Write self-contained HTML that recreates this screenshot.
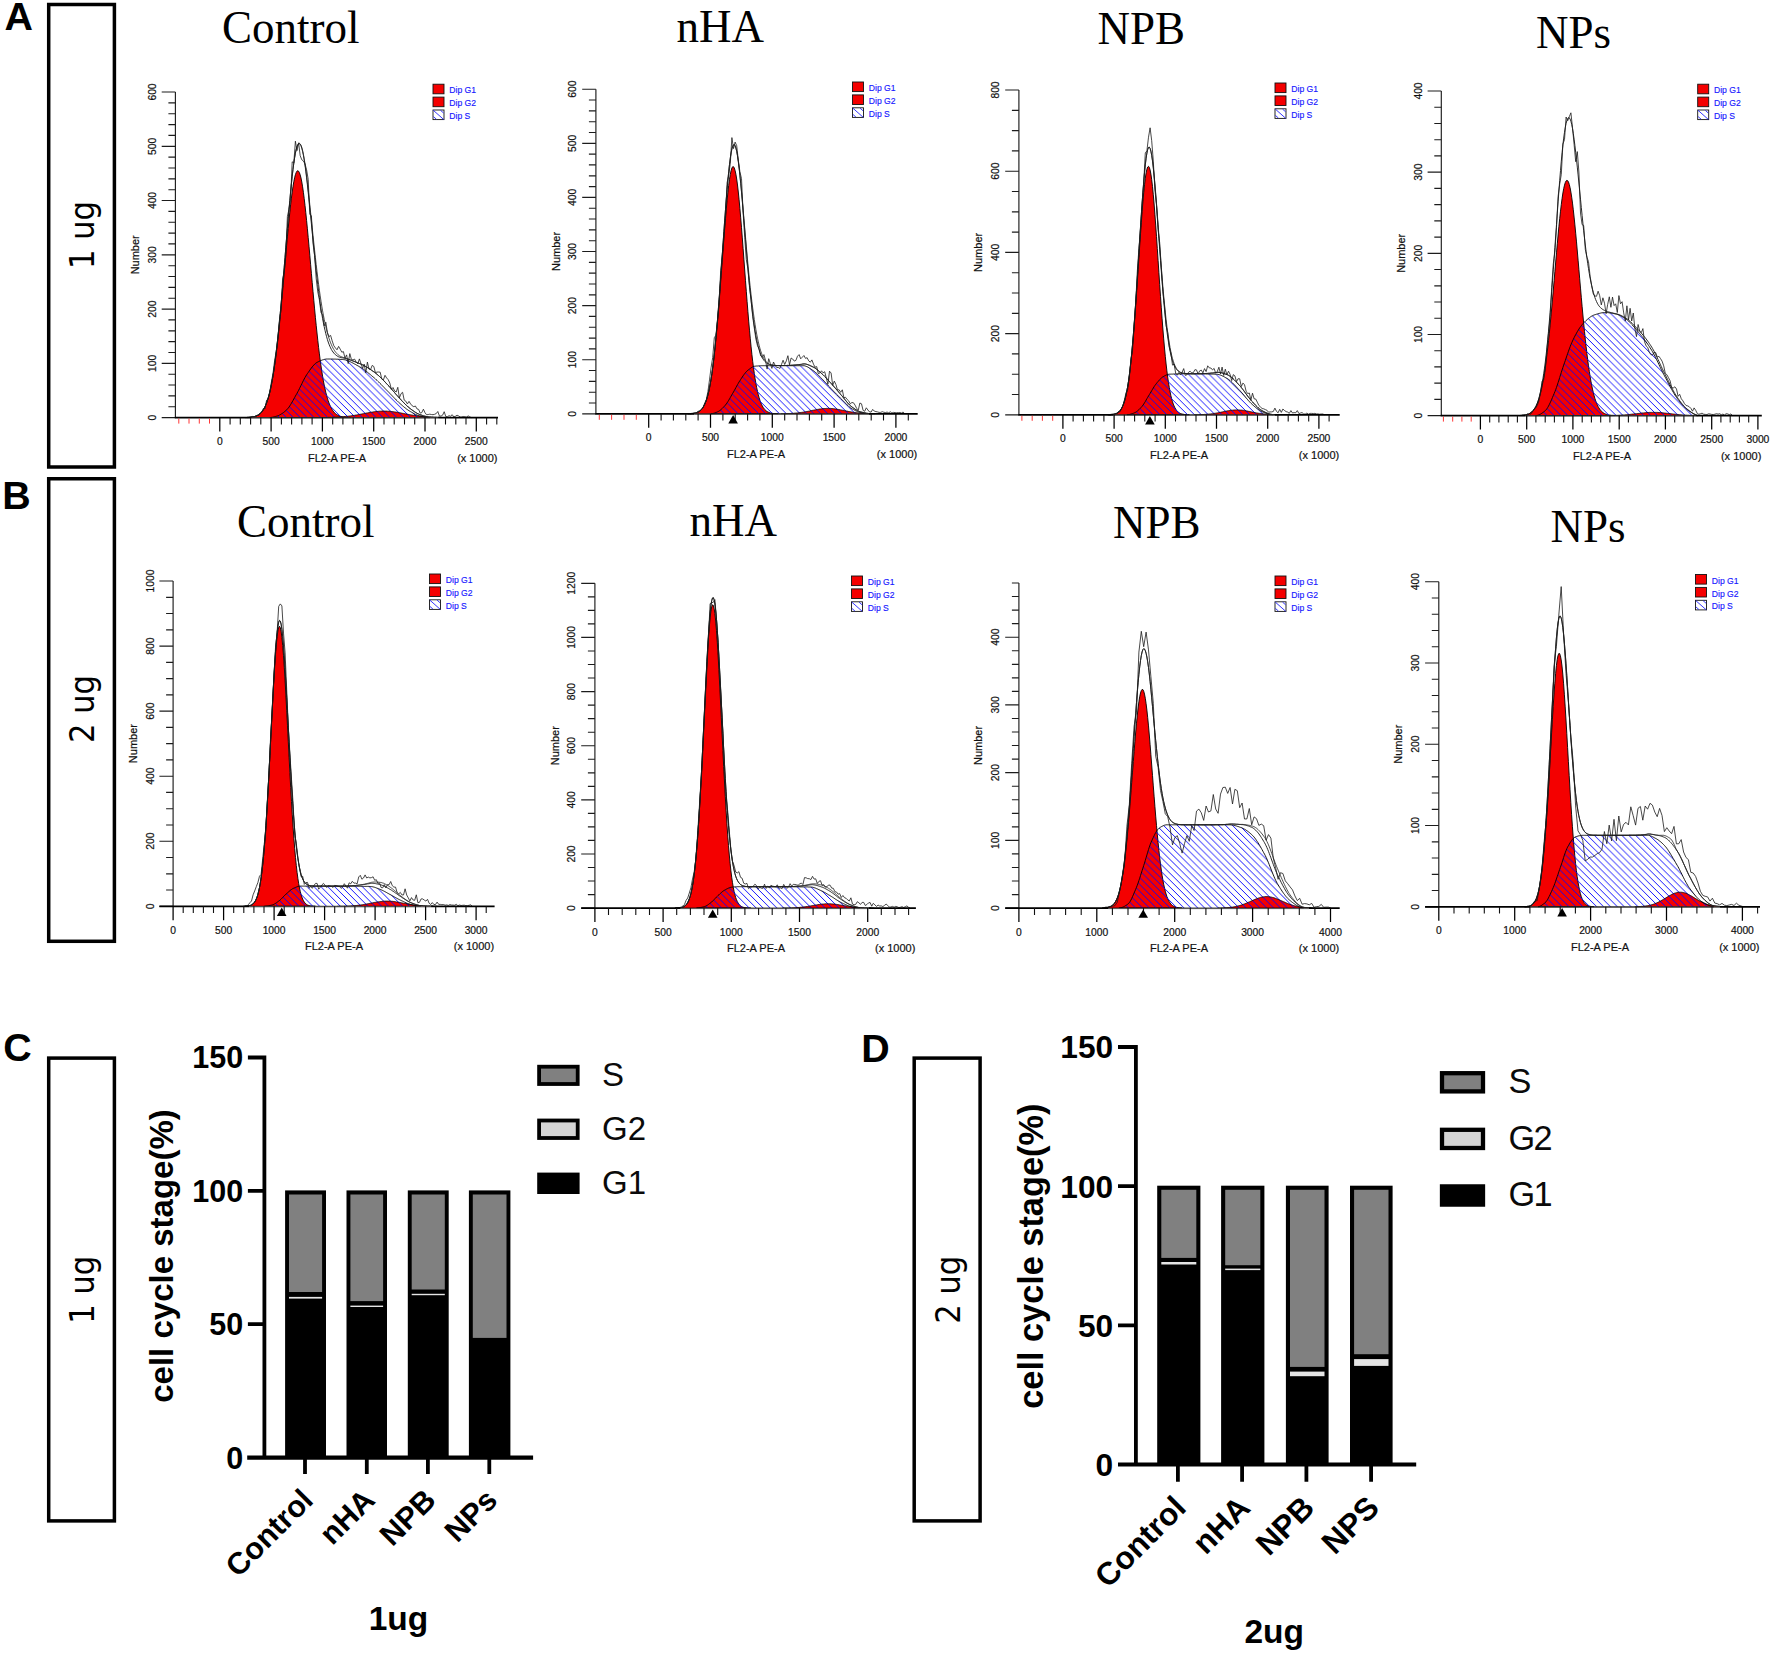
<!DOCTYPE html>
<html lang="en"><head><meta charset="utf-8"><title>Cell cycle analysis</title>
<style>html,body{margin:0;padding:0;background:#fff}svg{display:block}</style></head><body>
<svg width="1772" height="1654" viewBox="0 0 1772 1654">
<defs>
<pattern id="hatch" width="6.9" height="6.9" patternUnits="userSpaceOnUse"><path d="M-1,-1L8,8M-1,5.9L1,7.9M5.9,-1L7.9,1" stroke="#0505ff" stroke-width="0.95" fill="none"/></pattern>
<pattern id="hatchL" width="4" height="4" patternUnits="userSpaceOnUse"><rect width="4" height="4" fill="#fff"/></pattern>
</defs>
<rect width="1772" height="1654" fill="#fff"/>
<g font-family='"Liberation Sans", sans-serif' font-weight="bold" font-size="39.4" fill="#000">
<text x="4.6" y="29.9">A</text><text x="2.3" y="509">B</text><text x="3.2" y="1061.4">C</text><text x="861.2" y="1061.5">D</text>
</g>
<g fill="none" stroke="#000" stroke-width="3.5">
<rect x="48.7" y="4.5" width="65.7" height="462.5"/>
<rect x="48.7" y="478.75" width="65.7" height="462.55"/>
<rect x="48.7" y="1058.1" width="65.7" height="462.8"/>
<rect x="914.2" y="1058.1" width="65.9" height="462.8"/>
</g>
<g font-family='"DejaVu Sans Condensed", "DejaVu Sans", "Liberation Sans", sans-serif' fill="#000" text-anchor="middle">
<text transform="translate(94.2,235) rotate(-90)" font-size="34">1 ug</text>
<text transform="translate(94.2,709) rotate(-90)" font-size="34">2 ug</text>
<text transform="translate(94.1,1289.8) rotate(-90)" font-size="34">1 ug</text>
<text transform="translate(960,1289.8) rotate(-90)" font-size="34">2 ug</text>
</g>
<g font-family='"Liberation Serif", serif' font-size="45" fill="#000">
<text transform="translate(222.1,43.2) scale(1,1.04)">Control</text>
<text transform="translate(676.6,42.3) scale(1,1.04)">nHA</text>
<text transform="translate(1097.6,43.6) scale(1,1.04)">NPB</text>
<text transform="translate(1536.1,47.6) scale(1,1.04)">NPs</text>
<text transform="translate(237.1,537.3) scale(1,1.04)">Control</text>
<text transform="translate(689.6,536.3) scale(1,1.04)">nHA</text>
<text transform="translate(1112.9,537.6) scale(1,1.04)">NPB</text>
<text transform="translate(1550.6,541.6) scale(1,1.04)">NPs</text>
</g>
<g>
<path d="M245,417.5L245.8,417.5L246.6,417.5L247.4,417.4L248.2,417.4L249,417.4L249.8,417.3L250.6,417.2L251.4,417.1L252.2,417L253,416.9L253.8,416.7L254.6,416.5L255.4,416.2L256.2,416L257,415.6L257.8,415.2L258.6,414.7L259.4,414.1L260.2,413.5L261,412.7L261.8,411.8L262.6,410.8L263.4,409.6L264.2,408.2L265,406.6L265.8,404.9L266.6,402.8L267.4,400.6L268.2,398L269,395.2L269.8,392.1L270.6,388.6L271.4,384.7L272.2,380.5L273,375.9L273.8,371L274.6,365.6L275.4,359.8L276.2,353.6L277,347L277.8,340L278.6,332.6L279.4,324.8L280.2,316.8L281,308.4L281.8,299.8L282.6,291L283.4,282L284.2,272.9L285,263.8L285.8,254.7L286.6,245.7L287.4,236.9L288.2,228.3L289,220.1L289.8,212.3L290.6,204.9L291.4,198.1L292.2,192L293,186.5L293.8,181.7L294.6,177.8L295.4,174.7L296.2,172.5L297,171.1L297.8,170.7L298.6,171.2L299.4,172.6L300.2,174.9L301,178L301.8,182L302.6,186.8L303.4,192.3L304.2,198.5L305,205.4L305.8,212.7L306.6,220.6L307.4,228.8L308.2,237.4L309,246.2L309.8,255.2L310.6,264.3L311.4,273.4L312.2,282.5L313,291.5L313.8,300.3L314.6,308.9L315.4,317.3L316.2,325.3L317,333L317.8,340.4L318.6,347.4L319.4,353.9L320.2,360.1L321,365.9L321.8,371.3L322.6,376.2L323.4,380.8L324.2,385L325,388.8L325.8,392.3L326.6,395.4L327.4,398.2L328.2,400.7L329,403L329.8,405L330.6,406.7L331.4,408.3L332.2,409.6L333,410.8L333.8,411.9L334.6,412.8L335.4,413.5L336.2,414.2L337,414.7L337.8,415.2L338.6,415.6L339.4,416L340.2,416.3L341,416.5L341.8,416.7L342.6,416.9L343.4,417L344.2,417.1L345,417.2L345.8,417.3L346.6,417.4L347.4,417.4L348.2,417.4L349,417.5L349.8,417.5L350.6,417.5L350.6,417.6L245,417.6Z" fill="#f40000" stroke="#000" stroke-width="0.9" stroke-linejoin="round"/>
<path d="M322.6,417.5L323.4,417.5L324.2,417.5L325,417.5L325.8,417.5L326.6,417.5L327.4,417.5L328.2,417.4L329,417.4L329.8,417.4L330.6,417.4L331.4,417.4L332.2,417.3L333,417.3L333.8,417.3L334.6,417.2L335.4,417.2L336.2,417.2L337,417.1L337.8,417.1L338.6,417L339.4,417L340.2,416.9L341,416.9L341.8,416.8L342.6,416.7L343.4,416.7L344.2,416.6L345,416.5L345.8,416.4L346.6,416.4L347.4,416.3L348.2,416.2L349,416.1L349.8,416L350.6,415.9L351.4,415.8L352.2,415.6L353,415.5L353.8,415.4L354.6,415.3L355.4,415.1L356.2,415L357,414.9L357.8,414.7L358.6,414.6L359.4,414.4L360.2,414.3L361,414.1L361.8,414L362.6,413.8L363.4,413.7L364.2,413.5L365,413.4L365.8,413.2L366.6,413L367.4,412.9L368.2,412.8L369,412.6L369.8,412.5L370.6,412.3L371.4,412.2L372.2,412.1L373,412L373.8,411.8L374.6,411.7L375.4,411.6L376.2,411.5L377,411.5L377.8,411.4L378.6,411.3L379.4,411.2L380.2,411.2L381,411.2L381.8,411.1L382.6,411.1L383.4,411.1L384.2,411.1L385,411.1L385.8,411.1L386.6,411.1L387.4,411.2L388.2,411.2L389,411.3L389.8,411.3L390.6,411.4L391.4,411.5L392.2,411.6L393,411.7L393.8,411.8L394.6,411.9L395.4,412L396.2,412.1L397,412.3L397.8,412.4L398.6,412.6L399.4,412.7L400.2,412.8L401,413L401.8,413.1L402.6,413.3L403.4,413.4L404.2,413.6L405,413.8L405.8,413.9L406.6,414.1L407.4,414.2L408.2,414.4L409,414.5L409.8,414.7L410.6,414.8L411.4,414.9L412.2,415.1L413,415.2L413.8,415.3L414.6,415.5L415.4,415.6L416.2,415.7L417,415.8L417.8,415.9L418.6,416L419.4,416.1L420.2,416.2L421,416.3L421.8,416.4L422.6,416.5L423.4,416.6L424.2,416.6L425,416.7L425.8,416.8L426.6,416.8L427.4,416.9L428.2,417L429,417L429.8,417.1L430.6,417.1L431.4,417.2L432.2,417.2L433,417.2L433.8,417.3L434.6,417.3L435.4,417.3L436.2,417.3L437,417.4L437.8,417.4L438.6,417.4L439.4,417.4L440.2,417.4L441,417.5L441.8,417.5L442.6,417.5L443.4,417.5L444.2,417.5L445,417.5L445,417.6L322.6,417.6Z" fill="#f40000"/>
<path d="M269.8,417.6L270.6,417.5L271.4,417.4L272.2,417.3L273,417.1L273.8,416.9L274.6,416.7L275.4,416.5L276.2,416.3L277,416L277.8,415.8L278.6,415.5L279.4,415.1L280.2,414.7L281,414.2L281.8,413.7L282.6,413.2L283.4,412.6L284.2,412L285,411.3L285.8,410.6L286.6,409.9L287.4,409.1L288.2,408.1L289,407.1L289.8,405.9L290.6,404.6L291.4,403.3L292.2,401.9L293,400.5L293.8,399L294.6,397.6L295.4,396.1L296.2,394.7L297,393.3L297.8,391.8L298.6,390.3L299.4,388.7L300.2,387.1L301,385.4L301.8,383.8L302.6,382.1L303.4,380.5L304.2,379L305,377.5L305.8,376.1L306.6,374.8L307.4,373.6L308.2,372.5L309,371.3L309.8,370.2L310.6,369L311.4,368L312.2,366.9L313,366L313.8,365.1L314.6,364.2L315.4,363.5L316.2,362.9L317,362.4L317.8,362L318.6,361.6L319.4,361.2L320.2,360.9L321,360.5L321.8,360.2L322.6,359.9L323.4,359.7L324.2,359.4L325,359.3L325.8,359.1L326.6,359L327.4,359L328.2,359L329,359L329.8,359L330.6,359L331.4,359L332.2,359L333,359.1L333.8,359.1L334.6,359.1L335.4,359.1L336.2,359.2L337,359.2L337.8,359.2L338.6,359.3L339.4,359.3L340.2,359.4L341,359.4L341.8,359.5L342.6,359.5L343.4,359.6L344.2,359.7L345,359.8L345.8,360L346.6,360.3L347.4,360.5L348.2,360.8L349,361.1L349.8,361.5L350.6,361.9L351.4,362.3L352.2,362.7L353,363.1L353.8,363.5L354.6,364L355.4,364.4L356.2,364.9L357,365.3L357.8,365.8L358.6,366.2L359.4,366.7L360.2,367.1L361,367.6L361.8,368.1L362.6,368.7L363.4,369.2L364.2,369.8L365,370.4L365.8,371L366.6,371.6L367.4,372.2L368.2,372.9L369,373.5L369.8,374.2L370.6,374.8L371.4,375.5L372.2,376.2L373,376.9L373.8,377.5L374.6,378.2L375.4,378.9L376.2,379.7L377,380.4L377.8,381.2L378.6,381.9L379.4,382.7L380.2,383.5L381,384.3L381.8,385.2L382.6,386L383.4,386.8L384.2,387.6L385,388.5L385.8,389.3L386.6,390.1L387.4,390.9L388.2,391.7L389,392.5L389.8,393.4L390.6,394.2L391.4,395L392.2,395.8L393,396.7L393.8,397.5L394.6,398.3L395.4,399.1L396.2,400L397,400.7L397.8,401.5L398.6,402.3L399.4,403L400.2,403.7L401,404.4L401.8,405.1L402.6,405.8L403.4,406.5L404.2,407.2L405,407.8L405.8,408.4L406.6,409.1L407.4,409.6L408.2,410.2L409,410.7L409.8,411.2L410.6,411.7L411.4,412.1L412.2,412.6L413,413.1L413.8,413.5L414.6,413.9L415.4,414.3L416.2,414.7L417,415L417.8,415.3L418.6,415.6L419.4,415.9L420.2,416.1L421,416.2L421.8,416.4L422.6,416.6L423.4,416.8L424.2,416.9L425,417.1L425.8,417.2L426.6,417.3L427.4,417.4L428.2,417.5L429,417.6L429.8,417.6L429.8,417.6L269.8,417.6Z" fill="url(#hatch)" stroke="#000" stroke-width="0.9" stroke-linejoin="round"/>
<path d="M322.6,417.5L323.4,417.5L324.2,417.5L325,417.5L325.8,417.5L326.6,417.5L327.4,417.5L328.2,417.4L329,417.4L329.8,417.4L330.6,417.4L331.4,417.4L332.2,417.3L333,417.3L333.8,417.3L334.6,417.2L335.4,417.2L336.2,417.2L337,417.1L337.8,417.1L338.6,417L339.4,417L340.2,416.9L341,416.9L341.8,416.8L342.6,416.7L343.4,416.7L344.2,416.6L345,416.5L345.8,416.4L346.6,416.4L347.4,416.3L348.2,416.2L349,416.1L349.8,416L350.6,415.9L351.4,415.8L352.2,415.6L353,415.5L353.8,415.4L354.6,415.3L355.4,415.1L356.2,415L357,414.9L357.8,414.7L358.6,414.6L359.4,414.4L360.2,414.3L361,414.1L361.8,414L362.6,413.8L363.4,413.7L364.2,413.5L365,413.4L365.8,413.2L366.6,413L367.4,412.9L368.2,412.8L369,412.6L369.8,412.5L370.6,412.3L371.4,412.2L372.2,412.1L373,412L373.8,411.8L374.6,411.7L375.4,411.6L376.2,411.5L377,411.5L377.8,411.4L378.6,411.3L379.4,411.2L380.2,411.2L381,411.2L381.8,411.1L382.6,411.1L383.4,411.1L384.2,411.1L385,411.1L385.8,411.1L386.6,411.1L387.4,411.2L388.2,411.2L389,411.3L389.8,411.3L390.6,411.4L391.4,411.5L392.2,411.6L393,411.7L393.8,411.8L394.6,411.9L395.4,412L396.2,412.1L397,412.3L397.8,412.4L398.6,412.6L399.4,412.7L400.2,412.8L401,413L401.8,413.1L402.6,413.3L403.4,413.4L404.2,413.6L405,413.8L405.8,413.9L406.6,414.1L407.4,414.2L408.2,414.4L409,414.5L409.8,414.7L410.6,414.8L411.4,414.9L412.2,415.1L413,415.2L413.8,415.3L414.6,415.5L415.4,415.6L416.2,415.7L417,415.8L417.8,415.9L418.6,416L419.4,416.1L420.2,416.2L421,416.3L421.8,416.4L422.6,416.5L423.4,416.6L424.2,416.6L425,416.7L425.8,416.8L426.6,416.8L427.4,416.9L428.2,417L429,417L429.8,417.1L430.6,417.1L431.4,417.2L432.2,417.2L433,417.2L433.8,417.3L434.6,417.3L435.4,417.3L436.2,417.3L437,417.4L437.8,417.4L438.6,417.4L439.4,417.4L440.2,417.4L441,417.5L441.8,417.5L442.6,417.5L443.4,417.5L444.2,417.5L445,417.5" fill="none" stroke="#000" stroke-width="0.8" stroke-linejoin="round"/>
<path d="M247.4,417.4L248.2,417.4L249,417.4L249.8,417.3L250.6,417.2L251.4,417.1L252.2,417L253,416.9L253.8,416.7L254.6,416.5L255.4,416.2L256.2,416L257,415.6L257.8,415.2L258.6,414.7L259.4,414.1L260.2,413.5L261,412.7L261.8,411.8L262.6,410.8L263.4,409.6L264.2,408.2L265,406.6L265.8,404.9L266.6,402.8L267.4,400.6L268.2,398L269,395.2L269.8,392L270.6,388.5L271.4,384.6L272.2,380.2L273,375.5L273.8,370.3L274.6,364.7L275.4,358.7L276.2,352.2L277,345.4L277.8,338.1L278.6,330.5L279.4,322.4L280.2,313.9L281,305.1L281.8,295.9L282.6,286.6L283.4,277L284.2,267.3L285,257.5L285.8,247.7L286.6,238L287.4,228.4L288.2,218.9L289,209.5L289.8,200.6L290.6,191.9L291.4,183.8L292.2,176.3L293,169.4L293.8,163.2L294.6,157.8L295.4,153.2L296.2,149.5L297,146.8L297.8,144.9L298.6,143.9L299.4,143.7L300.2,144.3L301,145.8L301.8,148.2L302.6,151.3L303.4,155.2L304.2,159.9L305,165.2L305.8,171.2L306.6,177.8L307.4,184.8L308.2,192.3L309,199.9L309.8,207.8L310.6,215.7L311.4,223.8L312.2,231.8L313,239.8L313.8,247.7L314.6,255.5L315.4,263.1L316.2,270.6L317,277.8L317.8,284.7L318.6,291.3L319.4,297.5L320.2,303.3L321,308.8L321.8,313.8L322.6,318.5L323.4,322.8L324.2,326.7L325,330.3L325.8,333.7L326.6,336.7L327.4,339.5L328.2,342L329,344.2L329.8,346.2L330.6,347.9L331.4,349.5L332.2,350.8L333,352L333.8,353L334.6,353.9L335.4,354.7L336.2,355.3L337,355.9L337.8,356.4L338.6,356.8L339.4,357.1L340.2,357.4L341,357.6L341.8,357.8L342.6,357.9L343.4,358.1L344.2,358.2L345,358.4L345.8,358.6L346.6,358.8L347.4,359L348.2,359.2L349,359.5L349.8,359.8L350.6,360.1L351.4,360.4L352.2,360.7L353,361L353.8,361.3L354.6,361.6L355.4,361.9L356.2,362.3L357,362.6L357.8,362.9L358.6,363.2L359.4,363.5L360.2,363.8L361,364.1L361.8,364.5L362.6,364.9L363.4,365.3L364.2,365.7L365,366.1L365.8,366.6L366.6,367.1L367.4,367.5L368.2,368L369,368.5L369.8,369L370.6,369.6L371.4,370.1L372.2,370.7L373,371.2L373.8,371.8L374.6,372.3L375.4,373L376.2,373.6L377,374.3L377.8,374.9L378.6,375.7L379.4,376.4L380.2,377.1L381,377.9L381.8,378.7L382.6,379.5L383.4,380.3L384.2,381.1L385,382L385.8,382.8L386.6,383.7L387.4,384.5L388.2,385.4L389,386.2L389.8,387.1L390.6,388L391.4,388.9L392.2,389.8L393,390.8L393.8,391.7L394.6,392.6L395.4,393.6L396.2,394.5L397,395.4L397.8,396.3L398.6,397.2L399.4,398.1L400.2,398.9L401,399.8L401.8,400.7L402.6,401.5L403.4,402.3L404.2,403.2L405,404L405.8,404.8L406.6,405.5L407.4,406.2L408.2,407L409,407.6L409.8,408.3L410.6,408.9L411.4,409.5L412.2,410.1L413,410.7L413.8,411.2L414.6,411.8L415.4,412.3L416.2,412.8L417,413.2L417.8,413.7L418.6,414L419.4,414.4L420.2,414.7L421,415L421.8,415.2L422.6,415.5L423.4,415.8L424.2,416L425,416.2L425.8,416.4L426.6,416.6L427.4,416.7L428.2,416.9L429,417L429.8,417.1L430.6,417.1L431.4,417.2L432.2,417.2L433,417.2L433.8,417.3L434.6,417.3L435.4,417.3L436.2,417.3L437,417.4L437.8,417.4L438.6,417.4L439.4,417.4L440.2,417.4" fill="none" stroke="#111" stroke-width="0.9" stroke-linejoin="round"/>
<path d="M247.4,417.4L248.2,417.4L249,417.4L249.8,417.3L250.6,417.2L251.4,417.1L252.2,417L253,416.9L253.8,416.7L254.6,416.5L255.4,416.2L256.2,416L257,415.6L257.8,415.2L258.6,414.7L259.4,414.1L260.2,413.5L261,412.7L261.8,411.8L262.6,410.8L263.4,409.6L264.2,408.2L265,406.6L265.8,404.9L266.6,402.8L267.4,400.6L268.2,398L269,395.2L269.8,392L270.6,388.5L271.4,384.6L272.2,380.2L273,375.5L273.8,370.3L274.6,364.7L275.4,358.7L276.2,352.2L277,345.4L277.8,338.1L278.6,330.5L279.4,322.4L280.2,313.9L281,305.1L281.8,295.9L282.6,286.5L283.4,277L284.2,267.3L285,257.5L285.8,247.7L286.6,238L287.4,228.4L288.2,218.8L289,209.5L289.8,200.5L290.6,191.9L291.4,183.8L292.2,176.2L293,169.3L293.8,163.1L294.6,157.7L295.4,153.1L296.2,149.4L297,146.6L297.8,144.7L298.6,143.6L299.4,143.3L300.2,143.9L301,145.3L301.8,147.5L302.6,150.5L303.4,154.3L304.2,158.8L305,163.9L305.8,169.7L306.6,176L307.4,182.8L308.2,189.9L309,197.3L309.8,204.8L310.6,212.4L311.4,220L312.2,227.7L313,235.3L313.8,242.8L314.6,250.2L315.4,257.4L316.2,264.5L317,271.4L317.8,278L318.6,284.3L319.4,290.3L320.2,295.9L321,301.2L321.8,306.2L322.6,310.9L323.4,315.2L324.2,319.3L325,323L325.8,326.6L326.6,329.8L327.4,332.9L328.2,335.7L329,338.3L329.8,340.7L330.6,342.8L331.4,344.7L332.2,346.5L333,348.1L333.8,349.5L334.6,350.7L335.4,351.9L336.2,352.8L337,353.7L337.8,354.5L338.6,355.1L339.4,355.7L340.2,356.2L341,356.6L341.8,356.9L342.6,357.2L343.4,357.5L344.2,357.7L345,358L345.8,358.3L346.6,358.5L347.4,358.8L348.2,359.1L349,359.4L349.8,359.7L350.6,360L351.4,360.3L352.2,360.6L353,361L353.8,361.3L354.6,361.6L355.4,361.9L356.2,362.3L357,362.6L357.8,362.9L358.6,363.2L359.4,363.5L360.2,363.8L361,364.1L361.8,364.5L362.6,364.9L363.4,365.3L364.2,365.7L365,366.1L365.8,366.6L366.6,367.1L367.4,367.5L368.2,368L369,368.5L369.8,369L370.6,369.6L371.4,370.1L372.2,370.7L373,371.2L373.8,371.8L374.6,372.3L375.4,373L376.2,373.6L377,374.3L377.8,374.9L378.6,375.7L379.4,376.4L380.2,377.1L381,377.9L381.8,378.7L382.6,379.5L383.4,380.3L384.2,381.1L385,382L385.8,382.8L386.6,383.7L387.4,384.5L388.2,385.4L389,386.2L389.8,387.1L390.6,388L391.4,388.9L392.2,389.8L393,390.8L393.8,391.7L394.6,392.6L395.4,393.6L396.2,394.5L397,395.4L397.8,396.3L398.6,397.2L399.4,398.1L400.2,398.9L401,399.8L401.8,400.7L402.6,401.5L403.4,402.3L404.2,403.2L405,404L405.8,404.8L406.6,405.5L407.4,406.2L408.2,407L409,407.6L409.8,408.3L410.6,408.9L411.4,409.5L412.2,410.1L413,410.7L413.8,411.2L414.6,411.8L415.4,412.3L416.2,412.8L417,413.2L417.8,413.7L418.6,414L419.4,414.4L420.2,414.7L421,415L421.8,415.2L422.6,415.5L423.4,415.8L424.2,416L425,416.2L425.8,416.4L426.6,416.6L427.4,416.7L428.2,416.9L429,417L429.8,417.1L430.6,417.1L431.4,417.2L432.2,417.2L433,417.2L433.8,417.3L434.6,417.3L435.4,417.3L436.2,417.3L437,417.4L437.8,417.4L438.6,417.4L439.4,417.4L440.2,417.4" fill="none" stroke="#222" stroke-width="0.8" stroke-linejoin="round"/>
<path d="M247.4,417.6L249,417.4L250.6,417.3L252.2,416.4L253.8,416.9L255.4,416.4L257,415.3L258.6,415.5L260.2,413.9L261.8,411.8L263.4,408.4L265,408.9L266.6,400.1L268.2,398.9L269.8,391.6L271.4,382L273,373.3L274.6,360.7L276.2,351.5L277.8,338.2L279.4,320.6L281,310.3L282.6,279L284.2,271.6L285.8,255.4L287.4,216.5L289,209L290.6,199.1L292.2,161.8L293.8,163.1L295.4,141.2L297,150.6L298.6,142.8L300.2,155.7L301.8,159.8L303.4,161L305,163.9L306.6,169.8L308.2,179.4L309.8,214.5L311.4,215.7L313,243.2L314.6,255.6L316.2,278.7L317.8,292L319.4,299.9L321,312.5L322.6,314.9L324.2,325.8L325.8,322.2L327.4,332.5L329,336.6L330.6,335.4L332.2,340.9L333.8,345.7L335.4,347.9L337,349.8L338.6,346.4L340.2,349.1L341.8,352.2L343.4,351.6L345,358.1L346.6,354.9L348.2,363.6L349.8,353.6L351.4,359.4L353,359.9L354.6,359.1L356.2,362.2L357.8,363.8L359.4,358.9L361,363.7L362.6,368.3L364.2,364.1L365.8,372.9L367.4,362.1L369,369.1L370.6,369.4L372.2,365.4L373.8,366.5L375.4,372.6L377,372.1L378.6,372L380.2,372.2L381.8,379.1L383.4,379.9L385,375.3L386.6,377.9L388.2,379.7L389.8,383L391.4,389.4L393,387.5L394.6,390.9L396.2,392L397.8,387.3L399.4,397.9L401,393.7L402.6,392.3L404.2,400.1L405.8,401.2L407.4,403.9L409,401.4L410.6,403.9L412.2,405.8L413.8,406.7L415.4,406L417,408.9L418.6,409.4L420.2,413.1L421.8,412.6L423.4,409.2L425,412.7L426.6,414.8L428.2,414.5L429.8,414.2L431.4,414.5L433,414.7L434.6,414.3L436.2,413.6L437.8,411.5L439.4,415.9L441,416.1L442.6,415.2L444.2,411.7L445.8,416.6L447.4,416.7L449,415.7L450.6,416.2L452.2,414.7L453.8,416.9L455.4,416.3L457,415.2L458.6,415.9L460.2,417L461.8,417L463.4,416.5L465,416.9L466.6,417L468.2,415.9L469.8,416.9L471.4,417.6" fill="none" stroke="#1a1a1a" stroke-width="0.8" stroke-linejoin="round"/>
<g stroke="#1c1c1c" stroke-width="1.15" fill="none">
<path d="M175.4,92V417.6"/>
<path d="M161.7,417.6H175.4M168.4,406.7H175.4M168.4,395.9H175.4M168.4,385H175.4M168.4,374.2H175.4M161.7,363.3H175.4M168.4,352.5H175.4M168.4,341.6H175.4M168.4,330.8H175.4M168.4,319.9H175.4M161.7,309.1H175.4M168.4,298.2H175.4M168.4,287.4H175.4M168.4,276.5H175.4M168.4,265.7H175.4M161.7,254.8H175.4M168.4,243.9H175.4M168.4,233.1H175.4M168.4,222.2H175.4M168.4,211.4H175.4M161.7,200.5H175.4M168.4,189.7H175.4M168.4,178.8H175.4M168.4,168H175.4M168.4,157.1H175.4M161.7,146.3H175.4M168.4,135.4H175.4M168.4,124.6H175.4M168.4,113.7H175.4M168.4,102.9H175.4M161.7,92H175.4"/>
</g>
<path d="M174.8,417.6H251.4M438.2,417.6H498" stroke="#000" stroke-width="1.8"/>
<path d="M251.4,418.1H438.2" stroke="#555" stroke-width="1"/>
<path d="M178.8,418.6V423.6M189,418.6V423.6M199.3,418.6V423.6M209.5,418.6V423.6" stroke="#ff2020" stroke-width="0.9"/>
<path d="M219.8,417.6V431.6M271.1,417.6V431.6M322.4,417.6V431.6M373.7,417.6V431.6M425,417.6V431.6M476.3,417.6V431.6" stroke="#000" stroke-width="1.25"/>
<path d="M230.1,417.6V424.4M240.3,417.6V424.4M250.6,417.6V424.4M260.8,417.6V424.4M281.4,417.6V424.4M291.6,417.6V424.4M301.9,417.6V424.4M312.1,417.6V424.4M332.7,417.6V424.4M342.9,417.6V424.4M353.2,417.6V424.4M363.4,417.6V424.4M384,417.6V424.4M394.2,417.6V424.4M404.5,417.6V424.4M414.7,417.6V424.4M435.3,417.6V424.4M445.5,417.6V424.4M455.8,417.6V424.4M466,417.6V424.4M486.6,417.6V424.4M496.8,417.6V424.4" stroke="#111" stroke-width="1.1"/>
<g font-family='"Liberation Sans", sans-serif' font-size="10.3" fill="#111" stroke="#111" stroke-width="0.2" text-anchor="middle">
<text x="219.8" y="445">0</text>
<text x="271.1" y="445">500</text>
<text x="322.4" y="445">1000</text>
<text x="373.7" y="445">1500</text>
<text x="425" y="445">2000</text>
<text x="476.3" y="445">2500</text>
<text transform="translate(155.9,417.6) rotate(-90)">0</text>
<text transform="translate(155.9,363.3) rotate(-90)">100</text>
<text transform="translate(155.9,309.1) rotate(-90)">200</text>
<text transform="translate(155.9,254.8) rotate(-90)">300</text>
<text transform="translate(155.9,200.5) rotate(-90)">400</text>
<text transform="translate(155.9,146.3) rotate(-90)">500</text>
<text transform="translate(155.9,92) rotate(-90)">600</text>
</g>
<g font-family='"Liberation Sans", sans-serif' font-size="11" fill="#111" stroke="#111" stroke-width="0.2">
<text x="337" y="461.6" text-anchor="middle">FL2-A PE-A</text>
<text x="497.5" y="461.6" text-anchor="end">(x 1000)</text>
<text transform="translate(139,254.8) rotate(-90)" text-anchor="middle">Number</text>
</g>
<g font-family='"Liberation Sans", sans-serif' font-size="8.6" fill="#1818ff" stroke="#1818ff" stroke-width="0.15">
<rect x="433" y="84.2" width="11" height="9.6" fill="#f40000" stroke="#111" stroke-width="0.9"/>
<text x="449.3" y="93.3">Dip G1</text>
<rect x="433" y="97.1" width="11" height="9.6" fill="#f40000" stroke="#111" stroke-width="0.9"/>
<text x="449.3" y="106.2">Dip G2</text>
<rect x="433" y="110" width="11" height="9.6" fill="url(#hatchL)" stroke="#111" stroke-width="0.9"/>
<path d="M433.3,110.3l10.4,9.2M440.6,110.4l3,2.6M433.4,116.6l3,2.6" stroke="#2020ff" stroke-width="0.9"/>
<text x="449.3" y="119.1">Dip S</text>
</g>
</g>
<g>
<path d="M687.9,413.7L688.7,413.7L689.5,413.7L690.3,413.7L691.1,413.6L691.9,413.5L692.7,413.5L693.5,413.4L694.3,413.2L695.1,413.1L695.9,412.9L696.7,412.6L697.5,412.3L698.3,412L699.1,411.5L699.9,410.9L700.7,410.3L701.5,409.4L702.3,408.5L703.1,407.3L703.9,405.9L704.7,404.3L705.5,402.5L706.3,400.3L707.1,397.8L707.9,394.9L708.7,391.6L709.5,387.8L710.3,383.6L711.1,378.9L711.9,373.7L712.7,367.9L713.5,361.6L714.3,354.7L715.1,347.2L715.9,339.2L716.7,330.6L717.5,321.5L718.3,312L719.1,302.1L719.9,291.8L720.7,281.2L721.5,270.5L722.3,259.7L723.1,249L723.9,238.4L724.7,228.1L725.5,218.3L726.3,208.9L727.1,200.2L727.9,192.3L728.7,185.3L729.5,179.3L730.3,174.4L731.1,170.6L731.9,168L732.7,166.7L733.5,166.7L734.3,168L735.1,170.5L735.9,174.2L736.7,179L737.5,185L738.3,192L739.1,199.8L739.9,208.5L740.7,217.8L741.5,227.7L742.3,237.9L743.1,248.5L743.9,259.2L744.7,270L745.5,280.7L746.3,291.3L747.1,301.6L747.9,311.5L748.7,321.1L749.5,330.2L750.3,338.8L751.1,346.9L751.9,354.4L752.7,361.3L753.5,367.6L754.3,373.5L755.1,378.7L755.9,383.4L756.7,387.7L757.5,391.4L758.3,394.7L759.1,397.6L759.9,400.2L760.7,402.4L761.5,404.3L762.3,405.9L763.1,407.3L763.9,408.4L764.7,409.4L765.5,410.2L766.3,410.9L767.1,411.5L767.9,411.9L768.7,412.3L769.5,412.6L770.3,412.9L771.1,413.1L771.9,413.2L772.7,413.4L773.5,413.5L774.3,413.5L775.1,413.6L775.9,413.6L776.7,413.7L777.5,413.7L778.3,413.7L778.3,413.8L687.9,413.8Z" fill="#f40000" stroke="#000" stroke-width="0.9" stroke-linejoin="round"/>
<path d="M780.7,413.7L781.5,413.7L782.3,413.7L783.1,413.7L783.9,413.7L784.7,413.7L785.5,413.6L786.3,413.6L787.1,413.6L787.9,413.6L788.7,413.5L789.5,413.5L790.3,413.5L791.1,413.4L791.9,413.4L792.7,413.3L793.5,413.3L794.3,413.2L795.1,413.1L795.9,413.1L796.7,413L797.5,412.9L798.3,412.8L799.1,412.7L799.9,412.6L800.7,412.5L801.5,412.4L802.3,412.3L803.1,412.2L803.9,412L804.7,411.9L805.5,411.8L806.3,411.6L807.1,411.5L807.9,411.3L808.7,411.2L809.5,411L810.3,410.8L811.1,410.7L811.9,410.5L812.7,410.3L813.5,410.2L814.3,410L815.1,409.9L815.9,409.7L816.7,409.6L817.5,409.4L818.3,409.3L819.1,409.1L819.9,409L820.7,408.9L821.5,408.8L822.3,408.7L823.1,408.6L823.9,408.6L824.7,408.5L825.5,408.5L826.3,408.4L827.1,408.4L827.9,408.4L828.7,408.4L829.5,408.4L830.3,408.4L831.1,408.5L831.9,408.6L832.7,408.6L833.5,408.7L834.3,408.8L835.1,408.9L835.9,409L836.7,409.1L837.5,409.3L838.3,409.4L839.1,409.6L839.9,409.7L840.7,409.9L841.5,410L842.3,410.2L843.1,410.3L843.9,410.5L844.7,410.7L845.5,410.8L846.3,411L847.1,411.1L847.9,411.3L848.7,411.5L849.5,411.6L850.3,411.7L851.1,411.9L851.9,412L852.7,412.2L853.5,412.3L854.3,412.4L855.1,412.5L855.9,412.6L856.7,412.7L857.5,412.8L858.3,412.9L859.1,413L859.9,413.1L860.7,413.1L861.5,413.2L862.3,413.3L863.1,413.3L863.9,413.4L864.7,413.4L865.5,413.4L866.3,413.5L867.1,413.5L867.9,413.6L868.7,413.6L869.5,413.6L870.3,413.6L871.1,413.7L871.9,413.7L872.7,413.7L873.5,413.7L874.3,413.7L875.1,413.7L875.1,413.8L780.7,413.8Z" fill="#f40000"/>
<path d="M711.1,413.8L711.9,413.7L712.7,413.5L713.5,413.3L714.3,413.1L715.1,412.8L715.9,412.5L716.7,412.2L717.5,411.8L718.3,411.5L719.1,411L719.9,410.5L720.7,409.8L721.5,409.1L722.3,408.4L723.1,407.6L723.9,406.7L724.7,405.9L725.5,405L726.3,403.9L727.1,402.8L727.9,401.6L728.7,400.3L729.5,398.9L730.3,397.5L731.1,396.1L731.9,394.7L732.7,393.3L733.5,392L734.3,390.5L735.1,389.1L735.9,387.6L736.7,386.1L737.5,384.7L738.3,383.3L739.1,381.9L739.9,380.7L740.7,379.4L741.5,378.2L742.3,377L743.1,375.8L743.9,374.7L744.7,373.6L745.5,372.6L746.3,371.7L747.1,370.9L747.9,370.3L748.7,369.6L749.5,369L750.3,368.4L751.1,367.8L751.9,367.3L752.7,366.9L753.5,366.5L754.3,366.3L755.1,366.2L755.9,366.1L756.7,366L757.5,366L758.3,365.9L759.1,365.9L759.9,365.8L760.7,365.8L761.5,365.7L762.3,365.7L763.1,365.7L763.9,365.7L764.7,365.7L765.5,365.7L766.3,365.7L767.1,365.7L767.9,365.7L768.7,365.7L769.5,365.7L770.3,365.7L771.1,365.7L771.9,365.7L772.7,365.7L773.5,365.7L774.3,365.7L775.1,365.7L775.9,365.7L776.7,365.7L777.5,365.7L778.3,365.7L779.1,365.7L779.9,365.7L780.7,365.7L781.5,365.7L782.3,365.7L783.1,365.7L783.9,365.7L784.7,365.7L785.5,365.7L786.3,365.7L787.1,365.7L787.9,365.7L788.7,365.7L789.5,365.7L790.3,365.7L791.1,365.7L791.9,365.7L792.7,365.7L793.5,365.7L794.3,365.7L795.1,365.7L795.9,365.7L796.7,365.7L797.5,365.7L798.3,365.7L799.1,365.7L799.9,365.7L800.7,365.7L801.5,365.7L802.3,365.7L803.1,365.7L803.9,365.7L804.7,365.8L805.5,366.1L806.3,366.4L807.1,366.7L807.9,367.1L808.7,367.6L809.5,368.1L810.3,368.6L811.1,369.2L811.9,369.7L812.7,370.3L813.5,370.8L814.3,371.4L815.1,372L815.9,372.8L816.7,373.5L817.5,374.3L818.3,375.1L819.1,375.9L819.9,376.8L820.7,377.6L821.5,378.4L822.3,379.2L823.1,380L823.9,380.9L824.7,381.7L825.5,382.6L826.3,383.4L827.1,384.3L827.9,385.2L828.7,386.1L829.5,386.9L830.3,387.8L831.1,388.7L831.9,389.5L832.7,390.3L833.5,391.2L834.3,392L835.1,392.8L835.9,393.6L836.7,394.4L837.5,395.2L838.3,396L839.1,396.8L839.9,397.6L840.7,398.4L841.5,399.2L842.3,400L843.1,400.8L843.9,401.6L844.7,402.4L845.5,403.3L846.3,404.1L847.1,404.9L847.9,405.6L848.7,406.4L849.5,407L850.3,407.7L851.1,408.2L851.9,408.7L852.7,409.2L853.5,409.6L854.3,410L855.1,410.5L855.9,410.9L856.7,411.2L857.5,411.6L858.3,411.9L859.1,412.2L859.9,412.4L860.7,412.6L861.5,412.8L862.3,412.9L863.1,413L863.9,413.2L864.7,413.3L865.5,413.4L866.3,413.5L867.1,413.6L867.9,413.6L868.7,413.7L869.5,413.8L870.3,413.8L870.3,413.8L711.1,413.8Z" fill="url(#hatch)" stroke="#000" stroke-width="0.9" stroke-linejoin="round"/>
<path d="M780.7,413.7L781.5,413.7L782.3,413.7L783.1,413.7L783.9,413.7L784.7,413.7L785.5,413.6L786.3,413.6L787.1,413.6L787.9,413.6L788.7,413.5L789.5,413.5L790.3,413.5L791.1,413.4L791.9,413.4L792.7,413.3L793.5,413.3L794.3,413.2L795.1,413.1L795.9,413.1L796.7,413L797.5,412.9L798.3,412.8L799.1,412.7L799.9,412.6L800.7,412.5L801.5,412.4L802.3,412.3L803.1,412.2L803.9,412L804.7,411.9L805.5,411.8L806.3,411.6L807.1,411.5L807.9,411.3L808.7,411.2L809.5,411L810.3,410.8L811.1,410.7L811.9,410.5L812.7,410.3L813.5,410.2L814.3,410L815.1,409.9L815.9,409.7L816.7,409.6L817.5,409.4L818.3,409.3L819.1,409.1L819.9,409L820.7,408.9L821.5,408.8L822.3,408.7L823.1,408.6L823.9,408.6L824.7,408.5L825.5,408.5L826.3,408.4L827.1,408.4L827.9,408.4L828.7,408.4L829.5,408.4L830.3,408.4L831.1,408.5L831.9,408.6L832.7,408.6L833.5,408.7L834.3,408.8L835.1,408.9L835.9,409L836.7,409.1L837.5,409.3L838.3,409.4L839.1,409.6L839.9,409.7L840.7,409.9L841.5,410L842.3,410.2L843.1,410.3L843.9,410.5L844.7,410.7L845.5,410.8L846.3,411L847.1,411.1L847.9,411.3L848.7,411.5L849.5,411.6L850.3,411.7L851.1,411.9L851.9,412L852.7,412.2L853.5,412.3L854.3,412.4L855.1,412.5L855.9,412.6L856.7,412.7L857.5,412.8L858.3,412.9L859.1,413L859.9,413.1L860.7,413.1L861.5,413.2L862.3,413.3L863.1,413.3L863.9,413.4L864.7,413.4L865.5,413.4L866.3,413.5L867.1,413.5L867.9,413.6L868.7,413.6L869.5,413.6L870.3,413.6L871.1,413.7L871.9,413.7L872.7,413.7L873.5,413.7L874.3,413.7L875.1,413.7" fill="none" stroke="#000" stroke-width="0.8" stroke-linejoin="round"/>
<path d="M690.3,413.7L691.1,413.6L691.9,413.5L692.7,413.5L693.5,413.4L694.3,413.2L695.1,413.1L695.9,412.9L696.7,412.6L697.5,412.3L698.3,412L699.1,411.5L699.9,410.9L700.7,410.3L701.5,409.4L702.3,408.5L703.1,407.3L703.9,405.9L704.7,404.3L705.5,402.5L706.3,400.3L707.1,397.8L707.9,394.9L708.7,391.6L709.5,387.8L710.3,383.6L711.1,378.9L711.9,373.6L712.7,367.7L713.5,361.1L714.3,354L715.1,346.2L715.9,337.9L716.7,329L717.5,319.6L718.3,309.7L719.1,299.3L719.9,288.4L720.7,277.3L721.5,265.9L722.3,254.3L723.1,242.8L723.9,231.4L724.7,220.2L725.5,209.4L726.3,199.1L727.1,189.2L727.9,180.1L728.7,171.8L729.5,164.4L730.3,158.1L731.1,152.9L731.9,148.9L732.7,146.3L733.5,144.9L734.3,144.7L735.1,145.7L735.9,148L736.7,151.4L737.5,155.9L738.3,161.5L739.1,168L739.9,175.3L740.7,183.4L741.5,192.1L742.3,201.2L743.1,210.5L743.9,220.1L744.7,229.8L745.5,239.5L746.3,249.2L747.1,258.7L747.9,268L748.7,276.9L749.5,285.4L750.3,293.4L751.1,300.9L751.9,307.9L752.7,314.4L753.5,320.4L754.3,326L755.1,331.1L755.9,335.7L756.7,339.9L757.5,343.6L758.3,346.8L759.1,349.7L759.9,352.2L760.7,354.3L761.5,356.2L762.3,357.8L763.1,359.1L763.9,360.3L764.7,361.3L765.5,362.1L766.3,362.8L767.1,363.3L767.9,363.8L768.7,364.2L769.5,364.5L770.3,364.7L771.1,364.9L771.9,365.1L772.7,365.2L773.5,365.3L774.3,365.4L775.1,365.4L775.9,365.5L776.7,365.5L777.5,365.5L778.3,365.5L779.1,365.5L779.9,365.6L780.7,365.6L781.5,365.5L782.3,365.5L783.1,365.5L783.9,365.5L784.7,365.5L785.5,365.5L786.3,365.5L787.1,365.4L787.9,365.4L788.7,365.4L789.5,365.3L790.3,365.3L791.1,365.3L791.9,365.2L792.7,365.2L793.5,365.1L794.3,365L795.1,365L795.9,364.9L796.7,364.8L797.5,364.7L798.3,364.7L799.1,364.6L799.9,364.5L800.7,364.4L801.5,364.3L802.3,364.1L803.1,364L803.9,363.9L804.7,363.9L805.5,364L806.3,364.2L807.1,364.4L807.9,364.7L808.7,365L809.5,365.3L810.3,365.7L811.1,366.1L811.9,366.4L812.7,366.8L813.5,367.2L814.3,367.6L815.1,368.1L815.9,368.7L816.7,369.3L817.5,369.9L818.3,370.6L819.1,371.3L819.9,372L820.7,372.7L821.5,373.4L822.3,374.1L823.1,374.8L823.9,375.6L824.7,376.4L825.5,377.2L826.3,378.1L827.1,378.9L827.9,379.8L828.7,380.7L829.5,381.6L830.3,382.5L831.1,383.4L831.9,384.3L832.7,385.2L833.5,386.1L834.3,387L835.1,387.9L835.9,388.8L836.7,389.8L837.5,390.7L838.3,391.6L839.1,392.6L839.9,393.5L840.7,394.5L841.5,395.4L842.3,396.3L843.1,397.3L843.9,398.3L844.7,399.3L845.5,400.3L846.3,401.3L847.1,402.2L847.9,403.2L848.7,404L849.5,404.9L850.3,405.6L851.1,406.3L851.9,406.9L852.7,407.5L853.5,408.1L854.3,408.6L855.1,409.2L855.9,409.7L856.7,410.1L857.5,410.6L858.3,411L859.1,411.3L859.9,411.7L860.7,411.9L861.5,412.1L862.3,412.3L863.1,412.5L863.9,412.7L864.7,412.9L865.5,413L866.3,413.2L867.1,413.3L867.9,413.4L868.7,413.5L869.5,413.6L870.3,413.6L871.1,413.7" fill="none" stroke="#111" stroke-width="0.9" stroke-linejoin="round"/>
<path d="M690.3,413.7L691.1,413.6L691.9,413.5L692.7,413.5L693.5,413.4L694.3,413.2L695.1,413.1L695.9,412.9L696.7,412.6L697.5,412.3L698.3,412L699.1,411.5L699.9,410.9L700.7,410.3L701.5,409.4L702.3,408.5L703.1,407.3L703.9,405.9L704.7,404.3L705.5,402.5L706.3,400.3L707.1,397.8L707.9,394.9L708.7,391.6L709.5,387.8L710.3,383.6L711.1,378.9L711.9,373.6L712.7,367.7L713.5,361.1L714.3,354L715.1,346.2L715.9,337.9L716.7,329L717.5,319.6L718.3,309.7L719.1,299.3L719.9,288.4L720.7,277.3L721.5,265.9L722.3,254.3L723.1,242.8L723.9,231.4L724.7,220.2L725.5,209.4L726.3,199.1L727.1,189.2L727.9,180.1L728.7,171.8L729.5,164.4L730.3,158.1L731.1,152.9L731.9,148.9L732.7,146.2L733.5,144.8L734.3,144.6L735.1,145.7L735.9,147.9L736.7,151.2L737.5,155.7L738.3,161.2L739.1,167.6L739.9,174.8L740.7,182.8L741.5,191.2L742.3,200L743.1,209.1L743.9,218.3L744.7,227.6L745.5,236.9L746.3,246.1L747.1,255.1L747.9,263.9L748.7,272.3L749.5,280.3L750.3,287.8L751.1,295L751.9,301.7L752.7,308L753.5,313.9L754.3,319.5L755.1,324.7L755.9,329.6L756.7,334.1L757.5,338.2L758.3,341.9L759.1,345.2L759.9,348.2L760.7,350.9L761.5,353.2L762.3,355.3L763.1,357.1L763.9,358.6L764.7,359.9L765.5,361L766.3,361.9L767.1,362.7L767.9,363.3L768.7,363.8L769.5,364.2L770.3,364.5L771.1,364.8L771.9,365L772.7,365.1L773.5,365.3L774.3,365.3L775.1,365.4L775.9,365.5L776.7,365.5L777.5,365.5L778.3,365.5L779.1,365.5L779.9,365.6L780.7,365.6L781.5,365.5L782.3,365.5L783.1,365.5L783.9,365.5L784.7,365.5L785.5,365.5L786.3,365.5L787.1,365.4L787.9,365.4L788.7,365.4L789.5,365.3L790.3,365.3L791.1,365.3L791.9,365.2L792.7,365.2L793.5,365.1L794.3,365L795.1,365L795.9,364.9L796.7,364.8L797.5,364.7L798.3,364.7L799.1,364.6L799.9,364.5L800.7,364.4L801.5,364.3L802.3,364.1L803.1,364L803.9,363.9L804.7,363.9L805.5,364L806.3,364.2L807.1,364.4L807.9,364.7L808.7,365L809.5,365.3L810.3,365.7L811.1,366.1L811.9,366.4L812.7,366.8L813.5,367.2L814.3,367.6L815.1,368.1L815.9,368.7L816.7,369.3L817.5,369.9L818.3,370.6L819.1,371.3L819.9,372L820.7,372.7L821.5,373.4L822.3,374.1L823.1,374.8L823.9,375.6L824.7,376.4L825.5,377.2L826.3,378.1L827.1,378.9L827.9,379.8L828.7,380.7L829.5,381.6L830.3,382.5L831.1,383.4L831.9,384.3L832.7,385.2L833.5,386.1L834.3,387L835.1,387.9L835.9,388.8L836.7,389.8L837.5,390.7L838.3,391.6L839.1,392.6L839.9,393.5L840.7,394.5L841.5,395.4L842.3,396.3L843.1,397.3L843.9,398.3L844.7,399.3L845.5,400.3L846.3,401.3L847.1,402.2L847.9,403.2L848.7,404L849.5,404.9L850.3,405.6L851.1,406.3L851.9,406.9L852.7,407.5L853.5,408.1L854.3,408.6L855.1,409.2L855.9,409.7L856.7,410.1L857.5,410.6L858.3,411L859.1,411.3L859.9,411.7L860.7,411.9L861.5,412.1L862.3,412.3L863.1,412.5L863.9,412.7L864.7,412.9L865.5,413L866.3,413.2L867.1,413.3L867.9,413.4L868.7,413.5L869.5,413.6L870.3,413.6L871.1,413.7" fill="none" stroke="#222" stroke-width="0.8" stroke-linejoin="round"/>
<path d="M687.1,413.7L688.7,413.5L690.3,413.5L691.9,413.3L693.5,413.1L695.1,413.3L696.7,412.7L698.3,411L699.9,411.3L701.5,409.2L703.1,407.3L704.7,403L706.3,399.7L707.9,391.7L709.5,379.9L711.1,367.3L712.7,357.6L714.3,337.7L715.9,335.3L717.5,320.9L719.1,304.1L720.7,270.2L722.3,255.4L723.9,236.4L725.5,215.3L727.1,182.5L728.7,175.8L730.3,163.2L731.9,137.6L733.5,148.6L735.1,142.1L736.7,145.6L738.3,160.1L739.9,171.7L741.5,178.7L743.1,212.2L744.7,237.2L746.3,259.6L747.9,268.8L749.5,287.2L751.1,299.3L752.7,316.7L754.3,328.2L755.9,339L757.5,345.8L759.1,349L760.7,355.9L762.3,357.4L763.9,354.6L765.5,360.3L767.1,369.1L768.7,358.7L770.3,363.4L771.9,368.4L773.5,362L775.1,365.3L776.7,367.5L778.3,367.5L779.9,368.5L781.5,364.4L783.1,360.2L784.7,364.5L786.3,360.9L787.9,355.7L789.5,364.7L791.1,358L792.7,359L794.3,361.1L795.9,360.4L797.5,356.2L799.1,354.6L800.7,358.8L802.3,357.2L803.9,355.5L805.5,358.4L807.1,357.7L808.7,360.8L810.3,362.2L811.9,359.9L813.5,364.2L815.1,367.2L816.7,366.6L818.3,373.6L819.9,373L821.5,370.8L823.1,372.8L824.7,371.7L826.3,378L827.9,384.2L829.5,371.2L831.1,373L832.7,385.3L834.3,381.1L835.9,384.5L837.5,389.9L839.1,389.8L840.7,392.3L842.3,389.8L843.9,397.7L845.5,397.3L847.1,399.4L848.7,400.9L850.3,403.8L851.9,402.5L853.5,402.8L855.1,405.2L856.7,408.5L858.3,410L859.9,403L861.5,403.8L863.1,410.4L864.7,411.3L866.3,407.8L867.9,410L869.5,411.9L871.1,412.1L872.7,409.4L874.3,411.1L875.9,411.6L877.5,411.9L879.1,412.4L880.7,412.4L882.3,411.7L883.9,412.3L885.5,412.5L887.1,412.1L888.7,412.8L890.3,411.8L891.9,413L893.5,412.4L895.1,412.6L896.7,412.7L898.3,412.6L899.9,412.5L901.5,413L903.1,412L904.7,413.8" fill="none" stroke="#1a1a1a" stroke-width="0.8" stroke-linejoin="round"/>
<g stroke="#1c1c1c" stroke-width="1.15" fill="none">
<path d="M595.9,89.2V413.8"/>
<path d="M582.2,413.8H595.9M588.9,403H595.9M588.9,392.2H595.9M588.9,381.3H595.9M588.9,370.5H595.9M582.2,359.7H595.9M588.9,348.9H595.9M588.9,338.1H595.9M588.9,327.2H595.9M588.9,316.4H595.9M582.2,305.6H595.9M588.9,294.8H595.9M588.9,284H595.9M588.9,273.1H595.9M588.9,262.3H595.9M582.2,251.5H595.9M588.9,240.7H595.9M588.9,229.9H595.9M588.9,219H595.9M588.9,208.2H595.9M582.2,197.4H595.9M588.9,186.6H595.9M588.9,175.8H595.9M588.9,164.9H595.9M588.9,154.1H595.9M582.2,143.3H595.9M588.9,132.5H595.9M588.9,121.7H595.9M588.9,110.8H595.9M588.9,100H595.9M582.2,89.2H595.9"/>
</g>
<path d="M595.3,413.8H694.3M869.1,413.8H917.7" stroke="#000" stroke-width="1.8"/>
<path d="M694.3,414.3H869.1" stroke="#555" stroke-width="1"/>
<path d="M599.3,414.8V419.8M611.6,414.8V419.8M624,414.8V419.8M636.3,414.8V419.8" stroke="#ff2020" stroke-width="0.9"/>
<path d="M648.7,413.8V427.8M710.5,413.8V427.8M772.3,413.8V427.8M834.1,413.8V427.8M895.9,413.8V427.8" stroke="#000" stroke-width="1.25"/>
<path d="M661.1,413.8V420.6M673.4,413.8V420.6M685.8,413.8V420.6M698.1,413.8V420.6M722.9,413.8V420.6M735.2,413.8V420.6M747.6,413.8V420.6M759.9,413.8V420.6M784.7,413.8V420.6M797,413.8V420.6M809.4,413.8V420.6M821.7,413.8V420.6M846.5,413.8V420.6M858.8,413.8V420.6M871.2,413.8V420.6M883.5,413.8V420.6M908.3,413.8V420.6" stroke="#111" stroke-width="1.1"/>
<g font-family='"Liberation Sans", sans-serif' font-size="10.3" fill="#111" stroke="#111" stroke-width="0.2" text-anchor="middle">
<text x="648.7" y="441.2">0</text>
<text x="710.5" y="441.2">500</text>
<text x="772.3" y="441.2">1000</text>
<text x="834.1" y="441.2">1500</text>
<text x="895.9" y="441.2">2000</text>
<text transform="translate(576.4,413.8) rotate(-90)">0</text>
<text transform="translate(576.4,359.7) rotate(-90)">100</text>
<text transform="translate(576.4,305.6) rotate(-90)">200</text>
<text transform="translate(576.4,251.5) rotate(-90)">300</text>
<text transform="translate(576.4,197.4) rotate(-90)">400</text>
<text transform="translate(576.4,143.3) rotate(-90)">500</text>
<text transform="translate(576.4,89.2) rotate(-90)">600</text>
</g>
<g font-family='"Liberation Sans", sans-serif' font-size="11" fill="#111" stroke="#111" stroke-width="0.2">
<text x="756" y="457.8" text-anchor="middle">FL2-A PE-A</text>
<text x="917.2" y="457.8" text-anchor="end">(x 1000)</text>
<text transform="translate(560,251.5) rotate(-90)" text-anchor="middle">Number</text>
</g>
<path d="M733.1,415.1L728.3,423.4L737.9,423.4Z" fill="#000"/>
<g font-family='"Liberation Sans", sans-serif' font-size="8.6" fill="#1818ff" stroke="#1818ff" stroke-width="0.15">
<rect x="852.5" y="82" width="11" height="9.6" fill="#f40000" stroke="#111" stroke-width="0.9"/>
<text x="868.8" y="91.1">Dip G1</text>
<rect x="852.5" y="94.9" width="11" height="9.6" fill="#f40000" stroke="#111" stroke-width="0.9"/>
<text x="868.8" y="104">Dip G2</text>
<rect x="852.5" y="107.8" width="11" height="9.6" fill="url(#hatchL)" stroke="#111" stroke-width="0.9"/>
<path d="M852.8,108.1l10.4,9.2M860.1,108.2l3,2.6M852.9,114.4l3,2.6" stroke="#2020ff" stroke-width="0.9"/>
<text x="868.8" y="116.9">Dip S</text>
</g>
</g>
<g>
<path d="M1107.7,414.7L1108.5,414.7L1109.3,414.7L1110.1,414.7L1110.9,414.6L1111.7,414.5L1112.5,414.4L1113.3,414.3L1114.1,414.2L1114.9,414L1115.7,413.7L1116.5,413.4L1117.3,413L1118.1,412.4L1118.9,411.8L1119.7,411L1120.5,410L1121.3,408.8L1122.1,407.3L1122.9,405.6L1123.7,403.5L1124.5,401.1L1125.3,398.2L1126.1,394.8L1126.9,390.9L1127.7,386.5L1128.5,381.4L1129.3,375.7L1130.1,369.3L1130.9,362.2L1131.7,354.4L1132.5,345.8L1133.3,336.6L1134.1,326.7L1134.9,316.2L1135.7,305.1L1136.5,293.6L1137.3,281.8L1138.1,269.7L1138.9,257.6L1139.7,245.5L1140.5,233.8L1141.3,222.4L1142.1,211.7L1142.9,201.7L1143.7,192.7L1144.5,184.8L1145.3,178.2L1146.1,172.9L1146.9,169.2L1147.7,167L1148.5,166.3L1149.3,167.3L1150.1,169.9L1150.9,174.1L1151.7,179.6L1152.5,186.6L1153.3,194.8L1154.1,204L1154.9,214.2L1155.7,225.1L1156.5,236.6L1157.3,248.4L1158.1,260.5L1158.9,272.6L1159.7,284.7L1160.5,296.4L1161.3,307.8L1162.1,318.8L1162.9,329.1L1163.7,338.9L1164.5,348L1165.3,356.3L1166.1,364L1166.9,370.9L1167.7,377.1L1168.5,382.7L1169.3,387.6L1170.1,391.9L1170.9,395.7L1171.7,398.9L1172.5,401.7L1173.3,404.1L1174.1,406L1174.9,407.7L1175.7,409.1L1176.5,410.3L1177.3,411.2L1178.1,412L1178.9,412.6L1179.7,413.1L1180.5,413.5L1181.3,413.8L1182.1,414L1182.9,414.2L1183.7,414.3L1184.5,414.5L1185.3,414.5L1186.1,414.6L1186.9,414.7L1187.7,414.7L1188.5,414.7L1189.3,414.7L1189.3,414.8L1107.7,414.8Z" fill="#f40000" stroke="#000" stroke-width="0.9" stroke-linejoin="round"/>
<path d="M1194.1,414.7L1194.9,414.7L1195.7,414.7L1196.5,414.7L1197.3,414.7L1198.1,414.7L1198.9,414.7L1199.7,414.6L1200.5,414.6L1201.3,414.6L1202.1,414.5L1202.9,414.5L1203.7,414.5L1204.5,414.4L1205.3,414.4L1206.1,414.3L1206.9,414.3L1207.7,414.2L1208.5,414.1L1209.3,414L1210.1,414L1210.9,413.9L1211.7,413.8L1212.5,413.7L1213.3,413.6L1214.1,413.4L1214.9,413.3L1215.7,413.2L1216.5,413L1217.3,412.9L1218.1,412.8L1218.9,412.6L1219.7,412.4L1220.5,412.3L1221.3,412.1L1222.1,412L1222.9,411.8L1223.7,411.6L1224.5,411.5L1225.3,411.3L1226.1,411.1L1226.9,411L1227.7,410.8L1228.5,410.7L1229.3,410.6L1230.1,410.5L1230.9,410.3L1231.7,410.2L1232.5,410.2L1233.3,410.1L1234.1,410L1234.9,410L1235.7,409.9L1236.5,409.9L1237.3,409.9L1238.1,409.9L1238.9,410L1239.7,410L1240.5,410.1L1241.3,410.1L1242.1,410.2L1242.9,410.3L1243.7,410.4L1244.5,410.6L1245.3,410.7L1246.1,410.8L1246.9,411L1247.7,411.1L1248.5,411.3L1249.3,411.4L1250.1,411.6L1250.9,411.8L1251.7,411.9L1252.5,412.1L1253.3,412.3L1254.1,412.4L1254.9,412.6L1255.7,412.7L1256.5,412.9L1257.3,413L1258.1,413.2L1258.9,413.3L1259.7,413.4L1260.5,413.5L1261.3,413.6L1262.1,413.8L1262.9,413.8L1263.7,413.9L1264.5,414L1265.3,414.1L1266.1,414.2L1266.9,414.2L1267.7,414.3L1268.5,414.4L1269.3,414.4L1270.1,414.5L1270.9,414.5L1271.7,414.5L1272.5,414.6L1273.3,414.6L1274.1,414.6L1274.9,414.7L1275.7,414.7L1276.5,414.7L1277.3,414.7L1278.1,414.7L1278.9,414.7L1279.7,414.7L1279.7,414.8L1194.1,414.8Z" fill="#f40000"/>
<path d="M1126.9,414.8L1127.7,414.7L1128.5,414.6L1129.3,414.5L1130.1,414.3L1130.9,414.1L1131.7,413.8L1132.5,413.5L1133.3,413.3L1134.1,413L1134.9,412.6L1135.7,412.2L1136.5,411.7L1137.3,411.1L1138.1,410.4L1138.9,409.7L1139.7,408.9L1140.5,408L1141.3,407.2L1142.1,406.3L1142.9,405.2L1143.7,404.1L1144.5,402.8L1145.3,401.5L1146.1,400.1L1146.9,398.7L1147.7,397.3L1148.5,396L1149.3,394.7L1150.1,393.4L1150.9,392L1151.7,390.7L1152.5,389.3L1153.3,388L1154.1,386.7L1154.9,385.5L1155.7,384.4L1156.5,383.4L1157.3,382.4L1158.1,381.5L1158.9,380.5L1159.7,379.6L1160.5,378.8L1161.3,378.1L1162.1,377.4L1162.9,376.8L1163.7,376.4L1164.5,375.9L1165.3,375.5L1166.1,375.1L1166.9,374.8L1167.7,374.5L1168.5,374.3L1169.3,374.2L1170.1,374.2L1170.9,374.1L1171.7,374.1L1172.5,374.1L1173.3,374L1174.1,374L1174.9,374L1175.7,373.9L1176.5,373.9L1177.3,373.9L1178.1,373.9L1178.9,373.9L1179.7,373.8L1180.5,373.8L1181.3,373.8L1182.1,373.8L1182.9,373.8L1183.7,373.8L1184.5,373.8L1185.3,373.8L1186.1,373.8L1186.9,373.8L1187.7,373.8L1188.5,373.8L1189.3,373.8L1190.1,373.8L1190.9,373.8L1191.7,373.8L1192.5,373.8L1193.3,373.8L1194.1,373.8L1194.9,373.8L1195.7,373.8L1196.5,373.8L1197.3,373.8L1198.1,373.8L1198.9,373.9L1199.7,373.9L1200.5,373.9L1201.3,373.9L1202.1,373.9L1202.9,373.9L1203.7,373.9L1204.5,373.9L1205.3,373.9L1206.1,374L1206.9,374L1207.7,374L1208.5,374L1209.3,374L1210.1,374L1210.9,374.1L1211.7,374.1L1212.5,374.1L1213.3,374.1L1214.1,374.1L1214.9,374.2L1215.7,374.2L1216.5,374.2L1217.3,374.3L1218.1,374.4L1218.9,374.6L1219.7,374.8L1220.5,375.1L1221.3,375.4L1222.1,375.8L1222.9,376.2L1223.7,376.6L1224.5,377L1225.3,377.5L1226.1,377.9L1226.9,378.3L1227.7,378.8L1228.5,379.4L1229.3,380L1230.1,380.6L1230.9,381.4L1231.7,382.1L1232.5,382.9L1233.3,383.7L1234.1,384.5L1234.9,385.3L1235.7,386.2L1236.5,387.1L1237.3,387.9L1238.1,388.8L1238.9,389.6L1239.7,390.4L1240.5,391.3L1241.3,392.2L1242.1,393.1L1242.9,394L1243.7,395L1244.5,395.9L1245.3,396.9L1246.1,397.9L1246.9,398.8L1247.7,399.7L1248.5,400.7L1249.3,401.5L1250.1,402.4L1250.9,403.2L1251.7,403.9L1252.5,404.7L1253.3,405.4L1254.1,406.1L1254.9,406.8L1255.7,407.4L1256.5,408.1L1257.3,408.7L1258.1,409.3L1258.9,409.9L1259.7,410.4L1260.5,410.9L1261.3,411.4L1262.1,411.8L1262.9,412.1L1263.7,412.4L1264.5,412.7L1265.3,413L1266.1,413.3L1266.9,413.6L1267.7,413.8L1268.5,414.1L1269.3,414.3L1270.1,414.4L1270.9,414.6L1271.7,414.7L1272.5,414.8L1273.3,414.8L1273.3,414.8L1126.9,414.8Z" fill="url(#hatch)" stroke="#000" stroke-width="0.9" stroke-linejoin="round"/>
<path d="M1194.1,414.7L1194.9,414.7L1195.7,414.7L1196.5,414.7L1197.3,414.7L1198.1,414.7L1198.9,414.7L1199.7,414.6L1200.5,414.6L1201.3,414.6L1202.1,414.5L1202.9,414.5L1203.7,414.5L1204.5,414.4L1205.3,414.4L1206.1,414.3L1206.9,414.3L1207.7,414.2L1208.5,414.1L1209.3,414L1210.1,414L1210.9,413.9L1211.7,413.8L1212.5,413.7L1213.3,413.6L1214.1,413.4L1214.9,413.3L1215.7,413.2L1216.5,413L1217.3,412.9L1218.1,412.8L1218.9,412.6L1219.7,412.4L1220.5,412.3L1221.3,412.1L1222.1,412L1222.9,411.8L1223.7,411.6L1224.5,411.5L1225.3,411.3L1226.1,411.1L1226.9,411L1227.7,410.8L1228.5,410.7L1229.3,410.6L1230.1,410.5L1230.9,410.3L1231.7,410.2L1232.5,410.2L1233.3,410.1L1234.1,410L1234.9,410L1235.7,409.9L1236.5,409.9L1237.3,409.9L1238.1,409.9L1238.9,410L1239.7,410L1240.5,410.1L1241.3,410.1L1242.1,410.2L1242.9,410.3L1243.7,410.4L1244.5,410.6L1245.3,410.7L1246.1,410.8L1246.9,411L1247.7,411.1L1248.5,411.3L1249.3,411.4L1250.1,411.6L1250.9,411.8L1251.7,411.9L1252.5,412.1L1253.3,412.3L1254.1,412.4L1254.9,412.6L1255.7,412.7L1256.5,412.9L1257.3,413L1258.1,413.2L1258.9,413.3L1259.7,413.4L1260.5,413.5L1261.3,413.6L1262.1,413.8L1262.9,413.8L1263.7,413.9L1264.5,414L1265.3,414.1L1266.1,414.2L1266.9,414.2L1267.7,414.3L1268.5,414.4L1269.3,414.4L1270.1,414.5L1270.9,414.5L1271.7,414.5L1272.5,414.6L1273.3,414.6L1274.1,414.6L1274.9,414.7L1275.7,414.7L1276.5,414.7L1277.3,414.7L1278.1,414.7L1278.9,414.7L1279.7,414.7" fill="none" stroke="#000" stroke-width="0.8" stroke-linejoin="round"/>
<path d="M1109.3,414.7L1110.1,414.7L1110.9,414.6L1111.7,414.5L1112.5,414.4L1113.3,414.3L1114.1,414.2L1114.9,414L1115.7,413.7L1116.5,413.4L1117.3,413L1118.1,412.4L1118.9,411.8L1119.7,411L1120.5,410L1121.3,408.8L1122.1,407.3L1122.9,405.6L1123.7,403.5L1124.5,401.1L1125.3,398.2L1126.1,394.8L1126.9,390.9L1127.7,386.4L1128.5,381.3L1129.3,375.4L1130.1,368.8L1130.9,361.5L1131.7,353.4L1132.5,344.6L1133.3,335.1L1134.1,324.9L1134.9,314L1135.7,302.6L1136.5,290.5L1137.3,278.1L1138.1,265.3L1138.9,252.5L1139.7,239.6L1140.5,227L1141.3,214.8L1142.1,203.1L1142.9,192.1L1143.7,182L1144.5,172.8L1145.3,164.8L1146.1,158.2L1146.9,153.1L1147.7,149.5L1148.5,147.5L1149.3,147.2L1150.1,148.5L1150.9,151.3L1151.7,155.5L1152.5,161.1L1153.3,168L1154.1,175.9L1154.9,184.9L1155.7,194.7L1156.5,205.2L1157.3,216.1L1158.1,227.2L1158.9,238.4L1159.7,249.5L1160.5,260.5L1161.3,271.1L1162.1,281.4L1162.9,291.2L1163.7,300.5L1164.5,309.1L1165.3,317L1166.1,324.3L1166.9,330.9L1167.7,336.9L1168.5,342.2L1169.3,347L1170.1,351.3L1170.9,355L1171.7,358.2L1172.5,360.9L1173.3,363.3L1174.1,365.2L1174.9,366.9L1175.7,368.2L1176.5,369.4L1177.3,370.3L1178.1,371L1178.9,371.6L1179.7,372.1L1180.5,372.5L1181.3,372.8L1182.1,373L1182.9,373.2L1183.7,373.3L1184.5,373.5L1185.3,373.5L1186.1,373.6L1186.9,373.6L1187.7,373.7L1188.5,373.7L1189.3,373.7L1190.1,373.7L1190.9,373.7L1191.7,373.8L1192.5,373.8L1193.3,373.8L1194.1,373.8L1194.9,373.8L1195.7,373.7L1196.5,373.7L1197.3,373.7L1198.1,373.7L1198.9,373.7L1199.7,373.7L1200.5,373.7L1201.3,373.7L1202.1,373.6L1202.9,373.6L1203.7,373.6L1204.5,373.6L1205.3,373.5L1206.1,373.5L1206.9,373.4L1207.7,373.4L1208.5,373.3L1209.3,373.3L1210.1,373.2L1210.9,373.1L1211.7,373L1212.5,373L1213.3,372.9L1214.1,372.8L1214.9,372.7L1215.7,372.6L1216.5,372.4L1217.3,372.4L1218.1,372.3L1218.9,372.4L1219.7,372.5L1220.5,372.6L1221.3,372.7L1222.1,372.9L1222.9,373.2L1223.7,373.4L1224.5,373.7L1225.3,374L1226.1,374.3L1226.9,374.5L1227.7,374.9L1228.5,375.3L1229.3,375.8L1230.1,376.3L1230.9,376.9L1231.7,377.5L1232.5,378.2L1233.3,379L1234.1,379.7L1234.9,380.5L1235.7,381.3L1236.5,382.2L1237.3,383L1238.1,383.9L1238.9,384.8L1239.7,385.6L1240.5,386.5L1241.3,387.5L1242.1,388.5L1242.9,389.5L1243.7,390.6L1244.5,391.7L1245.3,392.8L1246.1,393.9L1246.9,395L1247.7,396.1L1248.5,397.1L1249.3,398.2L1250.1,399.2L1250.9,400.2L1251.7,401.1L1252.5,401.9L1253.3,402.8L1254.1,403.7L1254.9,404.5L1255.7,405.4L1256.5,406.2L1257.3,406.9L1258.1,407.7L1258.9,408.4L1259.7,409.1L1260.5,409.7L1261.3,410.2L1262.1,410.7L1262.9,411.1L1263.7,411.5L1264.5,411.9L1265.3,412.3L1266.1,412.7L1266.9,413L1267.7,413.3L1268.5,413.6L1269.3,413.9L1270.1,414.1L1270.9,414.3L1271.7,414.4L1272.5,414.6L1273.3,414.6L1274.1,414.6L1274.9,414.7L1275.7,414.7L1276.5,414.7" fill="none" stroke="#111" stroke-width="0.9" stroke-linejoin="round"/>
<path d="M1109.3,414.7L1110.1,414.7L1110.9,414.6L1111.7,414.5L1112.5,414.4L1113.3,414.3L1114.1,414.2L1114.9,414L1115.7,413.7L1116.5,413.4L1117.3,413L1118.1,412.4L1118.9,411.8L1119.7,411L1120.5,410L1121.3,408.8L1122.1,407.3L1122.9,405.6L1123.7,403.5L1124.5,401.1L1125.3,398.2L1126.1,394.8L1126.9,390.9L1127.7,386.4L1128.5,381.3L1129.3,375.4L1130.1,368.8L1130.9,361.5L1131.7,353.4L1132.5,344.6L1133.3,335.1L1134.1,324.9L1134.9,314L1135.7,302.6L1136.5,290.5L1137.3,278.1L1138.1,265.3L1138.9,252.5L1139.7,239.6L1140.5,227L1141.3,214.8L1142.1,203.1L1142.9,192.1L1143.7,182L1144.5,172.8L1145.3,164.8L1146.1,158.2L1146.9,153L1147.7,149.4L1148.5,147.4L1149.3,147.1L1150.1,148.3L1150.9,151L1151.7,155.1L1152.5,160.5L1153.3,167.2L1154.1,175L1154.9,183.7L1155.7,193.3L1156.5,203.4L1157.3,214L1158.1,224.7L1158.9,235.5L1159.7,246.3L1160.5,256.9L1161.3,267.2L1162.1,277.1L1162.9,286.7L1163.7,295.8L1164.5,304.3L1165.3,312.2L1166.1,319.5L1166.9,326.2L1167.7,332.3L1168.5,338L1169.3,343.1L1170.1,347.7L1170.9,351.8L1171.7,355.4L1172.5,358.5L1173.3,361.2L1174.1,363.5L1174.9,365.4L1175.7,367.1L1176.5,368.4L1177.3,369.6L1178.1,370.5L1178.9,371.2L1179.7,371.8L1180.5,372.3L1181.3,372.6L1182.1,372.9L1182.9,373.1L1183.7,373.3L1184.5,373.4L1185.3,373.5L1186.1,373.6L1186.9,373.6L1187.7,373.7L1188.5,373.7L1189.3,373.7L1190.1,373.7L1190.9,373.7L1191.7,373.8L1192.5,373.8L1193.3,373.8L1194.1,373.8L1194.9,373.8L1195.7,373.7L1196.5,373.7L1197.3,373.7L1198.1,373.7L1198.9,373.7L1199.7,373.7L1200.5,373.7L1201.3,373.7L1202.1,373.6L1202.9,373.6L1203.7,373.6L1204.5,373.6L1205.3,373.5L1206.1,373.5L1206.9,373.4L1207.7,373.4L1208.5,373.3L1209.3,373.3L1210.1,373.2L1210.9,373.1L1211.7,373L1212.5,373L1213.3,372.9L1214.1,372.8L1214.9,372.7L1215.7,372.6L1216.5,372.4L1217.3,372.4L1218.1,372.3L1218.9,372.4L1219.7,372.5L1220.5,372.6L1221.3,372.7L1222.1,372.9L1222.9,373.2L1223.7,373.4L1224.5,373.7L1225.3,374L1226.1,374.3L1226.9,374.5L1227.7,374.9L1228.5,375.3L1229.3,375.8L1230.1,376.3L1230.9,376.9L1231.7,377.5L1232.5,378.2L1233.3,379L1234.1,379.7L1234.9,380.5L1235.7,381.3L1236.5,382.2L1237.3,383L1238.1,383.9L1238.9,384.8L1239.7,385.6L1240.5,386.5L1241.3,387.5L1242.1,388.5L1242.9,389.5L1243.7,390.6L1244.5,391.7L1245.3,392.8L1246.1,393.9L1246.9,395L1247.7,396.1L1248.5,397.1L1249.3,398.2L1250.1,399.2L1250.9,400.2L1251.7,401.1L1252.5,401.9L1253.3,402.8L1254.1,403.7L1254.9,404.5L1255.7,405.4L1256.5,406.2L1257.3,406.9L1258.1,407.7L1258.9,408.4L1259.7,409.1L1260.5,409.7L1261.3,410.2L1262.1,410.7L1262.9,411.1L1263.7,411.5L1264.5,411.9L1265.3,412.3L1266.1,412.7L1266.9,413L1267.7,413.3L1268.5,413.6L1269.3,413.9L1270.1,414.1L1270.9,414.3L1271.7,414.4L1272.5,414.6L1273.3,414.6L1274.1,414.6L1274.9,414.7L1275.7,414.7L1276.5,414.7" fill="none" stroke="#222" stroke-width="0.8" stroke-linejoin="round"/>
<path d="M1108.5,414.7L1110.1,414.5L1111.7,414.2L1113.3,414.5L1114.9,413.9L1116.5,413.6L1118.1,412.3L1119.7,412L1121.3,409.4L1122.9,405.9L1124.5,399.6L1126.1,392.5L1127.7,389.6L1129.3,377.6L1130.9,359.4L1132.5,350.9L1134.1,326.8L1135.7,303L1137.3,271.5L1138.9,248.6L1140.5,229L1142.1,205.5L1143.7,183.5L1145.3,152.9L1146.9,150.9L1148.5,137.2L1150.1,127.8L1151.7,140.7L1153.3,161.1L1154.9,189.9L1156.5,204.8L1158.1,229.8L1159.7,242.8L1161.3,267.6L1162.9,291.3L1164.5,306L1166.1,325.7L1167.7,332.7L1169.3,347L1170.9,353L1172.5,365.1L1174.1,364.1L1175.7,373.3L1177.3,375.2L1178.9,372.4L1180.5,374.9L1182.1,372.3L1183.7,368.6L1185.3,375.4L1186.9,374.8L1188.5,372.3L1190.1,371.2L1191.7,372.9L1193.3,372.7L1194.9,369.7L1196.5,369.9L1198.1,374.1L1199.7,370.8L1201.3,370.1L1202.9,372.9L1204.5,368.6L1206.1,371.6L1207.7,365.8L1209.3,367.9L1210.9,368L1212.5,369.9L1214.1,368.4L1215.7,373.2L1217.3,371.5L1218.9,367.2L1220.5,374L1222.1,367.1L1223.7,375.5L1225.3,369.2L1226.9,374.8L1228.5,371.2L1230.1,374.4L1231.7,380.6L1233.3,374.6L1234.9,375.9L1236.5,381.7L1238.1,378.7L1239.7,378.8L1241.3,386.6L1242.9,383.1L1244.5,384.6L1246.1,391.2L1247.7,393.6L1249.3,393L1250.9,400.1L1252.5,393.2L1254.1,398.8L1255.7,399L1257.3,402.2L1258.9,405.5L1260.5,407L1262.1,408.5L1263.7,408.8L1265.3,409.6L1266.9,410.2L1268.5,412.2L1270.1,411.9L1271.7,411.9L1273.3,411.5L1274.9,408.1L1276.5,411.4L1278.1,412.8L1279.7,409.3L1281.3,412.4L1282.9,409L1284.5,410.5L1286.1,411.6L1287.7,412.1L1289.3,413.3L1290.9,410.6L1292.5,413L1294.1,412.6L1295.7,412.8L1297.3,410.6L1298.9,413.6L1300.5,413L1302.1,412.6L1303.7,414L1305.3,414L1306.9,413.1L1308.5,414.1L1310.1,413.4L1311.7,413.4L1313.3,413.5L1314.9,413.4L1316.5,413.9L1318.1,413.9L1319.7,414.2L1321.3,414L1322.9,414L1324.5,414.8" fill="none" stroke="#1a1a1a" stroke-width="0.8" stroke-linejoin="round"/>
<g stroke="#1c1c1c" stroke-width="1.15" fill="none">
<path d="M1018.9,90V414.8"/>
<path d="M1005.2,414.8H1018.9M1011.9,394.5H1018.9M1011.9,374.2H1018.9M1011.9,353.9H1018.9M1005.2,333.6H1018.9M1011.9,313.3H1018.9M1011.9,293H1018.9M1011.9,272.7H1018.9M1005.2,252.4H1018.9M1011.9,232.1H1018.9M1011.9,211.8H1018.9M1011.9,191.5H1018.9M1005.2,171.2H1018.9M1011.9,150.9H1018.9M1011.9,130.6H1018.9M1011.9,110.3H1018.9M1005.2,90H1018.9"/>
</g>
<path d="M1018.3,414.8H1113.3M1274.5,414.8H1339.7" stroke="#000" stroke-width="1.8"/>
<path d="M1113.3,415.3H1274.5" stroke="#555" stroke-width="1"/>
<path d="M1021.9,415.8V420.8M1032.2,415.8V420.8M1042.4,415.8V420.8M1052.7,415.8V420.8" stroke="#ff2020" stroke-width="0.9"/>
<path d="M1062.9,414.8V428.8M1114.1,414.8V428.8M1165.3,414.8V428.8M1216.5,414.8V428.8M1267.7,414.8V428.8M1318.9,414.8V428.8" stroke="#000" stroke-width="1.25"/>
<path d="M1073.1,414.8V421.6M1083.4,414.8V421.6M1093.6,414.8V421.6M1103.9,414.8V421.6M1124.3,414.8V421.6M1134.6,414.8V421.6M1144.8,414.8V421.6M1155.1,414.8V421.6M1175.5,414.8V421.6M1185.8,414.8V421.6M1196,414.8V421.6M1206.3,414.8V421.6M1226.7,414.8V421.6M1237,414.8V421.6M1247.2,414.8V421.6M1257.5,414.8V421.6M1277.9,414.8V421.6M1288.2,414.8V421.6M1298.4,414.8V421.6M1308.7,414.8V421.6M1329.1,414.8V421.6" stroke="#111" stroke-width="1.1"/>
<g font-family='"Liberation Sans", sans-serif' font-size="10.3" fill="#111" stroke="#111" stroke-width="0.2" text-anchor="middle">
<text x="1062.9" y="442.2">0</text>
<text x="1114.1" y="442.2">500</text>
<text x="1165.3" y="442.2">1000</text>
<text x="1216.5" y="442.2">1500</text>
<text x="1267.7" y="442.2">2000</text>
<text x="1318.9" y="442.2">2500</text>
<text transform="translate(999.4,414.8) rotate(-90)">0</text>
<text transform="translate(999.4,333.6) rotate(-90)">200</text>
<text transform="translate(999.4,252.4) rotate(-90)">400</text>
<text transform="translate(999.4,171.2) rotate(-90)">600</text>
<text transform="translate(999.4,90) rotate(-90)">800</text>
</g>
<g font-family='"Liberation Sans", sans-serif' font-size="11" fill="#111" stroke="#111" stroke-width="0.2">
<text x="1179" y="458.8" text-anchor="middle">FL2-A PE-A</text>
<text x="1339.2" y="458.8" text-anchor="end">(x 1000)</text>
<text transform="translate(982,252.4) rotate(-90)" text-anchor="middle">Number</text>
</g>
<path d="M1149.9,416.1L1145.1,424.4L1154.7,424.4Z" fill="#000"/>
<g font-family='"Liberation Sans", sans-serif' font-size="8.6" fill="#1818ff" stroke="#1818ff" stroke-width="0.15">
<rect x="1275" y="83" width="11" height="9.6" fill="#f40000" stroke="#111" stroke-width="0.9"/>
<text x="1291.3" y="92.1">Dip G1</text>
<rect x="1275" y="95.9" width="11" height="9.6" fill="#f40000" stroke="#111" stroke-width="0.9"/>
<text x="1291.3" y="105">Dip G2</text>
<rect x="1275" y="108.8" width="11" height="9.6" fill="url(#hatchL)" stroke="#111" stroke-width="0.9"/>
<path d="M1275.3,109.1l10.4,9.2M1282.6,109.2l3,2.6M1275.4,115.4l3,2.6" stroke="#2020ff" stroke-width="0.9"/>
<text x="1291.3" y="117.9">Dip S</text>
</g>
</g>
<g>
<path d="M1518.9,415.5L1519.7,415.5L1520.5,415.4L1521.3,415.4L1522.1,415.3L1522.9,415.3L1523.7,415.2L1524.5,415L1525.3,414.9L1526.1,414.7L1526.9,414.5L1527.7,414.3L1528.5,414L1529.3,413.6L1530.1,413.1L1530.9,412.6L1531.7,412L1532.5,411.2L1533.3,410.4L1534.1,409.3L1534.9,408.1L1535.7,406.8L1536.5,405.2L1537.3,403.3L1538.1,401.3L1538.9,398.9L1539.7,396.2L1540.5,393.2L1541.3,389.8L1542.1,386.1L1542.9,381.9L1543.7,377.4L1544.5,372.4L1545.3,367L1546.1,361.1L1546.9,354.7L1547.7,348L1548.5,340.7L1549.3,333.1L1550.1,325.1L1550.9,316.7L1551.7,308L1552.5,299.1L1553.3,290L1554.1,280.7L1554.9,271.3L1555.7,262L1556.5,252.8L1557.3,243.7L1558.1,235L1558.9,226.5L1559.7,218.6L1560.5,211.2L1561.3,204.4L1562.1,198.3L1562.9,193L1563.7,188.6L1564.5,185.1L1565.3,182.5L1566.1,180.9L1566.9,180.3L1567.7,180.7L1568.5,182.1L1569.3,184.5L1570.1,187.8L1570.9,192.1L1571.7,197.2L1572.5,203.1L1573.3,209.8L1574.1,217.1L1574.9,224.9L1575.7,233.2L1576.5,241.9L1577.3,251L1578.1,260.2L1578.9,269.5L1579.7,278.8L1580.5,288.1L1581.3,297.3L1582.1,306.3L1582.9,315L1583.7,323.4L1584.5,331.5L1585.3,339.2L1586.1,346.5L1586.9,353.4L1587.7,359.8L1588.5,365.8L1589.3,371.3L1590.1,376.4L1590.9,381.1L1591.7,385.3L1592.5,389.1L1593.3,392.5L1594.1,395.6L1594.9,398.4L1595.7,400.8L1596.5,402.9L1597.3,404.8L1598.1,406.5L1598.9,407.9L1599.7,409.1L1600.5,410.2L1601.3,411.1L1602.1,411.8L1602.9,412.5L1603.7,413L1604.5,413.5L1605.3,413.9L1606.1,414.2L1606.9,414.5L1607.7,414.7L1608.5,414.9L1609.3,415L1610.1,415.1L1610.9,415.2L1611.7,415.3L1612.5,415.4L1613.3,415.4L1614.1,415.5L1614.9,415.5L1614.9,415.6L1518.9,415.6Z" fill="#f40000" stroke="#000" stroke-width="0.9" stroke-linejoin="round"/>
<path d="M1610.1,415.5L1610.9,415.5L1611.7,415.5L1612.5,415.4L1613.3,415.4L1614.1,415.4L1614.9,415.4L1615.7,415.3L1616.5,415.3L1617.3,415.3L1618.1,415.3L1618.9,415.2L1619.7,415.2L1620.5,415.1L1621.3,415.1L1622.1,415L1622.9,415L1623.7,414.9L1624.5,414.9L1625.3,414.8L1626.1,414.8L1626.9,414.7L1627.7,414.6L1628.5,414.5L1629.3,414.5L1630.1,414.4L1630.9,414.3L1631.7,414.2L1632.5,414.1L1633.3,414L1634.1,413.9L1634.9,413.8L1635.7,413.8L1636.5,413.7L1637.3,413.6L1638.1,413.5L1638.9,413.4L1639.7,413.3L1640.5,413.2L1641.3,413.1L1642.1,413L1642.9,412.9L1643.7,412.9L1644.5,412.8L1645.3,412.7L1646.1,412.6L1646.9,412.6L1647.7,412.5L1648.5,412.5L1649.3,412.4L1650.1,412.4L1650.9,412.4L1651.7,412.4L1652.5,412.4L1653.3,412.4L1654.1,412.4L1654.9,412.4L1655.7,412.4L1656.5,412.4L1657.3,412.4L1658.1,412.5L1658.9,412.5L1659.7,412.6L1660.5,412.6L1661.3,412.7L1662.1,412.8L1662.9,412.8L1663.7,412.9L1664.5,413L1665.3,413.1L1666.1,413.2L1666.9,413.3L1667.7,413.4L1668.5,413.5L1669.3,413.5L1670.1,413.6L1670.9,413.7L1671.7,413.8L1672.5,413.9L1673.3,414L1674.1,414.1L1674.9,414.2L1675.7,414.3L1676.5,414.4L1677.3,414.4L1678.1,414.5L1678.9,414.6L1679.7,414.7L1680.5,414.7L1681.3,414.8L1682.1,414.9L1682.9,414.9L1683.7,415L1684.5,415L1685.3,415.1L1686.1,415.1L1686.9,415.2L1687.7,415.2L1688.5,415.2L1689.3,415.3L1690.1,415.3L1690.9,415.3L1691.7,415.4L1692.5,415.4L1693.3,415.4L1694.1,415.4L1694.9,415.5L1695.7,415.5L1696.5,415.5L1696.5,415.6L1610.1,415.6Z" fill="#f40000"/>
<path d="M1536.5,415.6L1537.3,415.4L1538.1,415.2L1538.9,414.9L1539.7,414.6L1540.5,414.1L1541.3,413.6L1542.1,413.1L1542.9,412.5L1543.7,411.9L1544.5,411.3L1545.3,410.6L1546.1,409.8L1546.9,408.7L1547.7,407.5L1548.5,406.1L1549.3,404.5L1550.1,402.9L1550.9,401.1L1551.7,399.3L1552.5,397.4L1553.3,395.5L1554.1,393.6L1554.9,391.7L1555.7,389.6L1556.5,387.4L1557.3,385L1558.1,382.6L1558.9,380.1L1559.7,377.5L1560.5,374.9L1561.3,372.4L1562.1,369.9L1562.9,367.5L1563.7,365.1L1564.5,362.8L1565.3,360.5L1566.1,358.1L1566.9,355.8L1567.7,353.4L1568.5,351.2L1569.3,348.9L1570.1,346.8L1570.9,344.7L1571.7,342.8L1572.5,341L1573.3,339.3L1574.1,337.7L1574.9,336.1L1575.7,334.6L1576.5,333.2L1577.3,331.7L1578.1,330.4L1578.9,329.1L1579.7,327.9L1580.5,326.7L1581.3,325.7L1582.1,324.7L1582.9,323.8L1583.7,322.9L1584.5,322.1L1585.3,321.3L1586.1,320.5L1586.9,319.8L1587.7,319.1L1588.5,318.4L1589.3,317.8L1590.1,317.2L1590.9,316.6L1591.7,316.1L1592.5,315.7L1593.3,315.3L1594.1,315L1594.9,314.7L1595.7,314.5L1596.5,314.2L1597.3,314L1598.1,313.7L1598.9,313.5L1599.7,313.3L1600.5,313.1L1601.3,312.9L1602.1,312.8L1602.9,312.7L1603.7,312.6L1604.5,312.6L1605.3,312.5L1606.1,312.6L1606.9,312.6L1607.7,312.6L1608.5,312.7L1609.3,312.8L1610.1,312.9L1610.9,313L1611.7,313.2L1612.5,313.3L1613.3,313.5L1614.1,313.7L1614.9,313.8L1615.7,314L1616.5,314.2L1617.3,314.4L1618.1,314.7L1618.9,315L1619.7,315.3L1620.5,315.7L1621.3,316.1L1622.1,316.6L1622.9,317L1623.7,317.5L1624.5,318L1625.3,318.6L1626.1,319.1L1626.9,319.7L1627.7,320.3L1628.5,321L1629.3,321.8L1630.1,322.6L1630.9,323.4L1631.7,324.3L1632.5,325.1L1633.3,326.1L1634.1,327L1634.9,327.9L1635.7,328.9L1636.5,329.8L1637.3,330.8L1638.1,331.7L1638.9,332.7L1639.7,333.6L1640.5,334.6L1641.3,335.6L1642.1,336.6L1642.9,337.6L1643.7,338.7L1644.5,339.7L1645.3,340.8L1646.1,341.9L1646.9,343L1647.7,344.2L1648.5,345.3L1649.3,346.5L1650.1,347.8L1650.9,349L1651.7,350.3L1652.5,351.7L1653.3,353.1L1654.1,354.6L1654.9,356.1L1655.7,357.7L1656.5,359.4L1657.3,361L1658.1,362.7L1658.9,364.4L1659.7,366.1L1660.5,367.8L1661.3,369.4L1662.1,371.1L1662.9,372.7L1663.7,374.3L1664.5,375.8L1665.3,377.3L1666.1,378.8L1666.9,380.4L1667.7,381.9L1668.5,383.5L1669.3,385L1670.1,386.5L1670.9,388L1671.7,389.5L1672.5,390.9L1673.3,392.3L1674.1,393.7L1674.9,395L1675.7,396.2L1676.5,397.4L1677.3,398.5L1678.1,399.6L1678.9,400.6L1679.7,401.7L1680.5,402.7L1681.3,403.7L1682.1,404.6L1682.9,405.5L1683.7,406.4L1684.5,407.2L1685.3,407.9L1686.1,408.6L1686.9,409.3L1687.7,409.9L1688.5,410.5L1689.3,411.1L1690.1,411.6L1690.9,412.2L1691.7,412.7L1692.5,413.2L1693.3,413.7L1694.1,414.1L1694.9,414.5L1695.7,414.9L1696.5,415.2L1697.3,415.5L1698.1,415.6L1698.1,415.6L1536.5,415.6Z" fill="url(#hatch)" stroke="#000" stroke-width="0.9" stroke-linejoin="round"/>
<path d="M1610.1,415.5L1610.9,415.5L1611.7,415.5L1612.5,415.4L1613.3,415.4L1614.1,415.4L1614.9,415.4L1615.7,415.3L1616.5,415.3L1617.3,415.3L1618.1,415.3L1618.9,415.2L1619.7,415.2L1620.5,415.1L1621.3,415.1L1622.1,415L1622.9,415L1623.7,414.9L1624.5,414.9L1625.3,414.8L1626.1,414.8L1626.9,414.7L1627.7,414.6L1628.5,414.5L1629.3,414.5L1630.1,414.4L1630.9,414.3L1631.7,414.2L1632.5,414.1L1633.3,414L1634.1,413.9L1634.9,413.8L1635.7,413.8L1636.5,413.7L1637.3,413.6L1638.1,413.5L1638.9,413.4L1639.7,413.3L1640.5,413.2L1641.3,413.1L1642.1,413L1642.9,412.9L1643.7,412.9L1644.5,412.8L1645.3,412.7L1646.1,412.6L1646.9,412.6L1647.7,412.5L1648.5,412.5L1649.3,412.4L1650.1,412.4L1650.9,412.4L1651.7,412.4L1652.5,412.4L1653.3,412.4L1654.1,412.4L1654.9,412.4L1655.7,412.4L1656.5,412.4L1657.3,412.4L1658.1,412.5L1658.9,412.5L1659.7,412.6L1660.5,412.6L1661.3,412.7L1662.1,412.8L1662.9,412.8L1663.7,412.9L1664.5,413L1665.3,413.1L1666.1,413.2L1666.9,413.3L1667.7,413.4L1668.5,413.5L1669.3,413.5L1670.1,413.6L1670.9,413.7L1671.7,413.8L1672.5,413.9L1673.3,414L1674.1,414.1L1674.9,414.2L1675.7,414.3L1676.5,414.4L1677.3,414.4L1678.1,414.5L1678.9,414.6L1679.7,414.7L1680.5,414.7L1681.3,414.8L1682.1,414.9L1682.9,414.9L1683.7,415L1684.5,415L1685.3,415.1L1686.1,415.1L1686.9,415.2L1687.7,415.2L1688.5,415.2L1689.3,415.3L1690.1,415.3L1690.9,415.3L1691.7,415.4L1692.5,415.4L1693.3,415.4L1694.1,415.4L1694.9,415.5L1695.7,415.5L1696.5,415.5" fill="none" stroke="#000" stroke-width="0.8" stroke-linejoin="round"/>
<path d="M1521.3,415.4L1522.1,415.3L1522.9,415.3L1523.7,415.2L1524.5,415L1525.3,414.9L1526.1,414.7L1526.9,414.5L1527.7,414.3L1528.5,414L1529.3,413.6L1530.1,413.1L1530.9,412.6L1531.7,412L1532.5,411.2L1533.3,410.4L1534.1,409.3L1534.9,408.1L1535.7,406.8L1536.5,405.1L1537.3,403.2L1538.1,400.9L1538.9,398.2L1539.7,395.2L1540.5,391.7L1541.3,387.9L1542.1,383.6L1542.9,378.9L1543.7,373.7L1544.5,368.1L1545.3,362L1546.1,355.2L1546.9,347.9L1547.7,339.8L1548.5,331.2L1549.3,322L1550.1,312.4L1550.9,302.2L1551.7,291.7L1552.5,280.9L1553.3,269.8L1554.1,258.7L1554.9,247.4L1555.7,236L1556.5,224.5L1557.3,213.1L1558.1,201.9L1558.9,191L1559.7,180.5L1560.5,170.5L1561.3,161.2L1562.1,152.6L1562.9,144.9L1563.7,138.1L1564.5,132.3L1565.3,127.4L1566.1,123.4L1566.9,120.5L1567.7,118.5L1568.5,117.6L1569.3,117.8L1570.1,119L1570.9,121.2L1571.7,124.4L1572.5,128.5L1573.3,133.5L1574.1,139.2L1574.9,145.5L1575.7,152.3L1576.5,159.5L1577.3,167.1L1578.1,174.9L1578.9,183L1579.7,191.1L1580.5,199.2L1581.3,207.4L1582.1,215.4L1582.9,223.2L1583.7,230.8L1584.5,238.1L1585.3,245L1586.1,251.5L1586.9,257.6L1587.7,263.3L1588.5,268.6L1589.3,273.5L1590.1,278L1590.9,282.1L1591.7,285.8L1592.5,289.2L1593.3,292.3L1594.1,295L1594.9,297.5L1595.7,299.7L1596.5,301.5L1597.3,303.2L1598.1,304.6L1598.9,305.8L1599.7,306.8L1600.5,307.6L1601.3,308.4L1602.1,309L1602.9,309.5L1603.7,310L1604.5,310.4L1605.3,310.8L1606.1,311.1L1606.9,311.4L1607.7,311.7L1608.5,311.9L1609.3,312.1L1610.1,312.3L1610.9,312.6L1611.7,312.8L1612.5,312.9L1613.3,313.1L1614.1,313.3L1614.9,313.5L1615.7,313.7L1616.5,313.8L1617.3,314L1618.1,314.3L1618.9,314.6L1619.7,314.9L1620.5,315.2L1621.3,315.6L1622.1,316L1622.9,316.4L1623.7,316.9L1624.5,317.3L1625.3,317.8L1626.1,318.3L1626.9,318.8L1627.7,319.3L1628.5,320L1629.3,320.6L1630.1,321.3L1630.9,322.1L1631.7,322.9L1632.5,323.7L1633.3,324.5L1634.1,325.3L1634.9,326.2L1635.7,327L1636.5,327.9L1637.3,328.8L1638.1,329.6L1638.9,330.5L1639.7,331.3L1640.5,332.2L1641.3,333.1L1642.1,334L1642.9,335L1643.7,335.9L1644.5,336.9L1645.3,337.9L1646.1,338.9L1646.9,340L1647.7,341.1L1648.5,342.2L1649.3,343.4L1650.1,344.6L1650.9,345.8L1651.7,347.1L1652.5,348.4L1653.3,349.9L1654.1,351.3L1654.9,352.9L1655.7,354.5L1656.5,356.2L1657.3,357.9L1658.1,359.6L1658.9,361.3L1659.7,363.1L1660.5,364.8L1661.3,366.6L1662.1,368.3L1662.9,369.9L1663.7,371.6L1664.5,373.2L1665.3,374.8L1666.1,376.4L1666.9,378.1L1667.7,379.7L1668.5,381.3L1669.3,383L1670.1,384.6L1670.9,386.2L1671.7,387.7L1672.5,389.2L1673.3,390.7L1674.1,392.2L1674.9,393.5L1675.7,394.9L1676.5,396.1L1677.3,397.3L1678.1,398.5L1678.9,399.6L1679.7,400.7L1680.5,401.8L1681.3,402.9L1682.1,403.9L1682.9,404.8L1683.7,405.8L1684.5,406.6L1685.3,407.4L1686.1,408.2L1686.9,408.9L1687.7,409.5L1688.5,410.1L1689.3,410.8L1690.1,411.4L1690.9,411.9L1691.7,412.5L1692.5,413L1693.3,413.5L1694.1,413.9L1694.9,414.4L1695.7,414.7L1696.5,415.1L1697.3,415.4L1698.1,415.5" fill="none" stroke="#111" stroke-width="0.9" stroke-linejoin="round"/>
<path d="M1521.3,415.6L1522.9,415.1L1524.5,415.2L1526.1,415L1527.7,413.8L1529.3,415.1L1530.9,414L1532.5,411.8L1534.1,408.9L1535.7,408L1537.3,405.4L1538.9,401L1540.5,392.1L1542.1,381.2L1543.7,379.6L1545.3,369.8L1546.9,349.4L1548.5,333.4L1550.1,318.2L1551.7,287.4L1553.3,263.7L1554.9,252L1556.5,227.4L1558.1,196.4L1559.7,184.1L1561.3,174.3L1562.9,144L1564.5,139.6L1566.1,117L1567.7,120.8L1569.3,116.7L1570.9,112.8L1572.5,127.7L1574.1,144.4L1575.7,161.7L1577.3,151.6L1578.9,172L1580.5,213L1582.1,224.6L1583.7,225.6L1585.3,249.5L1586.9,257L1588.5,261.7L1590.1,276.2L1591.7,285.6L1593.3,294L1594.9,296L1596.5,296.3L1598.1,291.2L1599.7,295.7L1601.3,304.9L1602.9,297.8L1604.5,303.2L1606.1,313.7L1607.7,304.3L1609.3,296.8L1610.9,307.3L1612.5,297.1L1614.1,305.6L1615.7,303.8L1617.3,312.5L1618.9,295.6L1620.5,303.8L1622.1,301.7L1623.7,312.9L1625.3,321.1L1626.9,305.8L1628.5,320L1630.1,308.3L1631.7,321L1633.3,313L1634.9,328.8L1636.5,336.6L1638.1,324.5L1639.7,331L1641.3,332.6L1642.9,328.6L1644.5,341.6L1646.1,345.9L1647.7,347.4L1649.3,352.3L1650.9,354.7L1652.5,355L1654.1,352.3L1655.7,352.6L1657.3,357.2L1658.9,356.3L1660.5,358.6L1662.1,361.2L1663.7,365.8L1665.3,373.4L1666.9,374.7L1668.5,377.7L1670.1,380.8L1671.7,387.6L1673.3,387.9L1674.9,386.8L1676.5,389L1678.1,396.3L1679.7,394.3L1681.3,398.8L1682.9,400.8L1684.5,403.7L1686.1,405.5L1687.7,405.9L1689.3,406.8L1690.9,408.4L1692.5,411.2L1694.1,407.9L1695.7,410.3L1697.3,413.5L1698.9,414.3L1700.5,413.7L1702.1,413.2L1703.7,414.2L1705.3,414.4L1706.9,414.6L1708.5,413.8L1710.1,414L1711.7,414.4L1713.3,414.5L1714.9,414.2L1716.5,413.7L1718.1,414.1L1719.7,413.7L1721.3,414.8L1722.9,414.1L1724.5,415L1726.1,413.7L1727.7,413.9L1729.3,414.7L1730.9,413.9L1732.5,415.6" fill="none" stroke="#1a1a1a" stroke-width="0.8" stroke-linejoin="round"/>
<g stroke="#1c1c1c" stroke-width="1.15" fill="none">
<path d="M1441.3,91V415.6"/>
<path d="M1427.6,415.6H1441.3M1434.3,399.4H1441.3M1434.3,383.1H1441.3M1434.3,366.9H1441.3M1434.3,350.7H1441.3M1427.6,334.5H1441.3M1434.3,318.2H1441.3M1434.3,302H1441.3M1434.3,285.8H1441.3M1434.3,269.5H1441.3M1427.6,253.3H1441.3M1434.3,237.1H1441.3M1434.3,220.8H1441.3M1434.3,204.6H1441.3M1434.3,188.4H1441.3M1427.6,172.1H1441.3M1434.3,155.9H1441.3M1434.3,139.7H1441.3M1434.3,123.5H1441.3M1434.3,107.2H1441.3M1427.6,91H1441.3"/>
</g>
<path d="M1440.7,415.6H1525.3M1696.1,415.6H1761.8" stroke="#000" stroke-width="1.8"/>
<path d="M1525.3,416.1H1696.1" stroke="#555" stroke-width="1"/>
<path d="M1443.4,416.6V421.6M1452.7,416.6V421.6M1461.9,416.6V421.6M1471.2,416.6V421.6" stroke="#ff2020" stroke-width="0.9"/>
<path d="M1480.4,415.6V429.6M1526.7,415.6V429.6M1572.9,415.6V429.6M1619.2,415.6V429.6M1665.4,415.6V429.6M1711.7,415.6V429.6M1757.9,415.6V429.6" stroke="#000" stroke-width="1.25"/>
<path d="M1489.7,415.6V422.4M1498.9,415.6V422.4M1508.2,415.6V422.4M1517.4,415.6V422.4M1535.9,415.6V422.4M1545.2,415.6V422.4M1554.4,415.6V422.4M1563.7,415.6V422.4M1582.2,415.6V422.4M1591.4,415.6V422.4M1600.7,415.6V422.4M1609.9,415.6V422.4M1628.4,415.6V422.4M1637.7,415.6V422.4M1646.9,415.6V422.4M1656.2,415.6V422.4M1674.7,415.6V422.4M1683.9,415.6V422.4M1693.2,415.6V422.4M1702.4,415.6V422.4M1720.9,415.6V422.4M1730.2,415.6V422.4M1739.4,415.6V422.4M1748.7,415.6V422.4" stroke="#111" stroke-width="1.1"/>
<g font-family='"Liberation Sans", sans-serif' font-size="10.3" fill="#111" stroke="#111" stroke-width="0.2" text-anchor="middle">
<text x="1480.4" y="443">0</text>
<text x="1526.7" y="443">500</text>
<text x="1572.9" y="443">1000</text>
<text x="1619.2" y="443">1500</text>
<text x="1665.4" y="443">2000</text>
<text x="1711.7" y="443">2500</text>
<text x="1757.9" y="443">3000</text>
<text transform="translate(1421.8,415.6) rotate(-90)">0</text>
<text transform="translate(1421.8,334.5) rotate(-90)">100</text>
<text transform="translate(1421.8,253.3) rotate(-90)">200</text>
<text transform="translate(1421.8,172.1) rotate(-90)">300</text>
<text transform="translate(1421.8,91) rotate(-90)">400</text>
</g>
<g font-family='"Liberation Sans", sans-serif' font-size="11" fill="#111" stroke="#111" stroke-width="0.2">
<text x="1602" y="459.6" text-anchor="middle">FL2-A PE-A</text>
<text x="1761.3" y="459.6" text-anchor="end">(x 1000)</text>
<text transform="translate(1404.5,253.3) rotate(-90)" text-anchor="middle">Number</text>
</g>
<g font-family='"Liberation Sans", sans-serif' font-size="8.6" fill="#1818ff" stroke="#1818ff" stroke-width="0.15">
<rect x="1697.7" y="84.2" width="11" height="9.6" fill="#f40000" stroke="#111" stroke-width="0.9"/>
<text x="1714" y="93.3">Dip G1</text>
<rect x="1697.7" y="97.1" width="11" height="9.6" fill="#f40000" stroke="#111" stroke-width="0.9"/>
<text x="1714" y="106.2">Dip G2</text>
<rect x="1697.7" y="110" width="11" height="9.6" fill="url(#hatchL)" stroke="#111" stroke-width="0.9"/>
<path d="M1698,110.3l10.4,9.2M1705.3,110.4l3,2.6M1698.1,116.6l3,2.6" stroke="#2020ff" stroke-width="0.9"/>
<text x="1714" y="119.1">Dip S</text>
</g>
</g>
<g>
<path d="M243.5,906.3L244.3,906.2L245.1,906.2L245.9,906.2L246.7,906.1L247.5,906L248.3,905.9L249.1,905.8L249.9,905.6L250.7,905.3L251.5,904.9L252.3,904.4L253.1,903.8L253.9,903L254.7,901.9L255.5,900.6L256.3,898.9L257.1,896.9L257.9,894.3L258.7,891.2L259.5,887.5L260.3,883L261.1,877.8L261.9,871.7L262.7,864.6L263.5,856.5L264.3,847.3L265.1,837.1L265.9,825.7L266.7,813.4L267.5,800L268.3,785.9L269.1,770.9L269.9,755.5L270.7,739.7L271.5,723.9L272.3,708.4L273.1,693.3L273.9,679.1L274.7,666L275.5,654.4L276.3,644.5L277.1,636.5L277.9,630.8L278.7,627.3L279.5,626.2L280.3,627.6L281.1,631.3L281.9,637.4L282.7,645.5L283.5,655.7L284.3,667.5L285.1,680.7L285.9,695L286.7,710.2L287.5,725.8L288.3,741.6L289.1,757.3L289.9,772.7L290.7,787.6L291.5,801.7L292.3,814.9L293.1,827.1L293.9,838.3L294.7,848.4L295.5,857.5L296.3,865.5L297.1,872.4L297.9,878.5L298.7,883.6L299.5,888L300.3,891.6L301.1,894.6L301.9,897.1L302.7,899.1L303.5,900.8L304.3,902.1L305.1,903.1L305.9,903.9L306.7,904.5L307.5,905L308.3,905.3L309.1,905.6L309.9,905.8L310.7,905.9L311.5,906L312.3,906.1L313.1,906.2L313.9,906.2L314.7,906.2L315.5,906.3L315.5,906.3L243.5,906.3Z" fill="#f40000" stroke="#000" stroke-width="0.9" stroke-linejoin="round"/>
<path d="M337.1,906.3L337.9,906.3L338.7,906.2L339.5,906.2L340.3,906.2L341.1,906.2L341.9,906.2L342.7,906.2L343.5,906.2L344.3,906.1L345.1,906.1L345.9,906.1L346.7,906.1L347.5,906L348.3,906L349.1,906L349.9,905.9L350.7,905.9L351.5,905.8L352.3,905.8L353.1,905.7L353.9,905.7L354.7,905.6L355.5,905.5L356.3,905.5L357.1,905.4L357.9,905.3L358.7,905.2L359.5,905.1L360.3,905L361.1,904.9L361.9,904.8L362.7,904.7L363.5,904.5L364.3,904.4L365.1,904.3L365.9,904.1L366.7,904L367.5,903.8L368.3,903.7L369.1,903.5L369.9,903.4L370.7,903.2L371.5,903.1L372.3,902.9L373.1,902.7L373.9,902.6L374.7,902.4L375.5,902.3L376.3,902.2L377.1,902L377.9,901.9L378.7,901.8L379.5,901.7L380.3,901.6L381.1,901.5L381.9,901.4L382.7,901.3L383.5,901.2L384.3,901.2L385.1,901.1L385.9,901.1L386.7,901.1L387.5,901.1L388.3,901.1L389.1,901.1L389.9,901.2L390.7,901.2L391.5,901.3L392.3,901.3L393.1,901.4L393.9,901.5L394.7,901.6L395.5,901.7L396.3,901.9L397.1,902L397.9,902.1L398.7,902.3L399.5,902.4L400.3,902.5L401.1,902.7L401.9,902.9L402.7,903L403.5,903.2L404.3,903.3L405.1,903.5L405.9,903.6L406.7,903.8L407.5,903.9L408.3,904.1L409.1,904.2L409.9,904.4L410.7,904.5L411.5,904.6L412.3,904.7L413.1,904.9L413.9,905L414.7,905.1L415.5,905.2L416.3,905.3L417.1,905.4L417.9,905.4L418.7,905.5L419.5,905.6L420.3,905.7L421.1,905.7L421.9,905.8L422.7,905.8L423.5,905.9L424.3,905.9L425.1,906L425.9,906L426.7,906L427.5,906.1L428.3,906.1L429.1,906.1L429.9,906.1L430.7,906.2L431.5,906.2L432.3,906.2L433.1,906.2L433.9,906.2L434.7,906.2L435.5,906.2L436.3,906.2L437.1,906.3L437.1,906.3L337.1,906.3Z" fill="#f40000"/>
<path d="M264.3,906.3L265.1,906.3L265.9,906.2L266.7,906.1L267.5,906L268.3,905.9L269.1,905.7L269.9,905.5L270.7,905.3L271.5,905.1L272.3,904.9L273.1,904.7L273.9,904.3L274.7,903.9L275.5,903.4L276.3,902.9L277.1,902.3L277.9,901.7L278.7,901.1L279.5,900.5L280.3,899.8L281.1,899.1L281.9,898.3L282.7,897.4L283.5,896.6L284.3,895.8L285.1,895L285.9,894.2L286.7,893.5L287.5,892.8L288.3,892.1L289.1,891.4L289.9,890.7L290.7,890L291.5,889.5L292.3,888.9L293.1,888.5L293.9,888.1L294.7,887.8L295.5,887.4L296.3,887.1L297.1,886.8L297.9,886.5L298.7,886.3L299.5,886.2L300.3,886.1L301.1,886.1L301.9,886.1L302.7,886.1L303.5,886.1L304.3,886.1L305.1,886.1L305.9,886.1L306.7,886.1L307.5,886.1L308.3,886.1L309.1,886.1L309.9,886.1L310.7,886.1L311.5,886.1L312.3,886.1L313.1,886.1L313.9,886.1L314.7,886.1L315.5,886.1L316.3,886.1L317.1,886.1L317.9,886.1L318.7,886.1L319.5,886.1L320.3,886.1L321.1,886.1L321.9,886.1L322.7,886.1L323.5,886.1L324.3,886.1L325.1,886.1L325.9,886.1L326.7,886.1L327.5,886.1L328.3,886.1L329.1,886.1L329.9,886.1L330.7,886.1L331.5,886.1L332.3,886.1L333.1,886.1L333.9,886.1L334.7,886.1L335.5,886.1L336.3,886.1L337.1,886.1L337.9,886.2L338.7,886.2L339.5,886.2L340.3,886.2L341.1,886.2L341.9,886.2L342.7,886.2L343.5,886.2L344.3,886.2L345.1,886.2L345.9,886.2L346.7,886.2L347.5,886.2L348.3,886.2L349.1,886.2L349.9,886.2L350.7,886.2L351.5,886.2L352.3,886.2L353.1,886.2L353.9,886.2L354.7,886.3L355.5,886.3L356.3,886.3L357.1,886.3L357.9,886.3L358.7,886.3L359.5,886.3L360.3,886.3L361.1,886.3L361.9,886.3L362.7,886.3L363.5,886.4L364.3,886.4L365.1,886.4L365.9,886.4L366.7,886.4L367.5,886.4L368.3,886.4L369.1,886.4L369.9,886.5L370.7,886.5L371.5,886.6L372.3,886.7L373.1,886.9L373.9,887.1L374.7,887.3L375.5,887.6L376.3,887.9L377.1,888.2L377.9,888.5L378.7,888.8L379.5,889.1L380.3,889.4L381.1,889.8L381.9,890.1L382.7,890.5L383.5,890.9L384.3,891.3L385.1,891.7L385.9,892.2L386.7,892.6L387.5,893.1L388.3,893.5L389.1,894L389.9,894.4L390.7,894.8L391.5,895.3L392.3,895.7L393.1,896.2L393.9,896.6L394.7,897.1L395.5,897.5L396.3,898L397.1,898.4L397.9,898.9L398.7,899.3L399.5,899.7L400.3,900.1L401.1,900.5L401.9,900.9L402.7,901.2L403.5,901.6L404.3,902L405.1,902.4L405.9,902.7L406.7,903.1L407.5,903.4L408.3,903.7L409.1,903.9L409.9,904.2L410.7,904.4L411.5,904.6L412.3,904.8L413.1,905L413.9,905.2L414.7,905.4L415.5,905.6L416.3,905.7L417.1,905.9L417.9,906L418.7,906.1L419.5,906.2L420.3,906.3L421.1,906.3L421.1,906.3L264.3,906.3Z" fill="url(#hatch)" stroke="#000" stroke-width="0.9" stroke-linejoin="round"/>
<path d="M337.1,906.3L337.9,906.3L338.7,906.2L339.5,906.2L340.3,906.2L341.1,906.2L341.9,906.2L342.7,906.2L343.5,906.2L344.3,906.1L345.1,906.1L345.9,906.1L346.7,906.1L347.5,906L348.3,906L349.1,906L349.9,905.9L350.7,905.9L351.5,905.8L352.3,905.8L353.1,905.7L353.9,905.7L354.7,905.6L355.5,905.5L356.3,905.5L357.1,905.4L357.9,905.3L358.7,905.2L359.5,905.1L360.3,905L361.1,904.9L361.9,904.8L362.7,904.7L363.5,904.5L364.3,904.4L365.1,904.3L365.9,904.1L366.7,904L367.5,903.8L368.3,903.7L369.1,903.5L369.9,903.4L370.7,903.2L371.5,903.1L372.3,902.9L373.1,902.7L373.9,902.6L374.7,902.4L375.5,902.3L376.3,902.2L377.1,902L377.9,901.9L378.7,901.8L379.5,901.7L380.3,901.6L381.1,901.5L381.9,901.4L382.7,901.3L383.5,901.2L384.3,901.2L385.1,901.1L385.9,901.1L386.7,901.1L387.5,901.1L388.3,901.1L389.1,901.1L389.9,901.2L390.7,901.2L391.5,901.3L392.3,901.3L393.1,901.4L393.9,901.5L394.7,901.6L395.5,901.7L396.3,901.9L397.1,902L397.9,902.1L398.7,902.3L399.5,902.4L400.3,902.5L401.1,902.7L401.9,902.9L402.7,903L403.5,903.2L404.3,903.3L405.1,903.5L405.9,903.6L406.7,903.8L407.5,903.9L408.3,904.1L409.1,904.2L409.9,904.4L410.7,904.5L411.5,904.6L412.3,904.7L413.1,904.9L413.9,905L414.7,905.1L415.5,905.2L416.3,905.3L417.1,905.4L417.9,905.4L418.7,905.5L419.5,905.6L420.3,905.7L421.1,905.7L421.9,905.8L422.7,905.8L423.5,905.9L424.3,905.9L425.1,906L425.9,906L426.7,906L427.5,906.1L428.3,906.1L429.1,906.1L429.9,906.1L430.7,906.2L431.5,906.2L432.3,906.2L433.1,906.2L433.9,906.2L434.7,906.2L435.5,906.2L436.3,906.2L437.1,906.3" fill="none" stroke="#000" stroke-width="0.8" stroke-linejoin="round"/>
<path d="M245.1,906.2L245.9,906.2L246.7,906.1L247.5,906L248.3,905.9L249.1,905.8L249.9,905.6L250.7,905.3L251.5,904.9L252.3,904.4L253.1,903.8L253.9,903L254.7,901.9L255.5,900.6L256.3,898.9L257.1,896.9L257.9,894.3L258.7,891.2L259.5,887.5L260.3,883L261.1,877.8L261.9,871.7L262.7,864.6L263.5,856.5L264.3,847.3L265.1,837L265.9,825.6L266.7,813.2L267.5,799.7L268.3,785.4L269.1,770.3L269.9,754.7L270.7,738.8L271.5,722.8L272.3,707L273.1,691.7L273.9,677.1L274.7,663.6L275.5,651.5L276.3,641L277.1,632.5L277.9,626.2L278.7,622.1L279.5,620.4L280.3,621.1L281.1,624.1L281.9,629.3L282.7,636.7L283.5,646L284.3,657L285.1,669.4L285.9,683L286.7,697.4L287.5,712.3L288.3,727.4L289.1,742.4L289.9,757.1L290.7,771.3L291.5,784.8L292.3,797.5L293.1,809.3L293.9,820.2L294.7,829.9L295.5,838.6L296.3,846.2L297.1,852.9L297.9,858.7L298.7,863.6L299.5,867.8L300.3,871.4L301.1,874.5L301.9,877L302.7,879L303.5,880.6L304.3,881.9L305.1,882.9L305.9,883.7L306.7,884.3L307.5,884.8L308.3,885.1L309.1,885.4L309.9,885.6L310.7,885.8L311.5,885.9L312.3,885.9L313.1,886L313.9,886L314.7,886.1L315.5,886.1L316.3,886.1L317.1,886.1L317.9,886.1L318.7,886.1L319.5,886.1L320.3,886.1L321.1,886.1L321.9,886.1L322.7,886.1L323.5,886.1L324.3,886.1L325.1,886.1L325.9,886.1L326.7,886.1L327.5,886.1L328.3,886.1L329.1,886.1L329.9,886.1L330.7,886.1L331.5,886.1L332.3,886.1L333.1,886.1L333.9,886.1L334.7,886.1L335.5,886.1L336.3,886.1L337.1,886.1L337.9,886.1L338.7,886.1L339.5,886.1L340.3,886.1L341.1,886.1L341.9,886.1L342.7,886.1L343.5,886L344.3,886L345.1,886L345.9,886L346.7,886L347.5,885.9L348.3,885.9L349.1,885.9L349.9,885.9L350.7,885.8L351.5,885.8L352.3,885.7L353.1,885.7L353.9,885.6L354.7,885.6L355.5,885.5L356.3,885.4L357.1,885.4L357.9,885.3L358.7,885.2L359.5,885.1L360.3,885L361.1,884.9L361.9,884.8L362.7,884.7L363.5,884.6L364.3,884.5L365.1,884.3L365.9,884.2L366.7,884.1L367.5,883.9L368.3,883.8L369.1,883.7L369.9,883.5L370.7,883.4L371.5,883.3L372.3,883.3L373.1,883.3L373.9,883.4L374.7,883.5L375.5,883.6L376.3,883.8L377.1,883.9L377.9,884.1L378.7,884.3L379.5,884.5L380.3,884.7L381.1,884.9L381.9,885.2L382.7,885.5L383.5,885.8L384.3,886.2L385.1,886.6L385.9,887L386.7,887.4L387.5,887.9L388.3,888.3L389.1,888.8L389.9,889.3L390.7,889.7L391.5,890.2L392.3,890.8L393.1,891.3L393.9,891.8L394.7,892.4L395.5,893L396.3,893.5L397.1,894.1L397.9,894.7L398.7,895.3L399.5,895.8L400.3,896.3L401.1,896.9L401.9,897.4L402.7,898L403.5,898.5L404.3,899L405.1,899.5L405.9,900L406.7,900.5L407.5,901L408.3,901.5L409.1,901.9L409.9,902.3L410.7,902.6L411.5,902.9L412.3,903.3L413.1,903.6L413.9,903.9L414.7,904.2L415.5,904.4L416.3,904.7L417.1,904.9L417.9,905.1L418.7,905.3L419.5,905.5L420.3,905.6L421.1,905.7L421.9,905.8L422.7,905.8L423.5,905.9L424.3,905.9L425.1,906L425.9,906L426.7,906L427.5,906.1L428.3,906.1L429.1,906.1L429.9,906.1L430.7,906.2L431.5,906.2L432.3,906.2L433.1,906.2" fill="none" stroke="#111" stroke-width="0.9" stroke-linejoin="round"/>
<path d="M245.1,906.2L245.9,906.2L246.7,906.1L247.5,906L248.3,905.9L249.1,905.8L249.9,905.6L250.7,905.3L251.5,904.9L252.3,904.4L253.1,903.8L253.9,903L254.7,901.9L255.5,900.6L256.3,898.9L257.1,896.9L257.9,894.3L258.7,891.2L259.5,887.5L260.3,883L261.1,877.8L261.9,871.7L262.7,864.6L263.5,856.5L264.3,847.3L265.1,837L265.9,825.6L266.7,813.2L267.5,799.7L268.3,785.4L269.1,770.3L269.9,754.7L270.7,738.8L271.5,722.8L272.3,707L273.1,691.7L273.9,677.1L274.7,663.6L275.5,651.5L276.3,641L277.1,632.5L277.9,626.2L278.7,622.1L279.5,620.4L280.3,621.1L281.1,624.1L281.9,629.3L282.7,636.7L283.5,646L284.3,657L285.1,669.4L285.9,683L286.7,697.4L287.5,712.3L288.3,727.4L289.1,742.4L289.9,757.1L290.7,771.3L291.5,784.8L292.3,797.5L293.1,809.3L293.9,820.2L294.7,829.9L295.5,838.6L296.3,846.2L297.1,852.9L297.9,858.7L298.7,863.6L299.5,867.8L300.3,871.4L301.1,874.5L301.9,877L302.7,879L303.5,880.6L304.3,881.9L305.1,882.9L305.9,883.7L306.7,884.3L307.5,884.8L308.3,885.1L309.1,885.4L309.9,885.6L310.7,885.8L311.5,885.9L312.3,885.9L313.1,886L313.9,886L314.7,886.1L315.5,886.1L316.3,886.1L317.1,886.1L317.9,886.1L318.7,886.1L319.5,886.1L320.3,886.1L321.1,886.1L321.9,886.1L322.7,886.1L323.5,886.1L324.3,886.1L325.1,886.1L325.9,886.1L326.7,886.1L327.5,886.1L328.3,886.1L329.1,886.1L329.9,886.1L330.7,886.1L331.5,886.1L332.3,886.1L333.1,886.1L333.9,886.1L334.7,886.1L335.5,886.1L336.3,886.1L337.1,886.1L337.9,886.1L338.7,886.1L339.5,886.1L340.3,886.1L341.1,886.1L341.9,886.1L342.7,886.1L343.5,886L344.3,886L345.1,886L345.9,886L346.7,886L347.5,885.9L348.3,885.9L349.1,885.9L349.9,885.8L350.7,885.8L351.5,885.8L352.3,885.7L353.1,885.7L353.9,885.6L354.7,885.5L355.5,885.5L356.3,885.4L357.1,885.3L357.9,885.2L358.7,885.1L359.5,885L360.3,884.9L361.1,884.8L361.9,884.6L362.7,884.5L363.5,884.3L364.3,884.2L365.1,884L365.9,883.8L366.7,883.6L367.5,883.4L368.3,883.2L369.1,882.9L369.9,882.7L370.7,882.5L371.5,882.3L372.3,882.2L373.1,882.1L373.9,882L374.7,882L375.5,882L376.3,882L377.1,882L377.9,882.1L378.7,882.2L379.5,882.3L380.3,882.4L381.1,882.5L381.9,882.7L382.7,883L383.5,883.2L384.3,883.6L385.1,884L385.9,884.4L386.7,884.8L387.5,885.3L388.3,885.8L389.1,886.4L389.9,886.9L390.7,887.5L391.5,888.1L392.3,888.7L393.1,889.4L393.9,890.1L394.7,890.7L395.5,891.4L396.3,892.1L397.1,892.8L397.9,893.5L398.7,894.2L399.5,894.9L400.3,895.5L401.1,896.1L401.9,896.8L402.7,897.4L403.5,898L404.3,898.6L405.1,899.2L405.9,899.7L406.7,900.3L407.5,900.8L408.3,901.3L409.1,901.7L409.9,902.1L410.7,902.5L411.5,902.9L412.3,903.2L413.1,903.5L413.9,903.8L414.7,904.1L415.5,904.4L416.3,904.7L417.1,904.9L417.9,905.1L418.7,905.3L419.5,905.5L420.3,905.6L421.1,905.7L421.9,905.8L422.7,905.8L423.5,905.9L424.3,905.9L425.1,906L425.9,906L426.7,906L427.5,906.1L428.3,906.1L429.1,906.1L429.9,906.1L430.7,906.2L431.5,906.2L432.3,906.2L433.1,906.2" fill="none" stroke="#222" stroke-width="0.8" stroke-linejoin="round"/>
<path d="M245.1,906.2L246.7,906.2L248.3,904.7L249.9,902.7L251.5,901L253.1,894.8L254.7,890.9L256.3,886.6L257.9,882.5L259.5,876.2L261.1,874.3L262.7,858.8L264.3,843.3L265.9,830.8L267.5,797.9L269.1,771.4L270.7,734.7L272.3,709.4L273.9,676.7L275.5,647.4L277.1,632.9L278.7,606.4L280.3,603.9L281.9,605.9L283.5,633.1L285.1,652.9L286.7,689.7L288.3,727L289.9,753.7L291.5,779.2L293.1,803.4L294.7,835.4L296.3,843.5L297.9,857.4L299.5,868.1L301.1,876.7L302.7,876.3L304.3,884.4L305.9,882.6L307.5,882.4L309.1,888.3L310.7,886.3L312.3,888.3L313.9,885.6L315.5,883.4L317.1,883.4L318.7,889.2L320.3,887.2L321.9,884.9L323.5,883.4L325.1,885.4L326.7,887.5L328.3,885.6L329.9,886.2L331.5,886.5L333.1,887.4L334.7,885.4L336.3,885.6L337.9,886.3L339.5,886.5L341.1,888.4L342.7,886.9L344.3,883.7L345.9,886.1L347.5,888.2L349.1,882.8L350.7,883.8L352.3,881.3L353.9,883.1L355.5,883.1L357.1,883.9L358.7,877L360.3,875.3L361.9,879.2L363.5,878L365.1,874.9L366.7,878L368.3,877.1L369.9,877.9L371.5,877.6L373.1,876.8L374.7,880.3L376.3,879.7L377.9,883.4L379.5,882.9L381.1,887.5L382.7,887.8L384.3,884.6L385.9,887.9L387.5,884.6L389.1,884.7L390.7,881.5L392.3,885.7L393.9,887.1L395.5,887.1L397.1,892.4L398.7,893.9L400.3,892.4L401.9,894.9L403.5,895L405.1,888.8L406.7,895L408.3,897.9L409.9,900.9L411.5,897.6L413.1,900L414.7,900.3L416.3,894.8L417.9,902.7L419.5,902.3L421.1,898.9L422.7,898.9L424.3,900.1L425.9,901.1L427.5,899.3L429.1,903.2L430.7,904.5L432.3,902.6L433.9,904.5L435.5,904.5L437.1,902.1L438.7,904.4L440.3,904.4L441.9,904.7L443.5,904.5L445.1,905.2L446.7,904.9L448.3,905.4L449.9,904.6L451.5,905L453.1,905.1L454.7,905.2L456.3,904.3L457.9,905.7L459.5,905L461.1,905.5L462.7,905.3L464.3,905.2L465.9,905.7L467.5,905.6L469.1,905.3L470.7,904.8L472.3,906.3" fill="none" stroke="#1a1a1a" stroke-width="0.8" stroke-linejoin="round"/>
<g stroke="#1c1c1c" stroke-width="1.15" fill="none">
<path d="M173.1,581V906.3"/>
<path d="M159.4,906.3H173.1M166.1,890H173.1M166.1,873.8H173.1M166.1,857.5H173.1M159.4,841.2H173.1M166.1,825H173.1M166.1,808.7H173.1M166.1,792.4H173.1M159.4,776.2H173.1M166.1,759.9H173.1M166.1,743.6H173.1M166.1,727.4H173.1M159.4,711.1H173.1M166.1,694.9H173.1M166.1,678.6H173.1M166.1,662.3H173.1M159.4,646.1H173.1M166.1,629.8H173.1M166.1,613.5H173.1M166.1,597.3H173.1M159.4,581H173.1"/>
</g>
<path d="M159.4,906.3H249.1M431.1,906.3H494.6" stroke="#000" stroke-width="1.8"/>
<path d="M249.1,906.8H431.1" stroke="#555" stroke-width="1"/>
<path d="M173.1,906.3V920.3M223.6,906.3V920.3M274.1,906.3V920.3M324.6,906.3V920.3M375.1,906.3V920.3M425.6,906.3V920.3M476.1,906.3V920.3" stroke="#000" stroke-width="1.25"/>
<path d="M183.2,906.3V913.1M193.3,906.3V913.1M203.4,906.3V913.1M213.5,906.3V913.1M233.7,906.3V913.1M243.8,906.3V913.1M253.9,906.3V913.1M264,906.3V913.1M284.2,906.3V913.1M294.3,906.3V913.1M304.4,906.3V913.1M314.5,906.3V913.1M334.7,906.3V913.1M344.8,906.3V913.1M354.9,906.3V913.1M365,906.3V913.1M385.2,906.3V913.1M395.3,906.3V913.1M405.4,906.3V913.1M415.5,906.3V913.1M435.7,906.3V913.1M445.8,906.3V913.1M455.9,906.3V913.1M466,906.3V913.1M486.2,906.3V913.1" stroke="#111" stroke-width="1.1"/>
<g font-family='"Liberation Sans", sans-serif' font-size="10.3" fill="#111" stroke="#111" stroke-width="0.2" text-anchor="middle">
<text x="173.1" y="933.7">0</text>
<text x="223.6" y="933.7">500</text>
<text x="274.1" y="933.7">1000</text>
<text x="324.6" y="933.7">1500</text>
<text x="375.1" y="933.7">2000</text>
<text x="425.6" y="933.7">2500</text>
<text x="476.1" y="933.7">3000</text>
<text transform="translate(153.6,906.3) rotate(-90)">0</text>
<text transform="translate(153.6,841.2) rotate(-90)">200</text>
<text transform="translate(153.6,776.2) rotate(-90)">400</text>
<text transform="translate(153.6,711.1) rotate(-90)">600</text>
<text transform="translate(153.6,646.1) rotate(-90)">800</text>
<text transform="translate(153.6,581) rotate(-90)">1000</text>
</g>
<g font-family='"Liberation Sans", sans-serif' font-size="11" fill="#111" stroke="#111" stroke-width="0.2">
<text x="334" y="950.3" text-anchor="middle">FL2-A PE-A</text>
<text x="494.1" y="950.3" text-anchor="end">(x 1000)</text>
<text transform="translate(137.3,743.6) rotate(-90)" text-anchor="middle">Number</text>
</g>
<path d="M281.7,907.6L276.9,915.9L286.5,915.9Z" fill="#000"/>
<g font-family='"Liberation Sans", sans-serif' font-size="8.6" fill="#1818ff" stroke="#1818ff" stroke-width="0.15">
<rect x="429.5" y="574" width="11" height="9.6" fill="#f40000" stroke="#111" stroke-width="0.9"/>
<text x="445.8" y="583.1">Dip G1</text>
<rect x="429.5" y="586.9" width="11" height="9.6" fill="#f40000" stroke="#111" stroke-width="0.9"/>
<text x="445.8" y="596">Dip G2</text>
<rect x="429.5" y="599.8" width="11" height="9.6" fill="url(#hatchL)" stroke="#111" stroke-width="0.9"/>
<path d="M429.8,600.1l10.4,9.2M437.1,600.2l3,2.6M429.9,606.4l3,2.6" stroke="#2020ff" stroke-width="0.9"/>
<text x="445.8" y="608.9">Dip S</text>
</g>
</g>
<g>
<path d="M674.9,908.1L675.7,908.1L676.5,908L677.3,908L678.1,908L678.9,907.9L679.7,907.8L680.5,907.7L681.3,907.5L682.1,907.3L682.9,907.1L683.7,906.7L684.5,906.2L685.3,905.6L686.1,904.8L686.9,903.8L687.7,902.5L688.5,900.9L689.3,898.9L690.1,896.5L690.9,893.5L691.7,890L692.5,885.7L693.3,880.7L694.1,874.9L694.9,868.1L695.7,860.3L696.5,851.5L697.3,841.6L698.1,830.6L698.9,818.5L699.7,805.4L700.5,791.3L701.3,776.3L702.1,760.6L702.9,744.4L703.7,727.9L704.5,711.3L705.3,694.9L706.1,679.1L706.9,664L707.7,650.1L708.5,637.6L709.3,626.8L710.1,617.9L710.9,611.2L711.7,606.8L712.5,604.8L713.3,605.3L714.1,608.2L714.9,613.5L715.7,621L716.5,630.6L717.3,642.1L718.1,655.2L718.9,669.6L719.7,685L720.5,701L721.3,717.5L722.1,734.1L722.9,750.5L723.7,766.6L724.5,782L725.3,796.7L726.1,810.4L726.9,823.2L727.7,834.9L728.5,845.5L729.3,855L730.1,863.4L730.9,870.8L731.7,877.2L732.5,882.7L733.3,887.4L734.1,891.4L734.9,894.7L735.7,897.5L736.5,899.7L737.3,901.5L738.1,903L738.9,904.2L739.7,905.1L740.5,905.8L741.3,906.4L742.1,906.8L742.9,907.2L743.7,907.4L744.5,907.6L745.3,907.7L746.1,907.8L746.9,907.9L747.7,908L748.5,908L749.3,908L750.1,908.1L750.9,908.1L750.9,908.1L674.9,908.1Z" fill="#f40000" stroke="#000" stroke-width="0.9" stroke-linejoin="round"/>
<path d="M782.1,908.1L782.9,908.1L783.7,908L784.5,908L785.3,908L786.1,908L786.9,908L787.7,908L788.5,908L789.3,907.9L790.1,907.9L790.9,907.9L791.7,907.9L792.5,907.8L793.3,907.8L794.1,907.8L794.9,907.7L795.7,907.7L796.5,907.6L797.3,907.6L798.1,907.5L798.9,907.5L799.7,907.4L800.5,907.3L801.3,907.2L802.1,907.1L802.9,907L803.7,907L804.5,906.8L805.3,906.7L806.1,906.6L806.9,906.5L807.7,906.4L808.5,906.3L809.3,906.1L810.1,906L810.9,905.9L811.7,905.7L812.5,905.6L813.3,905.4L814.1,905.3L814.9,905.2L815.7,905L816.5,904.9L817.3,904.8L818.1,904.6L818.9,904.5L819.7,904.4L820.5,904.3L821.3,904.2L822.1,904.1L822.9,904L823.7,904L824.5,903.9L825.3,903.8L826.1,903.8L826.9,903.8L827.7,903.8L828.5,903.8L829.3,903.8L830.1,903.8L830.9,903.8L831.7,903.9L832.5,903.9L833.3,904L834.1,904.1L834.9,904.2L835.7,904.3L836.5,904.4L837.3,904.5L838.1,904.6L838.9,904.8L839.7,904.9L840.5,905L841.3,905.2L842.1,905.3L842.9,905.4L843.7,905.6L844.5,905.7L845.3,905.8L846.1,906L846.9,906.1L847.7,906.2L848.5,906.4L849.3,906.5L850.1,906.6L850.9,906.7L851.7,906.8L852.5,906.9L853.3,907L854.1,907.1L854.9,907.2L855.7,907.3L856.5,907.4L857.3,907.4L858.1,907.5L858.9,907.6L859.7,907.6L860.5,907.7L861.3,907.7L862.1,907.8L862.9,907.8L863.7,907.8L864.5,907.9L865.3,907.9L866.1,907.9L866.9,907.9L867.7,908L868.5,908L869.3,908L870.1,908L870.9,908L871.7,908L872.5,908L873.3,908.1L874.1,908.1L874.1,908.1L782.1,908.1Z" fill="#f40000"/>
<path d="M696.5,908.1L697.3,908L698.1,908L698.9,907.9L699.7,907.7L700.5,907.6L701.3,907.4L702.1,907.2L702.9,907L703.7,906.8L704.5,906.6L705.3,906.3L706.1,905.9L706.9,905.5L707.7,905L708.5,904.4L709.3,903.8L710.1,903.2L710.9,902.6L711.7,902L712.5,901.2L713.3,900.4L714.1,899.6L714.9,898.7L715.7,897.9L716.5,897L717.3,896.3L718.1,895.5L718.9,894.8L719.7,894L720.5,893.3L721.3,892.6L722.1,891.9L722.9,891.3L723.7,890.7L724.5,890.2L725.3,889.8L726.1,889.3L726.9,888.9L727.7,888.5L728.5,888.1L729.3,887.8L730.1,887.5L730.9,887.3L731.7,887.2L732.5,887.1L733.3,887L734.1,886.9L734.9,886.9L735.7,886.8L736.5,886.8L737.3,886.7L738.1,886.7L738.9,886.7L739.7,886.7L740.5,886.7L741.3,886.7L742.1,886.7L742.9,886.7L743.7,886.7L744.5,886.7L745.3,886.7L746.1,886.7L746.9,886.7L747.7,886.7L748.5,886.7L749.3,886.7L750.1,886.7L750.9,886.7L751.7,886.7L752.5,886.7L753.3,886.7L754.1,886.7L754.9,886.7L755.7,886.7L756.5,886.7L757.3,886.7L758.1,886.7L758.9,886.7L759.7,886.7L760.5,886.7L761.3,886.7L762.1,886.7L762.9,886.7L763.7,886.7L764.5,886.7L765.3,886.7L766.1,886.7L766.9,886.7L767.7,886.7L768.5,886.7L769.3,886.7L770.1,886.7L770.9,886.7L771.7,886.7L772.5,886.7L773.3,886.7L774.1,886.7L774.9,886.7L775.7,886.7L776.5,886.7L777.3,886.7L778.1,886.7L778.9,886.7L779.7,886.7L780.5,886.7L781.3,886.7L782.1,886.7L782.9,886.7L783.7,886.7L784.5,886.7L785.3,886.7L786.1,886.7L786.9,886.7L787.7,886.8L788.5,886.8L789.3,886.8L790.1,886.8L790.9,886.8L791.7,886.8L792.5,886.8L793.3,886.8L794.1,886.8L794.9,886.8L795.7,886.8L796.5,886.8L797.3,886.8L798.1,886.8L798.9,886.8L799.7,886.8L800.5,886.9L801.3,886.9L802.1,886.9L802.9,886.9L803.7,886.9L804.5,886.9L805.3,886.9L806.1,886.9L806.9,886.9L807.7,886.9L808.5,887L809.3,887L810.1,887L810.9,887L811.7,887.1L812.5,887.2L813.3,887.4L814.1,887.7L814.9,887.9L815.7,888.2L816.5,888.6L817.3,888.9L818.1,889.3L818.9,889.7L819.7,890L820.5,890.4L821.3,890.8L822.1,891.1L822.9,891.5L823.7,891.9L824.5,892.4L825.3,892.8L826.1,893.3L826.9,893.8L827.7,894.3L828.5,894.8L829.3,895.2L830.1,895.7L830.9,896.2L831.7,896.7L832.5,897.2L833.3,897.7L834.1,898.2L834.9,898.8L835.7,899.3L836.5,899.8L837.3,900.3L838.1,900.8L838.9,901.3L839.7,901.8L840.5,902.2L841.3,902.6L842.1,903L842.9,903.4L843.7,903.8L844.5,904.1L845.3,904.5L846.1,904.8L846.9,905.2L847.7,905.5L848.5,905.8L849.3,906L850.1,906.2L850.9,906.5L851.7,906.7L852.5,906.9L853.3,907.1L854.1,907.2L854.9,907.4L855.7,907.6L856.5,907.7L857.3,907.8L858.1,907.9L858.9,908L859.7,908.1L859.7,908.1L696.5,908.1Z" fill="url(#hatch)" stroke="#000" stroke-width="0.9" stroke-linejoin="round"/>
<path d="M782.1,908.1L782.9,908.1L783.7,908L784.5,908L785.3,908L786.1,908L786.9,908L787.7,908L788.5,908L789.3,907.9L790.1,907.9L790.9,907.9L791.7,907.9L792.5,907.8L793.3,907.8L794.1,907.8L794.9,907.7L795.7,907.7L796.5,907.6L797.3,907.6L798.1,907.5L798.9,907.5L799.7,907.4L800.5,907.3L801.3,907.2L802.1,907.1L802.9,907L803.7,907L804.5,906.8L805.3,906.7L806.1,906.6L806.9,906.5L807.7,906.4L808.5,906.3L809.3,906.1L810.1,906L810.9,905.9L811.7,905.7L812.5,905.6L813.3,905.4L814.1,905.3L814.9,905.2L815.7,905L816.5,904.9L817.3,904.8L818.1,904.6L818.9,904.5L819.7,904.4L820.5,904.3L821.3,904.2L822.1,904.1L822.9,904L823.7,904L824.5,903.9L825.3,903.8L826.1,903.8L826.9,903.8L827.7,903.8L828.5,903.8L829.3,903.8L830.1,903.8L830.9,903.8L831.7,903.9L832.5,903.9L833.3,904L834.1,904.1L834.9,904.2L835.7,904.3L836.5,904.4L837.3,904.5L838.1,904.6L838.9,904.8L839.7,904.9L840.5,905L841.3,905.2L842.1,905.3L842.9,905.4L843.7,905.6L844.5,905.7L845.3,905.8L846.1,906L846.9,906.1L847.7,906.2L848.5,906.4L849.3,906.5L850.1,906.6L850.9,906.7L851.7,906.8L852.5,906.9L853.3,907L854.1,907.1L854.9,907.2L855.7,907.3L856.5,907.4L857.3,907.4L858.1,907.5L858.9,907.6L859.7,907.6L860.5,907.7L861.3,907.7L862.1,907.8L862.9,907.8L863.7,907.8L864.5,907.9L865.3,907.9L866.1,907.9L866.9,907.9L867.7,908L868.5,908L869.3,908L870.1,908L870.9,908L871.7,908L872.5,908L873.3,908.1L874.1,908.1" fill="none" stroke="#000" stroke-width="0.8" stroke-linejoin="round"/>
<path d="M676.5,908L677.3,908L678.1,908L678.9,907.9L679.7,907.8L680.5,907.7L681.3,907.5L682.1,907.3L682.9,907.1L683.7,906.7L684.5,906.2L685.3,905.6L686.1,904.8L686.9,903.8L687.7,902.5L688.5,900.9L689.3,898.9L690.1,896.5L690.9,893.5L691.7,890L692.5,885.7L693.3,880.7L694.1,874.9L694.9,868.1L695.7,860.3L696.5,851.5L697.3,841.6L698.1,830.5L698.9,818.3L699.7,805L700.5,790.8L701.3,775.6L702.1,759.8L702.9,743.3L703.7,726.6L704.5,709.8L705.3,693.1L706.1,676.9L706.9,661.4L707.7,647L708.5,633.9L709.3,622.5L710.1,613.1L710.9,605.8L711.7,600.7L712.5,598L713.3,597.6L714.1,599.7L714.9,604.1L715.7,610.8L716.5,619.6L717.3,630.3L718.1,642.6L718.9,656.2L719.7,670.9L720.5,686.2L721.3,702L722.1,717.9L722.9,733.7L723.7,749.2L724.5,764.2L725.3,778.4L726.1,791.7L726.9,804L727.7,815.3L728.5,825.5L729.3,834.6L730.1,842.8L730.9,850L731.7,856.3L732.5,861.7L733.3,866.3L734.1,870.2L734.9,873.5L735.7,876.2L736.5,878.4L737.3,880.2L738.1,881.6L738.9,882.8L739.7,883.7L740.5,884.5L741.3,885L742.1,885.5L742.9,885.8L743.7,886L744.5,886.2L745.3,886.4L746.1,886.5L746.9,886.5L747.7,886.6L748.5,886.6L749.3,886.7L750.1,886.7L750.9,886.7L751.7,886.7L752.5,886.7L753.3,886.7L754.1,886.7L754.9,886.7L755.7,886.7L756.5,886.7L757.3,886.7L758.1,886.7L758.9,886.7L759.7,886.7L760.5,886.7L761.3,886.7L762.1,886.7L762.9,886.7L763.7,886.7L764.5,886.7L765.3,886.7L766.1,886.7L766.9,886.7L767.7,886.7L768.5,886.7L769.3,886.7L770.1,886.7L770.9,886.7L771.7,886.7L772.5,886.7L773.3,886.7L774.1,886.7L774.9,886.7L775.7,886.7L776.5,886.7L777.3,886.7L778.1,886.7L778.9,886.7L779.7,886.7L780.5,886.7L781.3,886.7L782.1,886.7L782.9,886.7L783.7,886.7L784.5,886.7L785.3,886.7L786.1,886.7L786.9,886.6L787.7,886.6L788.5,886.6L789.3,886.6L790.1,886.6L790.9,886.6L791.7,886.5L792.5,886.5L793.3,886.5L794.1,886.5L794.9,886.4L795.7,886.4L796.5,886.3L797.3,886.3L798.1,886.2L798.9,886.2L799.7,886.1L800.5,886.1L801.3,886L802.1,885.9L802.9,885.8L803.7,885.7L804.5,885.6L805.3,885.6L806.1,885.4L806.9,885.3L807.7,885.2L808.5,885.1L809.3,885L810.1,884.9L810.9,884.8L811.7,884.7L812.5,884.7L813.3,884.8L814.1,884.9L814.9,885L815.7,885.2L816.5,885.4L817.3,885.6L818.1,885.8L818.9,886.1L819.7,886.3L820.5,886.6L821.3,886.9L822.1,887.1L822.9,887.4L823.7,887.8L824.5,888.2L825.3,888.6L826.1,889L826.9,889.5L827.7,889.9L828.5,890.4L829.3,890.9L830.1,891.4L830.9,891.9L831.7,892.5L832.5,893L833.3,893.6L834.1,894.2L834.9,894.9L835.7,895.5L836.5,896.1L837.3,896.8L838.1,897.4L838.9,898L839.7,898.5L840.5,899.1L841.3,899.6L842.1,900.2L842.9,900.7L843.7,901.2L844.5,901.8L845.3,902.3L846.1,902.7L846.9,903.2L847.7,903.6L848.5,904L849.3,904.4L850.1,904.8L850.9,905.1L851.7,905.4L852.5,905.7L853.3,906L854.1,906.3L854.9,906.5L855.7,906.8L856.5,907L857.3,907.2L858.1,907.4L858.9,907.5L859.7,907.6L860.5,907.7L861.3,907.7L862.1,907.8L862.9,907.8L863.7,907.8L864.5,907.9L865.3,907.9L866.1,907.9L866.9,907.9L867.7,908L868.5,908L869.3,908L870.1,908L870.9,908" fill="none" stroke="#111" stroke-width="0.9" stroke-linejoin="round"/>
<path d="M676.5,908L677.3,908L678.1,908L678.9,907.9L679.7,907.8L680.5,907.7L681.3,907.5L682.1,907.3L682.9,907.1L683.7,906.7L684.5,906.2L685.3,905.6L686.1,904.8L686.9,903.8L687.7,902.5L688.5,900.9L689.3,898.9L690.1,896.5L690.9,893.5L691.7,890L692.5,885.7L693.3,880.7L694.1,874.9L694.9,868.1L695.7,860.3L696.5,851.5L697.3,841.6L698.1,830.5L698.9,818.3L699.7,805L700.5,790.8L701.3,775.6L702.1,759.8L702.9,743.3L703.7,726.6L704.5,709.8L705.3,693.1L706.1,676.9L706.9,661.4L707.7,647L708.5,633.9L709.3,622.5L710.1,613.1L710.9,605.8L711.7,600.7L712.5,598L713.3,597.6L714.1,599.7L714.9,604.1L715.7,610.8L716.5,619.6L717.3,630.3L718.1,642.6L718.9,656.2L719.7,670.9L720.5,686.2L721.3,702L722.1,717.9L722.9,733.7L723.7,749.2L724.5,764.2L725.3,778.4L726.1,791.7L726.9,804L727.7,815.3L728.5,825.5L729.3,834.6L730.1,842.8L730.9,850L731.7,856.3L732.5,861.7L733.3,866.3L734.1,870.2L734.9,873.5L735.7,876.2L736.5,878.4L737.3,880.2L738.1,881.6L738.9,882.8L739.7,883.7L740.5,884.5L741.3,885L742.1,885.5L742.9,885.8L743.7,886L744.5,886.2L745.3,886.4L746.1,886.5L746.9,886.5L747.7,886.6L748.5,886.6L749.3,886.7L750.1,886.7L750.9,886.7L751.7,886.7L752.5,886.7L753.3,886.7L754.1,886.7L754.9,886.7L755.7,886.7L756.5,886.7L757.3,886.7L758.1,886.7L758.9,886.7L759.7,886.7L760.5,886.7L761.3,886.7L762.1,886.7L762.9,886.7L763.7,886.7L764.5,886.7L765.3,886.7L766.1,886.7L766.9,886.7L767.7,886.7L768.5,886.7L769.3,886.7L770.1,886.7L770.9,886.7L771.7,886.7L772.5,886.7L773.3,886.7L774.1,886.7L774.9,886.7L775.7,886.7L776.5,886.7L777.3,886.7L778.1,886.7L778.9,886.7L779.7,886.7L780.5,886.7L781.3,886.7L782.1,886.7L782.9,886.7L783.7,886.7L784.5,886.7L785.3,886.7L786.1,886.7L786.9,886.6L787.7,886.6L788.5,886.6L789.3,886.6L790.1,886.6L790.9,886.6L791.7,886.5L792.5,886.5L793.3,886.5L794.1,886.4L794.9,886.4L795.7,886.3L796.5,886.3L797.3,886.2L798.1,886.2L798.9,886.1L799.7,886L800.5,885.9L801.3,885.8L802.1,885.7L802.9,885.6L803.7,885.5L804.5,885.4L805.3,885.2L806.1,885.1L806.9,884.9L807.7,884.8L808.5,884.6L809.3,884.4L810.1,884.2L810.9,884L811.7,883.9L812.5,883.8L813.3,883.8L814.1,883.8L814.9,883.8L815.7,883.9L816.5,884L817.3,884.1L818.1,884.3L818.9,884.4L819.7,884.6L820.5,884.8L821.3,885L822.1,885.2L822.9,885.4L823.7,885.7L824.5,886L825.3,886.4L826.1,886.8L826.9,887.3L827.7,887.8L828.5,888.3L829.3,888.8L830.1,889.4L830.9,889.9L831.7,890.5L832.5,891.2L833.3,891.8L834.1,892.5L834.9,893.2L835.7,893.9L836.5,894.7L837.3,895.4L838.1,896.1L838.9,896.8L839.7,897.5L840.5,898.1L841.3,898.7L842.1,899.4L842.9,900L843.7,900.6L844.5,901.2L845.3,901.7L846.1,902.3L846.9,902.8L847.7,903.3L848.5,903.7L849.3,904.2L850.1,904.5L850.9,904.9L851.7,905.2L852.5,905.6L853.3,905.9L854.1,906.2L854.9,906.4L855.7,906.7L856.5,906.9L857.3,907.1L858.1,907.3L858.9,907.5L859.7,907.6L860.5,907.7L861.3,907.7L862.1,907.8L862.9,907.8L863.7,907.8L864.5,907.9L865.3,907.9L866.1,907.9L866.9,907.9L867.7,908L868.5,908L869.3,908L870.1,908L870.9,908" fill="none" stroke="#222" stroke-width="0.8" stroke-linejoin="round"/>
<path d="M674.9,908.1L676.5,908L678.1,908L679.7,907.5L681.3,907.1L682.9,906L684.5,904.4L686.1,900.3L687.7,898L689.3,893L690.9,887.8L692.5,879L694.1,872.5L695.7,860L697.3,838.5L698.9,814L700.5,788.4L702.1,767.3L703.7,731.3L705.3,698.9L706.9,668.3L708.5,636.4L710.1,603.7L711.7,602.7L713.3,602.3L714.9,599.7L716.5,619.2L718.1,641.9L719.7,674.7L721.3,702L722.9,731.6L724.5,771.5L726.1,797.9L727.7,811.1L729.3,831.2L730.9,849.7L732.5,861.2L734.1,865.7L735.7,872L737.3,872.9L738.9,871.7L740.5,877.3L742.1,878.2L743.7,883.2L745.3,884L746.9,883.3L748.5,888.6L750.1,887.2L751.7,886.9L753.3,886.2L754.9,884.2L756.5,885.6L758.1,889.2L759.7,887.2L761.3,888.2L762.9,888.3L764.5,884.2L766.1,888.5L767.7,886.3L769.3,887.9L770.9,885.3L772.5,886.1L774.1,886.5L775.7,886.8L777.3,884.8L778.9,888.3L780.5,887.9L782.1,888.6L783.7,884.4L785.3,887.1L786.9,888.3L788.5,887.1L790.1,883.7L791.7,886.2L793.3,884.3L794.9,884.5L796.5,884.8L798.1,885.3L799.7,883.9L801.3,883L802.9,884.6L804.5,877.6L806.1,877.8L807.7,878.6L809.3,878.7L810.9,879.6L812.5,876.3L814.1,879.1L815.7,878.8L817.3,883.5L818.9,881.4L820.5,880.7L822.1,885.2L823.7,884.6L825.3,887.2L826.9,886.8L828.5,885L830.1,885.2L831.7,888.1L833.3,888.3L834.9,891.7L836.5,892L838.1,894.2L839.7,893.6L841.3,897.5L842.9,895.5L844.5,897.7L846.1,898.3L847.7,899.9L849.3,901L850.9,897.8L852.5,904.1L854.1,904.7L855.7,904.4L857.3,901.7L858.9,902.8L860.5,904.4L862.1,902.4L863.7,902.4L865.3,905.5L866.9,904.5L868.5,902.9L870.1,902.5L871.7,906.2L873.3,903.3L874.9,904.9L876.5,906.4L878.1,905.1L879.7,906L881.3,905.9L882.9,906.6L884.5,905.4L886.1,904.1L887.7,905.4L889.3,907.1L890.9,907L892.5,906.4L894.1,907.2L895.7,906.4L897.3,906.8L898.9,907.6L900.5,907.2L902.1,906.7L903.7,907.5L905.3,906.7L906.9,905.9L908.5,907.3L910.1,908.1" fill="none" stroke="#1a1a1a" stroke-width="0.8" stroke-linejoin="round"/>
<g stroke="#1c1c1c" stroke-width="1.15" fill="none">
<path d="M594.9,583.3V908.1"/>
<path d="M581.2,908.1H594.9M587.9,894.6H594.9M587.9,881H594.9M587.9,867.5H594.9M581.2,854H594.9M587.9,840.4H594.9M587.9,826.9H594.9M587.9,813.4H594.9M581.2,799.8H594.9M587.9,786.3H594.9M587.9,772.8H594.9M587.9,759.2H594.9M581.2,745.7H594.9M587.9,732.2H594.9M587.9,718.6H594.9M587.9,705.1H594.9M581.2,691.6H594.9M587.9,678H594.9M587.9,664.5H594.9M587.9,651H594.9M581.2,637.4H594.9M587.9,623.9H594.9M587.9,610.4H594.9M587.9,596.8H594.9M581.2,583.3H594.9"/>
</g>
<path d="M581.2,908.1H680.5M868.9,908.1H915.9" stroke="#000" stroke-width="1.8"/>
<path d="M680.5,908.6H868.9" stroke="#555" stroke-width="1"/>
<path d="M594.9,908.1V922.1M663.1,908.1V922.1M731.3,908.1V922.1M799.5,908.1V922.1M867.7,908.1V922.1" stroke="#000" stroke-width="1.25"/>
<path d="M608.5,908.1V914.9M622.2,908.1V914.9M635.8,908.1V914.9M649.5,908.1V914.9M676.7,908.1V914.9M690.4,908.1V914.9M704,908.1V914.9M717.7,908.1V914.9M744.9,908.1V914.9M758.6,908.1V914.9M772.2,908.1V914.9M785.9,908.1V914.9M813.1,908.1V914.9M826.8,908.1V914.9M840.4,908.1V914.9M854.1,908.1V914.9M881.3,908.1V914.9M895,908.1V914.9M908.6,908.1V914.9" stroke="#111" stroke-width="1.1"/>
<g font-family='"Liberation Sans", sans-serif' font-size="10.3" fill="#111" stroke="#111" stroke-width="0.2" text-anchor="middle">
<text x="594.9" y="935.5">0</text>
<text x="663.1" y="935.5">500</text>
<text x="731.3" y="935.5">1000</text>
<text x="799.5" y="935.5">1500</text>
<text x="867.7" y="935.5">2000</text>
<text transform="translate(575.4,908.1) rotate(-90)">0</text>
<text transform="translate(575.4,854) rotate(-90)">200</text>
<text transform="translate(575.4,799.8) rotate(-90)">400</text>
<text transform="translate(575.4,745.7) rotate(-90)">600</text>
<text transform="translate(575.4,691.6) rotate(-90)">800</text>
<text transform="translate(575.4,637.4) rotate(-90)">1000</text>
<text transform="translate(575.4,583.3) rotate(-90)">1200</text>
</g>
<g font-family='"Liberation Sans", sans-serif' font-size="11" fill="#111" stroke="#111" stroke-width="0.2">
<text x="756" y="952.1" text-anchor="middle">FL2-A PE-A</text>
<text x="915.4" y="952.1" text-anchor="end">(x 1000)</text>
<text transform="translate(559,745.7) rotate(-90)" text-anchor="middle">Number</text>
</g>
<path d="M712.7,909.4L707.9,917.7L717.5,917.7Z" fill="#000"/>
<g font-family='"Liberation Sans", sans-serif' font-size="8.6" fill="#1818ff" stroke="#1818ff" stroke-width="0.15">
<rect x="851.5" y="576" width="11" height="9.6" fill="#f40000" stroke="#111" stroke-width="0.9"/>
<text x="867.8" y="585.1">Dip G1</text>
<rect x="851.5" y="588.9" width="11" height="9.6" fill="#f40000" stroke="#111" stroke-width="0.9"/>
<text x="867.8" y="598">Dip G2</text>
<rect x="851.5" y="601.8" width="11" height="9.6" fill="url(#hatchL)" stroke="#111" stroke-width="0.9"/>
<path d="M851.8,602.1l10.4,9.2M859.1,602.2l3,2.6M851.9,608.4l3,2.6" stroke="#2020ff" stroke-width="0.9"/>
<text x="867.8" y="610.9">Dip S</text>
</g>
</g>
<g>
<path d="M1102.1,908L1102.9,908L1103.7,908L1104.5,907.9L1105.3,907.8L1106.1,907.7L1106.9,907.6L1107.7,907.5L1108.5,907.3L1109.3,907L1110.1,906.7L1110.9,906.4L1111.7,905.9L1112.5,905.3L1113.3,904.5L1114.1,903.7L1114.9,902.6L1115.7,901.3L1116.5,899.7L1117.3,897.9L1118.1,895.7L1118.9,893.2L1119.7,890.2L1120.5,886.9L1121.3,883L1122.1,878.6L1122.9,873.6L1123.7,868.1L1124.5,862L1125.3,855.3L1126.1,847.9L1126.9,840L1127.7,831.5L1128.5,822.5L1129.3,813L1130.1,803.1L1130.9,792.9L1131.7,782.5L1132.5,772.1L1133.3,761.6L1134.1,751.4L1134.9,741.5L1135.7,732L1136.5,723.2L1137.3,715.1L1138.1,708L1138.9,701.8L1139.7,696.8L1140.5,693L1141.3,690.6L1142.1,689.4L1142.9,689.6L1143.7,691.2L1144.5,694.1L1145.3,698.3L1146.1,703.7L1146.9,710.1L1147.7,717.6L1148.5,725.9L1149.3,735L1150.1,744.6L1150.9,754.6L1151.7,765L1152.5,775.4L1153.3,785.9L1154.1,796.2L1154.9,806.3L1155.7,816.1L1156.5,825.4L1157.3,834.3L1158.1,842.6L1158.9,850.4L1159.7,857.5L1160.5,864L1161.3,870L1162.1,875.3L1162.9,880.1L1163.7,884.3L1164.5,888L1165.3,891.2L1166.1,894L1166.9,896.5L1167.7,898.5L1168.5,900.3L1169.3,901.7L1170.1,902.9L1170.9,904L1171.7,904.8L1172.5,905.5L1173.3,906L1174.1,906.5L1174.9,906.8L1175.7,907.1L1176.5,907.4L1177.3,907.5L1178.1,907.7L1178.9,907.8L1179.7,907.9L1180.5,907.9L1181.3,908L1182.1,908L1182.1,908.1L1102.1,908.1Z" fill="#f40000" stroke="#000" stroke-width="0.9" stroke-linejoin="round"/>
<path d="M1218.1,908L1218.9,908L1219.7,908L1220.5,908L1221.3,907.9L1222.1,907.9L1222.9,907.9L1223.7,907.8L1224.5,907.8L1225.3,907.8L1226.1,907.7L1226.9,907.7L1227.7,907.6L1228.5,907.5L1229.3,907.4L1230.1,907.4L1230.9,907.3L1231.7,907.2L1232.5,907.1L1233.3,906.9L1234.1,906.8L1234.9,906.7L1235.7,906.5L1236.5,906.3L1237.3,906.1L1238.1,905.9L1238.9,905.7L1239.7,905.5L1240.5,905.3L1241.3,905L1242.1,904.8L1242.9,904.5L1243.7,904.2L1244.5,903.9L1245.3,903.6L1246.1,903.3L1246.9,902.9L1247.7,902.6L1248.5,902.2L1249.3,901.9L1250.1,901.5L1250.9,901.2L1251.7,900.8L1252.5,900.5L1253.3,900.1L1254.1,899.8L1254.9,899.4L1255.7,899.1L1256.5,898.8L1257.3,898.5L1258.1,898.2L1258.9,897.9L1259.7,897.7L1260.5,897.4L1261.3,897.2L1262.1,897.1L1262.9,896.9L1263.7,896.8L1264.5,896.7L1265.3,896.6L1266.1,896.6L1266.9,896.6L1267.7,896.6L1268.5,896.7L1269.3,896.8L1270.1,896.9L1270.9,897L1271.7,897.2L1272.5,897.4L1273.3,897.6L1274.1,897.8L1274.9,898.1L1275.7,898.4L1276.5,898.7L1277.3,899L1278.1,899.3L1278.9,899.7L1279.7,900L1280.5,900.4L1281.3,900.7L1282.1,901.1L1282.9,901.4L1283.7,901.8L1284.5,902.1L1285.3,902.5L1286.1,902.8L1286.9,903.2L1287.7,903.5L1288.5,903.8L1289.3,904.1L1290.1,904.4L1290.9,904.7L1291.7,904.9L1292.5,905.2L1293.3,905.4L1294.1,905.7L1294.9,905.9L1295.7,906.1L1296.5,906.3L1297.3,906.4L1298.1,906.6L1298.9,906.8L1299.7,906.9L1300.5,907L1301.3,907.1L1302.1,907.2L1302.9,907.3L1303.7,907.4L1304.5,907.5L1305.3,907.6L1306.1,907.6L1306.9,907.7L1307.7,907.7L1308.5,907.8L1309.3,907.8L1310.1,907.9L1310.9,907.9L1311.7,907.9L1312.5,907.9L1313.3,908L1314.1,908L1314.9,908L1314.9,908.1L1218.1,908.1Z" fill="#f40000"/>
<path d="M1118.9,908.1L1119.7,908L1120.5,907.9L1121.3,907.7L1122.1,907.4L1122.9,907.1L1123.7,906.7L1124.5,906.3L1125.3,905.8L1126.1,905.3L1126.9,904.8L1127.7,904.2L1128.5,903.6L1129.3,902.6L1130.1,901.5L1130.9,900.1L1131.7,898.5L1132.5,896.7L1133.3,894.9L1134.1,893L1134.9,891.1L1135.7,889.3L1136.5,887.3L1137.3,885.2L1138.1,883L1138.9,880.6L1139.7,878.2L1140.5,875.6L1141.3,873.1L1142.1,870.6L1142.9,868.1L1143.7,865.6L1144.5,863.1L1145.3,860.4L1146.1,857.7L1146.9,855L1147.7,852.2L1148.5,849.6L1149.3,847.1L1150.1,844.8L1150.9,842.7L1151.7,840.9L1152.5,839.1L1153.3,837.4L1154.1,835.7L1154.9,834.1L1155.7,832.6L1156.5,831.2L1157.3,830.1L1158.1,829.1L1158.9,828.3L1159.7,827.8L1160.5,827.2L1161.3,826.7L1162.1,826.3L1162.9,825.9L1163.7,825.5L1164.5,825.2L1165.3,825L1166.1,824.8L1166.9,824.8L1167.7,824.8L1168.5,824.8L1169.3,824.8L1170.1,824.8L1170.9,824.8L1171.7,824.8L1172.5,824.8L1173.3,824.8L1174.1,824.8L1174.9,824.8L1175.7,824.8L1176.5,824.8L1177.3,824.8L1178.1,824.8L1178.9,824.8L1179.7,824.8L1180.5,824.8L1181.3,824.8L1182.1,824.8L1182.9,824.8L1183.7,824.8L1184.5,824.8L1185.3,824.8L1186.1,824.8L1186.9,824.8L1187.7,824.8L1188.5,824.8L1189.3,824.8L1190.1,824.8L1190.9,824.8L1191.7,824.8L1192.5,824.8L1193.3,824.8L1194.1,824.8L1194.9,824.8L1195.7,824.8L1196.5,824.8L1197.3,824.8L1198.1,824.8L1198.9,824.8L1199.7,824.8L1200.5,824.8L1201.3,824.8L1202.1,824.8L1202.9,824.8L1203.7,824.8L1204.5,824.8L1205.3,824.8L1206.1,824.8L1206.9,824.8L1207.7,824.8L1208.5,824.8L1209.3,824.8L1210.1,824.8L1210.9,824.8L1211.7,824.8L1212.5,824.8L1213.3,824.8L1214.1,824.8L1214.9,824.8L1215.7,824.8L1216.5,824.8L1217.3,824.8L1218.1,824.8L1218.9,824.8L1219.7,824.8L1220.5,824.8L1221.3,824.8L1222.1,824.8L1222.9,824.8L1223.7,824.8L1224.5,824.8L1225.3,824.8L1226.1,824.8L1226.9,824.8L1227.7,824.8L1228.5,824.8L1229.3,824.8L1230.1,824.8L1230.9,824.9L1231.7,825L1232.5,825.1L1233.3,825.2L1234.1,825.4L1234.9,825.6L1235.7,825.8L1236.5,826L1237.3,826.3L1238.1,826.5L1238.9,826.8L1239.7,827.1L1240.5,827.4L1241.3,827.6L1242.1,828L1242.9,828.3L1243.7,828.7L1244.5,829.2L1245.3,829.6L1246.1,830.2L1246.9,830.7L1247.7,831.3L1248.5,831.9L1249.3,832.5L1250.1,833.2L1250.9,833.9L1251.7,834.6L1252.5,835.4L1253.3,836.2L1254.1,837.1L1254.9,838.1L1255.7,839.2L1256.5,840.4L1257.3,841.6L1258.1,842.8L1258.9,844.1L1259.7,845.5L1260.5,846.9L1261.3,848.3L1262.1,849.7L1262.9,851.2L1263.7,852.7L1264.5,854.1L1265.3,855.6L1266.1,857.3L1266.9,859L1267.7,860.9L1268.5,862.8L1269.3,864.8L1270.1,866.9L1270.9,868.9L1271.7,870.9L1272.5,873L1273.3,874.9L1274.1,876.8L1274.9,878.7L1275.7,880.4L1276.5,882L1277.3,883.5L1278.1,884.8L1278.9,886.1L1279.7,887.4L1280.5,888.7L1281.3,889.9L1282.1,891.2L1282.9,892.3L1283.7,893.5L1284.5,894.5L1285.3,895.6L1286.1,896.6L1286.9,897.5L1287.7,898.4L1288.5,899.2L1289.3,899.9L1290.1,900.6L1290.9,901.2L1291.7,901.9L1292.5,902.5L1293.3,903.1L1294.1,903.7L1294.9,904.2L1295.7,904.8L1296.5,905.3L1297.3,905.7L1298.1,906.2L1298.9,906.6L1299.7,907L1300.5,907.3L1301.3,907.6L1302.1,907.8L1302.9,908L1303.7,908.1L1303.7,908.1L1118.9,908.1Z" fill="url(#hatch)" stroke="#000" stroke-width="0.9" stroke-linejoin="round"/>
<path d="M1218.1,908L1218.9,908L1219.7,908L1220.5,908L1221.3,907.9L1222.1,907.9L1222.9,907.9L1223.7,907.8L1224.5,907.8L1225.3,907.8L1226.1,907.7L1226.9,907.7L1227.7,907.6L1228.5,907.5L1229.3,907.4L1230.1,907.4L1230.9,907.3L1231.7,907.2L1232.5,907.1L1233.3,906.9L1234.1,906.8L1234.9,906.7L1235.7,906.5L1236.5,906.3L1237.3,906.1L1238.1,905.9L1238.9,905.7L1239.7,905.5L1240.5,905.3L1241.3,905L1242.1,904.8L1242.9,904.5L1243.7,904.2L1244.5,903.9L1245.3,903.6L1246.1,903.3L1246.9,902.9L1247.7,902.6L1248.5,902.2L1249.3,901.9L1250.1,901.5L1250.9,901.2L1251.7,900.8L1252.5,900.5L1253.3,900.1L1254.1,899.8L1254.9,899.4L1255.7,899.1L1256.5,898.8L1257.3,898.5L1258.1,898.2L1258.9,897.9L1259.7,897.7L1260.5,897.4L1261.3,897.2L1262.1,897.1L1262.9,896.9L1263.7,896.8L1264.5,896.7L1265.3,896.6L1266.1,896.6L1266.9,896.6L1267.7,896.6L1268.5,896.7L1269.3,896.8L1270.1,896.9L1270.9,897L1271.7,897.2L1272.5,897.4L1273.3,897.6L1274.1,897.8L1274.9,898.1L1275.7,898.4L1276.5,898.7L1277.3,899L1278.1,899.3L1278.9,899.7L1279.7,900L1280.5,900.4L1281.3,900.7L1282.1,901.1L1282.9,901.4L1283.7,901.8L1284.5,902.1L1285.3,902.5L1286.1,902.8L1286.9,903.2L1287.7,903.5L1288.5,903.8L1289.3,904.1L1290.1,904.4L1290.9,904.7L1291.7,904.9L1292.5,905.2L1293.3,905.4L1294.1,905.7L1294.9,905.9L1295.7,906.1L1296.5,906.3L1297.3,906.4L1298.1,906.6L1298.9,906.8L1299.7,906.9L1300.5,907L1301.3,907.1L1302.1,907.2L1302.9,907.3L1303.7,907.4L1304.5,907.5L1305.3,907.6L1306.1,907.6L1306.9,907.7L1307.7,907.7L1308.5,907.8L1309.3,907.8L1310.1,907.9L1310.9,907.9L1311.7,907.9L1312.5,907.9L1313.3,908L1314.1,908L1314.9,908" fill="none" stroke="#000" stroke-width="0.8" stroke-linejoin="round"/>
<path d="M1104.5,907.9L1105.3,907.8L1106.1,907.7L1106.9,907.6L1107.7,907.5L1108.5,907.3L1109.3,907L1110.1,906.7L1110.9,906.4L1111.7,905.9L1112.5,905.3L1113.3,904.5L1114.1,903.7L1114.9,902.6L1115.7,901.3L1116.5,899.7L1117.3,897.9L1118.1,895.7L1118.9,893.2L1119.7,890.2L1120.5,886.7L1121.3,882.6L1122.1,877.9L1122.9,872.6L1123.7,866.7L1124.5,860.2L1125.3,853L1126.1,845.1L1126.9,836.7L1127.7,827.6L1128.5,818L1129.3,807.5L1130.1,796.5L1130.9,784.9L1131.7,772.9L1132.5,760.7L1133.3,748.5L1134.1,736.3L1134.9,724.5L1135.7,713.2L1136.5,702.4L1137.3,692.2L1138.1,682.8L1138.9,674.3L1139.7,666.9L1140.5,660.6L1141.3,655.6L1142.1,651.9L1142.9,649.6L1143.7,648.7L1144.5,649.1L1145.3,650.6L1146.1,653.3L1146.9,657L1147.7,661.8L1148.5,667.5L1149.3,674L1150.1,681.3L1150.9,689.3L1151.7,697.8L1152.5,706.4L1153.3,715.2L1154.1,723.8L1154.9,732.3L1155.7,740.6L1156.5,748.6L1157.3,756.3L1158.1,763.6L1158.9,770.6L1159.7,777.2L1160.5,783.2L1161.3,788.6L1162.1,793.5L1162.9,797.8L1163.7,801.7L1164.5,805.1L1165.3,808.1L1166.1,810.8L1166.9,813.1L1167.7,815.2L1168.5,817L1169.3,818.4L1170.1,819.6L1170.9,820.7L1171.7,821.5L1172.5,822.2L1173.3,822.7L1174.1,823.2L1174.9,823.5L1175.7,823.8L1176.5,824L1177.3,824.2L1178.1,824.4L1178.9,824.5L1179.7,824.5L1180.5,824.6L1181.3,824.7L1182.1,824.7L1182.9,824.7L1183.7,824.7L1184.5,824.8L1185.3,824.8L1186.1,824.8L1186.9,824.8L1187.7,824.8L1188.5,824.8L1189.3,824.8L1190.1,824.8L1190.9,824.8L1191.7,824.8L1192.5,824.8L1193.3,824.8L1194.1,824.8L1194.9,824.8L1195.7,824.8L1196.5,824.8L1197.3,824.8L1198.1,824.8L1198.9,824.8L1199.7,824.8L1200.5,824.8L1201.3,824.8L1202.1,824.8L1202.9,824.8L1203.7,824.8L1204.5,824.8L1205.3,824.8L1206.1,824.8L1206.9,824.8L1207.7,824.8L1208.5,824.8L1209.3,824.8L1210.1,824.8L1210.9,824.8L1211.7,824.8L1212.5,824.8L1213.3,824.8L1214.1,824.8L1214.9,824.7L1215.7,824.7L1216.5,824.7L1217.3,824.7L1218.1,824.7L1218.9,824.7L1219.7,824.7L1220.5,824.6L1221.3,824.6L1222.1,824.6L1222.9,824.6L1223.7,824.5L1224.5,824.5L1225.3,824.5L1226.1,824.4L1226.9,824.3L1227.7,824.3L1228.5,824.2L1229.3,824.1L1230.1,824.1L1230.9,824L1231.7,824L1232.5,824L1233.3,824.1L1234.1,824.1L1234.9,824.1L1235.7,824.2L1236.5,824.3L1237.3,824.3L1238.1,824.4L1238.9,824.4L1239.7,824.5L1240.5,824.5L1241.3,824.6L1242.1,824.6L1242.9,824.7L1243.7,824.8L1244.5,825L1245.3,825.1L1246.1,825.3L1246.9,825.5L1247.7,825.8L1248.5,826L1249.3,826.3L1250.1,826.7L1250.9,827L1251.7,827.3L1252.5,827.7L1253.3,828.2L1254.1,828.8L1254.9,829.5L1255.7,830.2L1256.5,831L1257.3,831.9L1258.1,832.9L1258.9,833.9L1259.7,835L1260.5,836.2L1261.3,837.4L1262.1,838.7L1262.9,840L1263.7,841.3L1264.5,842.7L1265.3,844.2L1266.1,845.8L1266.9,847.5L1267.7,849.4L1268.5,851.4L1269.3,853.5L1270.1,855.6L1270.9,857.8L1271.7,860L1272.5,862.2L1273.3,864.4L1274.1,866.6L1274.9,868.7L1275.7,870.7L1276.5,872.6L1277.3,874.4L1278.1,876L1278.9,877.7L1279.7,879.3L1280.5,881L1281.3,882.6L1282.1,884.1L1282.9,885.7L1283.7,887.1L1284.5,888.6L1285.3,890L1286.1,891.3L1286.9,892.6L1287.7,893.8L1288.5,894.9L1289.3,895.9L1290.1,896.9L1290.9,897.8L1291.7,898.7L1292.5,899.6L1293.3,900.4L1294.1,901.2L1294.9,902L1295.7,902.7L1296.5,903.4L1297.3,904.1L1298.1,904.7L1298.9,905.3L1299.7,905.8L1300.5,906.2L1301.3,906.6L1302.1,907L1302.9,907.3L1303.7,907.4L1304.5,907.5L1305.3,907.6L1306.1,907.6L1306.9,907.7L1307.7,907.7L1308.5,907.8L1309.3,907.8L1310.1,907.9L1310.9,907.9" fill="none" stroke="#111" stroke-width="0.9" stroke-linejoin="round"/>
<path d="M1104.5,907.9L1105.3,907.8L1106.1,907.7L1106.9,907.6L1107.7,907.5L1108.5,907.3L1109.3,907L1110.1,906.7L1110.9,906.4L1111.7,905.9L1112.5,905.3L1113.3,904.5L1114.1,903.7L1114.9,902.6L1115.7,901.3L1116.5,899.7L1117.3,897.9L1118.1,895.7L1118.9,893.2L1119.7,890.2L1120.5,886.7L1121.3,882.6L1122.1,877.9L1122.9,872.6L1123.7,866.7L1124.5,860.2L1125.3,853L1126.1,845.1L1126.9,836.7L1127.7,827.6L1128.5,818L1129.3,807.5L1130.1,796.5L1130.9,784.9L1131.7,772.9L1132.5,760.7L1133.3,748.5L1134.1,736.3L1134.9,724.5L1135.7,713.2L1136.5,702.4L1137.3,692.2L1138.1,682.8L1138.9,674.3L1139.7,666.9L1140.5,660.6L1141.3,655.6L1142.1,651.9L1142.9,649.6L1143.7,648.7L1144.5,649.1L1145.3,650.6L1146.1,653.3L1146.9,657L1147.7,661.8L1148.5,667.5L1149.3,674L1150.1,681.3L1150.9,689.3L1151.7,697.8L1152.5,706.4L1153.3,715.2L1154.1,723.8L1154.9,732.3L1155.7,740.6L1156.5,748.6L1157.3,756.3L1158.1,763.6L1158.9,770.6L1159.7,777.2L1160.5,783.2L1161.3,788.6L1162.1,793.5L1162.9,797.8L1163.7,801.7L1164.5,805.1L1165.3,808.1L1166.1,810.8L1166.9,813.1L1167.7,815.2L1168.5,817L1169.3,818.4L1170.1,819.6L1170.9,820.7L1171.7,821.5L1172.5,822.2L1173.3,822.7L1174.1,823.2L1174.9,823.5L1175.7,823.8L1176.5,824L1177.3,824.2L1178.1,824.4L1178.9,824.5L1179.7,824.5L1180.5,824.6L1181.3,824.7L1182.1,824.7L1182.9,824.7L1183.7,824.7L1184.5,824.8L1185.3,824.8L1186.1,824.8L1186.9,824.8L1187.7,824.8L1188.5,824.8L1189.3,824.8L1190.1,824.8L1190.9,824.8L1191.7,824.8L1192.5,824.8L1193.3,824.8L1194.1,824.8L1194.9,824.8L1195.7,824.8L1196.5,824.8L1197.3,824.8L1198.1,824.8L1198.9,824.8L1199.7,824.8L1200.5,824.8L1201.3,824.8L1202.1,824.8L1202.9,824.8L1203.7,824.8L1204.5,824.8L1205.3,824.8L1206.1,824.8L1206.9,824.8L1207.7,824.8L1208.5,824.8L1209.3,824.8L1210.1,824.8L1210.9,824.8L1211.7,824.8L1212.5,824.8L1213.3,824.8L1214.1,824.8L1214.9,824.7L1215.7,824.7L1216.5,824.7L1217.3,824.7L1218.1,824.7L1218.9,824.7L1219.7,824.7L1220.5,824.6L1221.3,824.6L1222.1,824.6L1222.9,824.6L1223.7,824.5L1224.5,824.5L1225.3,824.4L1226.1,824.4L1226.9,824.3L1227.7,824.3L1228.5,824.2L1229.3,824.1L1230.1,824.1L1230.9,824L1231.7,824L1232.5,824L1233.3,824L1234.1,824.1L1234.9,824.1L1235.7,824.2L1236.5,824.2L1237.3,824.2L1238.1,824.3L1238.9,824.3L1239.7,824.4L1240.5,824.4L1241.3,824.4L1242.1,824.4L1242.9,824.4L1243.7,824.5L1244.5,824.5L1245.3,824.6L1246.1,824.8L1246.9,824.9L1247.7,825L1248.5,825.2L1249.3,825.3L1250.1,825.5L1250.9,825.7L1251.7,825.9L1252.5,826.1L1253.3,826.4L1254.1,826.7L1254.9,827.2L1255.7,827.7L1256.5,828.2L1257.3,828.9L1258.1,829.6L1258.9,830.4L1259.7,831.2L1260.5,832.1L1261.3,833L1262.1,834L1262.9,835L1263.7,836.1L1264.5,837.2L1265.3,838.4L1266.1,839.8L1266.9,841.4L1267.7,843.1L1268.5,844.9L1269.3,846.9L1270.1,848.9L1270.9,851.1L1271.7,853.3L1272.5,855.5L1273.3,857.7L1274.1,859.9L1274.9,862.1L1275.7,864.2L1276.5,866.3L1277.3,868.2L1278.1,870.1L1278.9,872L1279.7,873.9L1280.5,875.7L1281.3,877.6L1282.1,879.4L1282.9,881.2L1283.7,883L1284.5,884.7L1285.3,886.4L1286.1,888L1286.9,889.5L1287.7,891L1288.5,892.4L1289.3,893.7L1290.1,894.9L1290.9,896L1291.7,897.1L1292.5,898.1L1293.3,899.1L1294.1,900.1L1294.9,901L1295.7,901.9L1296.5,902.7L1297.3,903.4L1298.1,904.1L1298.9,904.8L1299.7,905.4L1300.5,905.9L1301.3,906.3L1302.1,906.7L1302.9,907.1L1303.7,907.2L1304.5,907.4L1305.3,907.5L1306.1,907.5L1306.9,907.6L1307.7,907.7L1308.5,907.7L1309.3,907.8L1310.1,907.8L1310.9,907.9L1311.7,907.9" fill="none" stroke="#222" stroke-width="0.8" stroke-linejoin="round"/>
<path d="M1102.9,908.1L1105.3,907.2L1107.7,907L1110.1,906.3L1112.5,906.2L1114.9,905.7L1117.3,902.2L1119.7,890.9L1122.1,877.2L1124.5,864.2L1126.9,826.2L1129.3,805.1L1131.7,763.3L1134.1,726.1L1136.5,712.4L1138.9,652.1L1141.3,631.3L1143.7,646.7L1146.1,632.1L1148.5,649.9L1150.9,676.8L1153.3,703.3L1155.7,756.1L1158.1,767.2L1160.5,790.4L1162.9,801.4L1165.3,813.8L1167.7,816.6L1170.1,827.8L1172.5,844.9L1174.9,837.5L1177.3,835.7L1179.7,843.3L1182.1,853.1L1184.5,843.6L1186.9,835.7L1189.3,841.3L1191.7,825.8L1194.1,830.5L1196.5,811.1L1198.9,809.1L1201.3,812.8L1203.7,820.4L1206.1,806L1208.5,812L1210.9,810.9L1213.3,794.5L1215.7,809L1218.1,813.3L1220.5,794.1L1222.9,787.5L1225.3,787.2L1227.7,793.4L1230.1,787.5L1232.5,804L1234.9,789.3L1237.3,790.7L1239.7,807.7L1242.1,803L1244.5,819L1246.9,818.9L1249.3,808.5L1251.7,824.8L1254.1,816.9L1256.5,818.7L1258.9,825.4L1261.3,824.1L1263.7,825.7L1266.1,840.2L1268.5,834.6L1270.9,838.1L1273.3,858.2L1275.7,867.9L1278.1,879.3L1280.5,872.7L1282.9,873.5L1285.3,880.9L1287.7,883.7L1290.1,886.9L1292.5,889.9L1294.9,895.9L1297.3,900.6L1299.7,898.3L1302.1,904.2L1304.5,903.6L1306.9,903.9L1309.3,904.8L1311.7,903.4L1314.1,907.3L1316.5,906.6L1318.9,906.4L1321.3,904.4L1323.7,907.3L1326.1,907.1L1328.5,907.1L1330.9,908.1" fill="none" stroke="#1a1a1a" stroke-width="0.8" stroke-linejoin="round"/>
<g stroke="#1c1c1c" stroke-width="1.15" fill="none">
<path d="M1018.9,583V908.1"/>
<path d="M1005.2,908.1H1018.9M1011.9,894.6H1018.9M1011.9,881H1018.9M1011.9,867.5H1018.9M1011.9,853.9H1018.9M1005.2,840.4H1018.9M1011.9,826.8H1018.9M1011.9,813.3H1018.9M1011.9,799.7H1018.9M1011.9,786.2H1018.9M1005.2,772.6H1018.9M1011.9,759.1H1018.9M1011.9,745.5H1018.9M1011.9,732H1018.9M1011.9,718.5H1018.9M1005.2,704.9H1018.9M1011.9,691.4H1018.9M1011.9,677.8H1018.9M1011.9,664.3H1018.9M1011.9,650.7H1018.9M1005.2,637.2H1018.9M1011.9,623.6H1018.9M1011.9,610.1H1018.9M1011.9,596.5H1018.9M1011.9,583H1018.9"/>
</g>
<path d="M1005.2,908.1H1108.5M1308.9,908.1H1339.7" stroke="#000" stroke-width="1.8"/>
<path d="M1108.5,908.6H1308.9" stroke="#555" stroke-width="1"/>
<path d="M1018.9,908.1V922.1M1096.8,908.1V922.1M1174.7,908.1V922.1M1252.6,908.1V922.1M1330.5,908.1V922.1" stroke="#000" stroke-width="1.25"/>
<path d="M1034.5,908.1V914.9M1050.1,908.1V914.9M1065.6,908.1V914.9M1081.2,908.1V914.9M1112.4,908.1V914.9M1128,908.1V914.9M1143.5,908.1V914.9M1159.1,908.1V914.9M1190.3,908.1V914.9M1205.9,908.1V914.9M1221.4,908.1V914.9M1237,908.1V914.9M1268.2,908.1V914.9M1283.8,908.1V914.9M1299.3,908.1V914.9M1314.9,908.1V914.9" stroke="#111" stroke-width="1.1"/>
<g font-family='"Liberation Sans", sans-serif' font-size="10.3" fill="#111" stroke="#111" stroke-width="0.2" text-anchor="middle">
<text x="1018.9" y="935.5">0</text>
<text x="1096.8" y="935.5">1000</text>
<text x="1174.7" y="935.5">2000</text>
<text x="1252.6" y="935.5">3000</text>
<text x="1330.5" y="935.5">4000</text>
<text transform="translate(999.4,908.1) rotate(-90)">0</text>
<text transform="translate(999.4,840.4) rotate(-90)">100</text>
<text transform="translate(999.4,772.6) rotate(-90)">200</text>
<text transform="translate(999.4,704.9) rotate(-90)">300</text>
<text transform="translate(999.4,637.2) rotate(-90)">400</text>
</g>
<g font-family='"Liberation Sans", sans-serif' font-size="11" fill="#111" stroke="#111" stroke-width="0.2">
<text x="1179" y="952.1" text-anchor="middle">FL2-A PE-A</text>
<text x="1339.2" y="952.1" text-anchor="end">(x 1000)</text>
<text transform="translate(982,745.5) rotate(-90)" text-anchor="middle">Number</text>
</g>
<path d="M1143.2,909.4L1138.4,917.7L1148,917.7Z" fill="#000"/>
<g font-family='"Liberation Sans", sans-serif' font-size="8.6" fill="#1818ff" stroke="#1818ff" stroke-width="0.15">
<rect x="1275" y="576" width="11" height="9.6" fill="#f40000" stroke="#111" stroke-width="0.9"/>
<text x="1291.3" y="585.1">Dip G1</text>
<rect x="1275" y="588.9" width="11" height="9.6" fill="#f40000" stroke="#111" stroke-width="0.9"/>
<text x="1291.3" y="598">Dip G2</text>
<rect x="1275" y="601.8" width="11" height="9.6" fill="url(#hatchL)" stroke="#111" stroke-width="0.9"/>
<path d="M1275.3,602.1l10.4,9.2M1282.6,602.2l3,2.6M1275.4,608.4l3,2.6" stroke="#2020ff" stroke-width="0.9"/>
<text x="1291.3" y="610.9">Dip S</text>
</g>
</g>
<g>
<path d="M1524.4,906.7L1525.2,906.7L1526,906.6L1526.8,906.5L1527.6,906.4L1528.4,906.3L1529.2,906.1L1530,905.9L1530.8,905.5L1531.6,905.1L1532.4,904.5L1533.2,903.8L1534,902.8L1534.8,901.7L1535.6,900.2L1536.4,898.4L1537.2,896.1L1538,893.4L1538.8,890.2L1539.6,886.3L1540.4,881.7L1541.2,876.4L1542,870.2L1542.8,863.2L1543.6,855.2L1544.4,846.3L1545.2,836.4L1546,825.7L1546.8,814L1547.6,801.6L1548.4,788.5L1549.2,774.9L1550,760.9L1550.8,746.8L1551.6,732.8L1552.4,719.2L1553.2,706.2L1554,694.1L1554.8,683.2L1555.6,673.7L1556.4,665.7L1557.2,659.6L1558,655.5L1558.8,653.5L1559.6,653.5L1560.4,655.7L1561.2,659.9L1562,666.1L1562.8,674.1L1563.6,683.8L1564.4,694.8L1565.2,706.9L1566,720L1566.8,733.6L1567.6,747.6L1568.4,761.7L1569.2,775.6L1570,789.2L1570.8,802.3L1571.6,814.7L1572.4,826.3L1573.2,837L1574,846.8L1574.8,855.7L1575.6,863.6L1576.4,870.6L1577.2,876.7L1578,882L1578.8,886.5L1579.6,890.4L1580.4,893.6L1581.2,896.3L1582,898.5L1582.8,900.3L1583.6,901.7L1584.4,902.9L1585.2,903.8L1586,904.5L1586.8,905.1L1587.6,905.5L1588.4,905.9L1589.2,906.1L1590,906.3L1590.8,906.4L1591.6,906.5L1592.4,906.6L1593.2,906.7L1594,906.7L1594,906.8L1524.4,906.8Z" fill="#f40000" stroke="#000" stroke-width="0.9" stroke-linejoin="round"/>
<path d="M1634.8,906.7L1635.6,906.7L1636.4,906.7L1637.2,906.6L1638,906.6L1638.8,906.6L1639.6,906.5L1640.4,906.5L1641.2,906.4L1642,906.4L1642.8,906.3L1643.6,906.2L1644.4,906.1L1645.2,906L1646,905.9L1646.8,905.8L1647.6,905.7L1648.4,905.5L1649.2,905.3L1650,905.2L1650.8,905L1651.6,904.7L1652.4,904.5L1653.2,904.3L1654,904L1654.8,903.7L1655.6,903.4L1656.4,903L1657.2,902.7L1658,902.3L1658.8,901.9L1659.6,901.5L1660.4,901.1L1661.2,900.6L1662,900.2L1662.8,899.7L1663.6,899.2L1664.4,898.7L1665.2,898.3L1666,897.8L1666.8,897.3L1667.6,896.8L1668.4,896.3L1669.2,895.8L1670,895.4L1670.8,895L1671.6,894.5L1672.4,894.1L1673.2,893.8L1674,893.4L1674.8,893.1L1675.6,892.9L1676.4,892.7L1677.2,892.5L1678,892.3L1678.8,892.2L1679.6,892.2L1680.4,892.2L1681.2,892.2L1682,892.3L1682.8,892.4L1683.6,892.6L1684.4,892.8L1685.2,893L1686,893.3L1686.8,893.6L1687.6,894L1688.4,894.4L1689.2,894.8L1690,895.2L1690.8,895.7L1691.6,896.1L1692.4,896.6L1693.2,897.1L1694,897.6L1694.8,898.1L1695.6,898.6L1696.4,899L1697.2,899.5L1698,900L1698.8,900.5L1699.6,900.9L1700.4,901.3L1701.2,901.8L1702,902.2L1702.8,902.5L1703.6,902.9L1704.4,903.2L1705.2,903.6L1706,903.9L1706.8,904.1L1707.6,904.4L1708.4,904.6L1709.2,904.9L1710,905.1L1710.8,905.3L1711.6,905.4L1712.4,905.6L1713.2,905.7L1714,905.9L1714.8,906L1715.6,906.1L1716.4,906.2L1717.2,906.3L1718,906.3L1718.8,906.4L1719.6,906.5L1720.4,906.5L1721.2,906.5L1722,906.6L1722.8,906.6L1723.6,906.6L1724.4,906.7L1725.2,906.7L1725.2,906.8L1634.8,906.8Z" fill="#f40000"/>
<path d="M1538,906.8L1538.8,906.6L1539.6,906.4L1540.4,906L1541.2,905.6L1542,905.1L1542.8,904.5L1543.6,903.9L1544.4,903.3L1545.2,902.6L1546,901.8L1546.8,900.7L1547.6,899.4L1548.4,898L1549.2,896.4L1550,894.8L1550.8,893L1551.6,891.3L1552.4,889.5L1553.2,887.7L1554,885.7L1554.8,883.6L1555.6,881.3L1556.4,879L1557.2,876.7L1558,874.3L1558.8,871.9L1559.6,869.6L1560.4,867.3L1561.2,865L1562,862.6L1562.8,860.1L1563.6,857.6L1564.4,855.1L1565.2,852.8L1566,850.7L1566.8,848.7L1567.6,847.1L1568.4,845.7L1569.2,844.3L1570,842.9L1570.8,841.7L1571.6,840.5L1572.4,839.4L1573.2,838.5L1574,837.8L1574.8,837.2L1575.6,836.8L1576.4,836.6L1577.2,836.3L1578,836.1L1578.8,835.8L1579.6,835.7L1580.4,835.5L1581.2,835.4L1582,835.3L1582.8,835.3L1583.6,835.3L1584.4,835.3L1585.2,835.3L1586,835.3L1586.8,835.3L1587.6,835.3L1588.4,835.3L1589.2,835.3L1590,835.3L1590.8,835.3L1591.6,835.3L1592.4,835.3L1593.2,835.3L1594,835.3L1594.8,835.3L1595.6,835.3L1596.4,835.3L1597.2,835.3L1598,835.3L1598.8,835.3L1599.6,835.3L1600.4,835.3L1601.2,835.3L1602,835.3L1602.8,835.3L1603.6,835.3L1604.4,835.3L1605.2,835.3L1606,835.3L1606.8,835.3L1607.6,835.3L1608.4,835.3L1609.2,835.3L1610,835.3L1610.8,835.3L1611.6,835.3L1612.4,835.3L1613.2,835.3L1614,835.3L1614.8,835.3L1615.6,835.3L1616.4,835.3L1617.2,835.3L1618,835.3L1618.8,835.3L1619.6,835.3L1620.4,835.3L1621.2,835.3L1622,835.3L1622.8,835.3L1623.6,835.3L1624.4,835.3L1625.2,835.3L1626,835.3L1626.8,835.3L1627.6,835.3L1628.4,835.3L1629.2,835.3L1630,835.3L1630.8,835.3L1631.6,835.3L1632.4,835.3L1633.2,835.3L1634,835.3L1634.8,835.3L1635.6,835.3L1636.4,835.3L1637.2,835.3L1638,835.3L1638.8,835.3L1639.6,835.3L1640.4,835.3L1641.2,835.3L1642,835.3L1642.8,835.3L1643.6,835.3L1644.4,835.3L1645.2,835.3L1646,835.3L1646.8,835.3L1647.6,835.3L1648.4,835.3L1649.2,835.5L1650,835.7L1650.8,836L1651.6,836.3L1652.4,836.7L1653.2,837.1L1654,837.5L1654.8,838L1655.6,838.4L1656.4,838.8L1657.2,839.3L1658,839.8L1658.8,840.4L1659.6,841L1660.4,841.6L1661.2,842.3L1662,843L1662.8,843.8L1663.6,844.6L1664.4,845.4L1665.2,846.3L1666,847.2L1666.8,848.3L1667.6,849.4L1668.4,850.6L1669.2,851.8L1670,853.1L1670.8,854.4L1671.6,855.7L1672.4,857.1L1673.2,858.5L1674,859.8L1674.8,861.2L1675.6,862.6L1676.4,864L1677.2,865.3L1678,866.7L1678.8,868.2L1679.6,869.8L1680.4,871.3L1681.2,872.9L1682,874.5L1682.8,876.2L1683.6,877.8L1684.4,879.4L1685.2,880.9L1686,882.4L1686.8,883.8L1687.6,885.2L1688.4,886.5L1689.2,887.7L1690,888.8L1690.8,889.9L1691.6,890.9L1692.4,892L1693.2,893L1694,894L1694.8,895L1695.6,896L1696.4,896.9L1697.2,897.7L1698,898.5L1698.8,899.3L1699.6,900L1700.4,900.7L1701.2,901.3L1702,901.8L1702.8,902.3L1703.6,902.8L1704.4,903.2L1705.2,903.7L1706,904.1L1706.8,904.6L1707.6,904.9L1708.4,905.3L1709.2,905.6L1710,905.9L1710.8,906.2L1711.6,906.4L1712.4,906.6L1713.2,906.8L1714,906.8L1714,906.8L1538,906.8Z" fill="url(#hatch)" stroke="#000" stroke-width="0.9" stroke-linejoin="round"/>
<path d="M1634.8,906.7L1635.6,906.7L1636.4,906.7L1637.2,906.6L1638,906.6L1638.8,906.6L1639.6,906.5L1640.4,906.5L1641.2,906.4L1642,906.4L1642.8,906.3L1643.6,906.2L1644.4,906.1L1645.2,906L1646,905.9L1646.8,905.8L1647.6,905.7L1648.4,905.5L1649.2,905.3L1650,905.2L1650.8,905L1651.6,904.7L1652.4,904.5L1653.2,904.3L1654,904L1654.8,903.7L1655.6,903.4L1656.4,903L1657.2,902.7L1658,902.3L1658.8,901.9L1659.6,901.5L1660.4,901.1L1661.2,900.6L1662,900.2L1662.8,899.7L1663.6,899.2L1664.4,898.7L1665.2,898.3L1666,897.8L1666.8,897.3L1667.6,896.8L1668.4,896.3L1669.2,895.8L1670,895.4L1670.8,895L1671.6,894.5L1672.4,894.1L1673.2,893.8L1674,893.4L1674.8,893.1L1675.6,892.9L1676.4,892.7L1677.2,892.5L1678,892.3L1678.8,892.2L1679.6,892.2L1680.4,892.2L1681.2,892.2L1682,892.3L1682.8,892.4L1683.6,892.6L1684.4,892.8L1685.2,893L1686,893.3L1686.8,893.6L1687.6,894L1688.4,894.4L1689.2,894.8L1690,895.2L1690.8,895.7L1691.6,896.1L1692.4,896.6L1693.2,897.1L1694,897.6L1694.8,898.1L1695.6,898.6L1696.4,899L1697.2,899.5L1698,900L1698.8,900.5L1699.6,900.9L1700.4,901.3L1701.2,901.8L1702,902.2L1702.8,902.5L1703.6,902.9L1704.4,903.2L1705.2,903.6L1706,903.9L1706.8,904.1L1707.6,904.4L1708.4,904.6L1709.2,904.9L1710,905.1L1710.8,905.3L1711.6,905.4L1712.4,905.6L1713.2,905.7L1714,905.9L1714.8,906L1715.6,906.1L1716.4,906.2L1717.2,906.3L1718,906.3L1718.8,906.4L1719.6,906.5L1720.4,906.5L1721.2,906.5L1722,906.6L1722.8,906.6L1723.6,906.6L1724.4,906.7L1725.2,906.7" fill="none" stroke="#000" stroke-width="0.8" stroke-linejoin="round"/>
<path d="M1526,906.6L1526.8,906.5L1527.6,906.4L1528.4,906.3L1529.2,906.1L1530,905.9L1530.8,905.5L1531.6,905.1L1532.4,904.5L1533.2,903.8L1534,902.8L1534.8,901.7L1535.6,900.2L1536.4,898.4L1537.2,896.1L1538,893.4L1538.8,890L1539.6,885.9L1540.4,881L1541.2,875.2L1542,868.5L1542.8,860.9L1543.6,852.3L1544.4,842.8L1545.2,832.3L1546,820.6L1546.8,807.9L1547.6,794.2L1548.4,779.7L1549.2,764.5L1550,748.9L1550.8,733L1551.6,717.3L1552.4,701.9L1553.2,687.1L1554,673L1554.8,660L1555.6,648.2L1556.4,638L1557.2,629.5L1558,623L1558.8,618.6L1559.6,616.3L1560.4,616.2L1561.2,618.1L1562,621.9L1562.8,627.4L1563.6,634.6L1564.4,643.1L1565.2,653L1566,663.8L1566.8,675.6L1567.6,687.9L1568.4,700.6L1569.2,713.1L1570,725.4L1570.8,737.2L1571.6,748.4L1572.4,758.9L1573.2,768.7L1574,777.8L1574.8,786.1L1575.6,793.6L1576.4,800.4L1577.2,806.2L1578,811.3L1578.8,815.6L1579.6,819.2L1580.4,822.3L1581.2,824.9L1582,827L1582.8,828.8L1583.6,830.2L1584.4,831.4L1585.2,832.3L1586,833L1586.8,833.6L1587.6,834L1588.4,834.3L1589.2,834.6L1590,834.8L1590.8,834.9L1591.6,835L1592.4,835.1L1593.2,835.2L1594,835.2L1594.8,835.2L1595.6,835.2L1596.4,835.2L1597.2,835.3L1598,835.3L1598.8,835.3L1599.6,835.3L1600.4,835.3L1601.2,835.3L1602,835.3L1602.8,835.3L1603.6,835.3L1604.4,835.3L1605.2,835.3L1606,835.3L1606.8,835.3L1607.6,835.3L1608.4,835.3L1609.2,835.3L1610,835.3L1610.8,835.3L1611.6,835.3L1612.4,835.3L1613.2,835.3L1614,835.3L1614.8,835.3L1615.6,835.3L1616.4,835.3L1617.2,835.3L1618,835.3L1618.8,835.3L1619.6,835.3L1620.4,835.3L1621.2,835.3L1622,835.3L1622.8,835.3L1623.6,835.3L1624.4,835.3L1625.2,835.3L1626,835.3L1626.8,835.3L1627.6,835.3L1628.4,835.3L1629.2,835.2L1630,835.2L1630.8,835.2L1631.6,835.2L1632.4,835.2L1633.2,835.2L1634,835.2L1634.8,835.2L1635.6,835.2L1636.4,835.1L1637.2,835.1L1638,835.1L1638.8,835L1639.6,835L1640.4,835L1641.2,834.9L1642,834.8L1642.8,834.8L1643.6,834.7L1644.4,834.6L1645.2,834.5L1646,834.4L1646.8,834.3L1647.6,834.1L1648.4,834L1649.2,834L1650,834.1L1650.8,834.1L1651.6,834.3L1652.4,834.4L1653.2,834.5L1654,834.7L1654.8,834.8L1655.6,835L1656.4,835.1L1657.2,835.2L1658,835.3L1658.8,835.5L1659.6,835.7L1660.4,835.9L1661.2,836.1L1662,836.4L1662.8,836.7L1663.6,837L1664.4,837.3L1665.2,837.7L1666,838.2L1666.8,838.8L1667.6,839.4L1668.4,840.1L1669.2,840.9L1670,841.7L1670.8,842.5L1671.6,843.5L1672.4,844.4L1673.2,845.4L1674,846.5L1674.8,847.6L1675.6,848.7L1676.4,849.8L1677.2,851L1678,852.3L1678.8,853.7L1679.6,855.1L1680.4,856.7L1681.2,858.3L1682,860L1682.8,861.8L1683.6,863.6L1684.4,865.3L1685.2,867.1L1686,868.9L1686.8,870.7L1687.6,872.4L1688.4,874.1L1689.2,875.7L1690,877.2L1690.8,878.7L1691.6,880.3L1692.4,881.8L1693.2,883.3L1694,884.8L1694.8,886.3L1695.6,887.7L1696.4,889.1L1697.2,890.4L1698,891.7L1698.8,893L1699.6,894.1L1700.4,895.2L1701.2,896.2L1702,897.2L1702.8,898L1703.6,898.9L1704.4,899.7L1705.2,900.5L1706,901.2L1706.8,901.9L1707.6,902.5L1708.4,903.2L1709.2,903.7L1710,904.2L1710.8,904.7L1711.6,905.1L1712.4,905.4L1713.2,905.7L1714,905.9L1714.8,906L1715.6,906.1L1716.4,906.2L1717.2,906.3L1718,906.3L1718.8,906.4L1719.6,906.5L1720.4,906.5L1721.2,906.5L1722,906.6" fill="none" stroke="#111" stroke-width="0.9" stroke-linejoin="round"/>
<path d="M1526,906.6L1526.8,906.5L1527.6,906.4L1528.4,906.3L1529.2,906.1L1530,905.9L1530.8,905.5L1531.6,905.1L1532.4,904.5L1533.2,903.8L1534,902.8L1534.8,901.7L1535.6,900.2L1536.4,898.4L1537.2,896.1L1538,893.4L1538.8,890L1539.6,885.9L1540.4,881L1541.2,875.2L1542,868.5L1542.8,860.9L1543.6,852.3L1544.4,842.8L1545.2,832.3L1546,820.6L1546.8,807.9L1547.6,794.2L1548.4,779.7L1549.2,764.5L1550,748.9L1550.8,733L1551.6,717.3L1552.4,701.9L1553.2,687.1L1554,673L1554.8,660L1555.6,648.2L1556.4,638L1557.2,629.5L1558,623L1558.8,618.6L1559.6,616.3L1560.4,616.2L1561.2,618.1L1562,621.9L1562.8,627.4L1563.6,634.6L1564.4,643.1L1565.2,653L1566,663.8L1566.8,675.6L1567.6,687.9L1568.4,700.6L1569.2,713.1L1570,725.4L1570.8,737.2L1571.6,748.4L1572.4,758.9L1573.2,768.7L1574,777.8L1574.8,786.1L1575.6,793.6L1576.4,800.4L1577.2,806.2L1578,811.3L1578.8,815.6L1579.6,819.2L1580.4,822.3L1581.2,824.9L1582,827L1582.8,828.8L1583.6,830.2L1584.4,831.4L1585.2,832.3L1586,833L1586.8,833.6L1587.6,834L1588.4,834.3L1589.2,834.6L1590,834.8L1590.8,834.9L1591.6,835L1592.4,835.1L1593.2,835.2L1594,835.2L1594.8,835.2L1595.6,835.2L1596.4,835.2L1597.2,835.3L1598,835.3L1598.8,835.3L1599.6,835.3L1600.4,835.3L1601.2,835.3L1602,835.3L1602.8,835.3L1603.6,835.3L1604.4,835.3L1605.2,835.3L1606,835.3L1606.8,835.3L1607.6,835.3L1608.4,835.3L1609.2,835.3L1610,835.3L1610.8,835.3L1611.6,835.3L1612.4,835.3L1613.2,835.3L1614,835.3L1614.8,835.3L1615.6,835.3L1616.4,835.3L1617.2,835.3L1618,835.3L1618.8,835.3L1619.6,835.3L1620.4,835.3L1621.2,835.3L1622,835.3L1622.8,835.3L1623.6,835.3L1624.4,835.3L1625.2,835.3L1626,835.3L1626.8,835.3L1627.6,835.3L1628.4,835.3L1629.2,835.2L1630,835.2L1630.8,835.2L1631.6,835.2L1632.4,835.2L1633.2,835.2L1634,835.2L1634.8,835.2L1635.6,835.2L1636.4,835.1L1637.2,835.1L1638,835.1L1638.8,835L1639.6,835L1640.4,835L1641.2,834.9L1642,834.8L1642.8,834.8L1643.6,834.7L1644.4,834.6L1645.2,834.5L1646,834.4L1646.8,834.3L1647.6,834.1L1648.4,834L1649.2,834L1650,834.1L1650.8,834.1L1651.6,834.3L1652.4,834.4L1653.2,834.5L1654,834.7L1654.8,834.8L1655.6,835L1656.4,835.1L1657.2,835.2L1658,835.3L1658.8,835.3L1659.6,835.3L1660.4,835.3L1661.2,835.3L1662,835.3L1662.8,835.3L1663.6,835.3L1664.4,835.5L1665.2,835.7L1666,836L1666.8,836.4L1667.6,836.8L1668.4,837.3L1669.2,837.8L1670,838.3L1670.8,839L1671.6,839.9L1672.4,841.1L1673.2,842.5L1674,844.2L1674.8,845.9L1675.6,847.8L1676.4,849.7L1677.2,851L1678,852.3L1678.8,853.7L1679.6,855.1L1680.4,856.7L1681.2,858.3L1682,860L1682.8,861.8L1683.6,863.6L1684.4,865.3L1685.2,867.1L1686,868.9L1686.8,870.7L1687.6,872.4L1688.4,874.1L1689.2,875.7L1690,877.2L1690.8,878.7L1691.6,880.3L1692.4,881.8L1693.2,883.3L1694,884.8L1694.8,886.3L1695.6,887.7L1696.4,889.1L1697.2,890.4L1698,891.7L1698.8,893L1699.6,894.1L1700.4,895.2L1701.2,896.2L1702,897.2L1702.8,898L1703.6,898.9L1704.4,899.7L1705.2,900.5L1706,901.2L1706.8,901.9L1707.6,902.5L1708.4,903.2L1709.2,903.7L1710,904.2L1710.8,904.7L1711.6,905.1L1712.4,905.4L1713.2,905.7L1714,905.9L1714.8,906L1715.6,906.1L1716.4,906.2L1717.2,906.3L1718,906.3L1718.8,906.4L1719.6,906.5L1720.4,906.5L1721.2,906.5L1722,906.6" fill="none" stroke="#222" stroke-width="0.8" stroke-linejoin="round"/>
<path d="M1525.2,906.8L1527.6,906.4L1530,906.8L1532.4,904L1534.8,900.9L1537.2,900.6L1539.6,886.3L1542,867.7L1544.4,839.1L1546.8,814.5L1549.2,777.4L1551.6,727.9L1554,666L1556.4,646.4L1558.8,615.1L1561.2,586.6L1563.6,633.6L1566,673.5L1568.4,702.2L1570.8,736.5L1573.2,761.7L1575.6,805.9L1578,830.9L1580.4,834.6L1582.8,840.3L1585.2,860.8L1587.6,859.4L1590,857L1592.4,857.1L1594.8,855.5L1597.2,853.7L1599.6,852.6L1602,849.2L1604.4,831.5L1606.8,843.7L1609.2,825.1L1611.6,840.9L1614,819.3L1616.4,840.7L1618.8,816L1621.2,831.9L1623.6,824.4L1626,822.3L1628.4,824.9L1630.8,806.8L1633.2,815.7L1635.6,825.1L1638,808.3L1640.4,806.5L1642.8,820.2L1645.2,806L1647.6,809.2L1650,803.3L1652.4,805.1L1654.8,812.1L1657.2,816.7L1659.6,808.4L1662,815.4L1664.4,831.6L1666.8,827.7L1669.2,831L1671.6,833.7L1674,826.4L1676.4,843.9L1678.8,843.7L1681.2,839.6L1683.6,852L1686,857.5L1688.4,859.6L1690.8,872.3L1693.2,873L1695.6,876.4L1698,883L1700.4,891.3L1702.8,895.4L1705.2,896.3L1707.6,896.9L1710,901.1L1712.4,898.2L1714.8,903.1L1717.2,903.6L1719.6,904.9L1722,903.4L1724.4,905.2L1726.8,905.6L1729.2,905L1731.6,904.4L1734,905.5L1736.4,903.2L1738.8,905.2L1741.2,906L1743.6,906.8" fill="none" stroke="#1a1a1a" stroke-width="0.8" stroke-linejoin="round"/>
<g stroke="#1c1c1c" stroke-width="1.15" fill="none">
<path d="M1438.8,581.7V906.8"/>
<path d="M1425.1,906.8H1438.8M1431.8,890.5H1438.8M1431.8,874.3H1438.8M1431.8,858H1438.8M1431.8,841.8H1438.8M1425.1,825.5H1438.8M1431.8,809.3H1438.8M1431.8,793H1438.8M1431.8,776.8H1438.8M1431.8,760.5H1438.8M1425.1,744.2H1438.8M1431.8,728H1438.8M1431.8,711.7H1438.8M1431.8,695.5H1438.8M1431.8,679.2H1438.8M1425.1,663H1438.8M1431.8,646.7H1438.8M1431.8,630.5H1438.8M1431.8,614.2H1438.8M1431.8,598H1438.8M1425.1,581.7H1438.8"/>
</g>
<path d="M1425.1,906.8H1530M1720,906.8H1760" stroke="#000" stroke-width="1.8"/>
<path d="M1530,907.3H1720" stroke="#555" stroke-width="1"/>
<path d="M1438.8,906.8V920.8M1514.7,906.8V920.8M1590.6,906.8V920.8M1666.5,906.8V920.8M1742.4,906.8V920.8" stroke="#000" stroke-width="1.25"/>
<path d="M1454,906.8V913.6M1469.2,906.8V913.6M1484.3,906.8V913.6M1499.5,906.8V913.6M1529.9,906.8V913.6M1545.1,906.8V913.6M1560.2,906.8V913.6M1575.4,906.8V913.6M1605.8,906.8V913.6M1621,906.8V913.6M1636.1,906.8V913.6M1651.3,906.8V913.6M1681.7,906.8V913.6M1696.9,906.8V913.6M1712,906.8V913.6M1727.2,906.8V913.6M1757.6,906.8V913.6" stroke="#111" stroke-width="1.1"/>
<g font-family='"Liberation Sans", sans-serif' font-size="10.3" fill="#111" stroke="#111" stroke-width="0.2" text-anchor="middle">
<text x="1438.8" y="934.2">0</text>
<text x="1514.7" y="934.2">1000</text>
<text x="1590.6" y="934.2">2000</text>
<text x="1666.5" y="934.2">3000</text>
<text x="1742.4" y="934.2">4000</text>
<text transform="translate(1419.3,906.8) rotate(-90)">0</text>
<text transform="translate(1419.3,825.5) rotate(-90)">100</text>
<text transform="translate(1419.3,744.2) rotate(-90)">200</text>
<text transform="translate(1419.3,663) rotate(-90)">300</text>
<text transform="translate(1419.3,581.7) rotate(-90)">400</text>
</g>
<g font-family='"Liberation Sans", sans-serif' font-size="11" fill="#111" stroke="#111" stroke-width="0.2">
<text x="1600" y="950.8" text-anchor="middle">FL2-A PE-A</text>
<text x="1759.5" y="950.8" text-anchor="end">(x 1000)</text>
<text transform="translate(1402,744.2) rotate(-90)" text-anchor="middle">Number</text>
</g>
<path d="M1562.1,908.1L1557.3,916.4L1566.9,916.4Z" fill="#000"/>
<g font-family='"Liberation Sans", sans-serif' font-size="8.6" fill="#1818ff" stroke="#1818ff" stroke-width="0.15">
<rect x="1695.5" y="574.5" width="11" height="9.6" fill="#f40000" stroke="#111" stroke-width="0.9"/>
<text x="1711.8" y="583.6">Dip G1</text>
<rect x="1695.5" y="587.4" width="11" height="9.6" fill="#f40000" stroke="#111" stroke-width="0.9"/>
<text x="1711.8" y="596.5">Dip G2</text>
<rect x="1695.5" y="600.3" width="11" height="9.6" fill="url(#hatchL)" stroke="#111" stroke-width="0.9"/>
<path d="M1695.8,600.6l10.4,9.2M1703.1,600.7l3,2.6M1695.9,606.9l3,2.6" stroke="#2020ff" stroke-width="0.9"/>
<text x="1711.8" y="609.4">Dip S</text>
</g>
</g>
<rect x="285.1" y="1190.4" width="40.9" height="267.2" fill="#000"/>
<rect x="289" y="1194.5" width="33.1" height="97.5" fill="#808080"/>
<rect x="289" y="1296.9" width="33.1" height="1.7" fill="#e4e4e4"/>
<rect x="346.5" y="1190.4" width="40.5" height="267.2" fill="#000"/>
<rect x="350.4" y="1194.5" width="32.7" height="106.6" fill="#808080"/>
<rect x="350.4" y="1305.6" width="32.7" height="1.4" fill="#e4e4e4"/>
<rect x="407.8" y="1190.4" width="40.9" height="267.2" fill="#000"/>
<rect x="411.7" y="1194.5" width="33.1" height="95" fill="#808080"/>
<rect x="411.7" y="1293.8" width="33.1" height="1.4" fill="#e4e4e4"/>
<rect x="468.9" y="1190.4" width="41.5" height="267.2" fill="#000"/>
<rect x="472.8" y="1194.5" width="33.7" height="143.4" fill="#808080"/>
<path d="M247.9,1057.5H264.4V1457.6" fill="none" stroke="#000" stroke-width="3.8"/>
<path d="M247.2,1457.6H533.1" fill="none" stroke="#000" stroke-width="4.2"/>
<path d="M247.9,1324.2H264.4M247.9,1190.9H264.4M305,1457.6V1474.1M366.8,1457.6V1474.1M427.9,1457.6V1474.1M489.3,1457.6V1474.1" stroke="#000" stroke-width="3.8"/>
<g font-family='"Liberation Sans", sans-serif' font-weight="bold" fill="#000">
<text x="243.2" y="1468.5" font-size="30.5" text-anchor="end">0</text>
<text x="243.2" y="1335.2" font-size="30.5" text-anchor="end">50</text>
<text x="243.2" y="1201.8" font-size="30.5" text-anchor="end">100</text>
<text x="243.2" y="1068.4" font-size="30.5" text-anchor="end">150</text>
<text transform="translate(314.8,1501.9) rotate(-45)" font-size="30.5" text-anchor="end">Control</text>
<text transform="translate(376.6,1501.9) rotate(-45)" font-size="30.5" text-anchor="end">nHA</text>
<text transform="translate(437.7,1501.9) rotate(-45)" font-size="30.5" text-anchor="end">NPB</text>
<text transform="translate(499.1,1501.9) rotate(-45)" font-size="30.5" text-anchor="end">NPs</text>
<text transform="translate(172.5,1256) rotate(-90)" font-size="33" text-anchor="middle">cell cycle stage(%)</text>
<text x="398.5" y="1630.3" font-size="33.5" text-anchor="middle">1ug</text>
</g>
<g font-family='"Liberation Sans", sans-serif' font-size="33" fill="#0a0a0a">
<rect x="539.1" y="1066.7" width="38.6" height="17.3" fill="#808080" stroke="#000" stroke-width="3.8"/>
<text x="602" y="1085.6">S</text>
<rect x="539.1" y="1120.5" width="38.6" height="17.5" fill="#d4d4d4" stroke="#000" stroke-width="3.8"/>
<text x="602" y="1139.6">G2</text>
<rect x="539.1" y="1174.5" width="38.6" height="17.6" fill="#000" stroke="#000" stroke-width="3.8"/>
<text x="602" y="1193.7">G1</text>
</g>
<rect x="1157.2" y="1185.7" width="43.2" height="278.8" fill="#000"/>
<rect x="1161.3" y="1189.8" width="35" height="68.1" fill="#808080"/>
<rect x="1161.3" y="1262" width="35" height="2.5" fill="#e4e4e4"/>
<rect x="1221.1" y="1185.7" width="43.3" height="278.8" fill="#000"/>
<rect x="1225.2" y="1189.8" width="35.1" height="75.4" fill="#808080"/>
<rect x="1225.2" y="1268.6" width="35.1" height="1.5" fill="#e4e4e4"/>
<rect x="1285.9" y="1185.7" width="42.7" height="278.8" fill="#000"/>
<rect x="1290" y="1189.8" width="34.5" height="177.1" fill="#808080"/>
<rect x="1290" y="1371.6" width="34.5" height="4.6" fill="#e4e4e4"/>
<rect x="1350" y="1185.7" width="42.6" height="278.8" fill="#000"/>
<rect x="1354.1" y="1189.8" width="34.4" height="164.4" fill="#808080"/>
<rect x="1354.1" y="1359.1" width="34.4" height="6.8" fill="#e4e4e4"/>
<path d="M1118,1047H1135.9V1464.5" fill="none" stroke="#000" stroke-width="3.8"/>
<path d="M1118,1464.5H1416.2" fill="none" stroke="#000" stroke-width="4.2"/>
<path d="M1118,1325.3H1135.9M1118,1186.2H1135.9M1177.9,1464.5V1481.8M1242.1,1464.5V1481.8M1306.4,1464.5V1481.8M1371.1,1464.5V1481.8" stroke="#000" stroke-width="3.8"/>
<g font-family='"Liberation Sans", sans-serif' font-weight="bold" fill="#000">
<text x="1113.2" y="1475.9" font-size="31.7" text-anchor="end">0</text>
<text x="1113.2" y="1336.7" font-size="31.7" text-anchor="end">50</text>
<text x="1113.2" y="1197.5" font-size="31.7" text-anchor="end">100</text>
<text x="1113.2" y="1058.4" font-size="31.7" text-anchor="end">150</text>
<text transform="translate(1187.7,1509.6) rotate(-45)" font-size="31.7" text-anchor="end">Control</text>
<text transform="translate(1251.9,1509.6) rotate(-45)" font-size="31.7" text-anchor="end">nHA</text>
<text transform="translate(1316.2,1509.6) rotate(-45)" font-size="31.7" text-anchor="end">NPB</text>
<text transform="translate(1380.9,1509.6) rotate(-45)" font-size="31.7" text-anchor="end">NPS</text>
<text transform="translate(1042.5,1256.2) rotate(-90)" font-size="34.3" text-anchor="middle">cell cycle stage(%)</text>
<text x="1274.2" y="1643.4" font-size="33.5" text-anchor="middle">2ug</text>
</g>
<g font-family='"Liberation Sans", sans-serif' font-size="34.3" fill="#0a0a0a" letter-spacing="-1.6">
<rect x="1442" y="1073.2" width="41" height="18.2" fill="#808080" stroke="#000" stroke-width="4.3"/>
<text x="1508.4" y="1093.2">S</text>
<rect x="1442" y="1129.8" width="41" height="18.2" fill="#d4d4d4" stroke="#000" stroke-width="4.3"/>
<text x="1508.4" y="1149.8">G2</text>
<rect x="1442" y="1186.4" width="41" height="18.2" fill="#000" stroke="#000" stroke-width="4.3"/>
<text x="1508.4" y="1206.4">G1</text>
</g>
</svg></body></html>
